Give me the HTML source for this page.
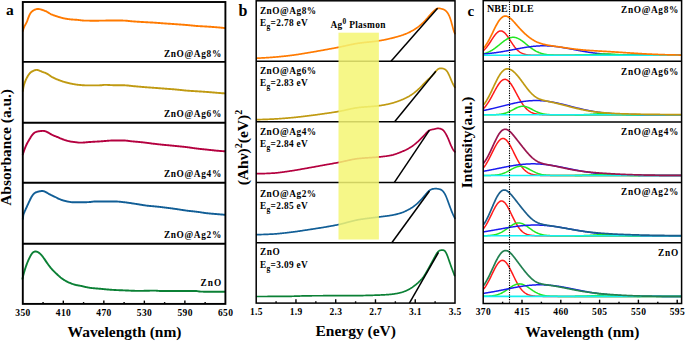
<!DOCTYPE html>
<html><head><meta charset="utf-8"><style>
html,body{margin:0;padding:0;background:#fff;width:685px;height:341px;overflow:hidden}
svg{display:block}
text{font-family:"Liberation Serif",serif;font-weight:bold;fill:#000}
</style></head><body>
<svg width="685" height="341" viewBox="0 0 685 341">
<path d="M22.8,31.10 L23.3,29.26 L23.8,27.78 L24.3,26.60 L24.8,25.63 L25.3,24.78 L25.8,23.88 L26.3,22.89 L26.8,21.81 L27.3,20.59 L27.8,19.27 L28.3,17.91 L28.8,16.59 L29.3,15.40 L29.8,14.36 L30.3,13.49 L30.8,12.76 L31.3,12.16 L31.8,11.65 L32.3,11.21 L32.8,10.84 L33.3,10.51 L33.8,10.22 L34.3,9.96 L34.8,9.73 L35.3,9.52 L35.8,9.33 L36.3,9.18 L36.8,9.06 L37.3,8.98 L37.8,8.94 L38.3,8.95 L38.8,8.99 L39.3,9.07 L39.8,9.18 L40.3,9.31 L40.8,9.45 L41.3,9.61 L41.8,9.77 L42.3,9.93 L42.8,10.10 L43.3,10.27 L43.8,10.44 L44.3,10.62 L44.8,10.81 L45.3,11.01 L45.8,11.23 L46.3,11.47 L46.8,11.72 L47.3,11.99 L47.8,12.28 L48.3,12.58 L48.8,12.89 L49.3,13.19 L49.8,13.49 L50.3,13.77 L50.8,14.04 L51.3,14.29 L51.8,14.52 L52.3,14.73 L52.8,14.94 L53.3,15.13 L53.8,15.32 L54.3,15.50 L54.8,15.68 L55.3,15.85 L55.8,16.02 L56.3,16.18 L56.8,16.34 L57.3,16.50 L57.8,16.66 L58.3,16.82 L58.8,16.97 L59.3,17.13 L59.8,17.28 L60.3,17.42 L60.8,17.57 L61.3,17.71 L61.8,17.84 L62.3,17.97 L62.8,18.09 L63.3,18.21 L63.8,18.32 L64.3,18.42 L64.8,18.52 L65.3,18.62 L65.8,18.71 L66.3,18.79 L66.8,18.88 L67.3,18.96 L67.8,19.03 L68.3,19.10 L68.8,19.17 L69.3,19.23 L69.8,19.29 L70.3,19.35 L70.8,19.40 L71.3,19.44 L71.8,19.48 L72.3,19.52 L72.8,19.56 L73.3,19.59 L73.8,19.62 L74.3,19.65 L74.8,19.68 L75.3,19.71 L75.8,19.75 L76.3,19.78 L76.8,19.82 L77.3,19.86 L77.8,19.90 L78.3,19.95 L78.8,20.01 L79.3,20.07 L79.8,20.14 L80.3,20.21 L80.8,20.28 L81.3,20.35 L81.8,20.41 L82.3,20.46 L82.8,20.51 L83.3,20.55 L83.8,20.58 L84.3,20.60 L84.8,20.61 L85.3,20.62 L85.8,20.63 L86.3,20.64 L86.8,20.64 L87.3,20.65 L87.8,20.66 L88.3,20.66 L88.8,20.67 L89.3,20.67 L89.8,20.68 L90.3,20.68 L90.8,20.68 L91.3,20.69 L91.8,20.69 L92.3,20.69 L92.8,20.69 L93.3,20.70 L93.8,20.70 L94.3,20.70 L94.8,20.70 L95.3,20.70 L95.8,20.70 L96.3,20.70 L96.8,20.69 L97.3,20.69 L97.8,20.69 L98.3,20.68 L98.8,20.68 L99.3,20.67 L99.8,20.67 L100.3,20.66 L100.8,20.65 L101.3,20.65 L101.8,20.64 L102.3,20.63 L102.8,20.62 L103.3,20.62 L103.8,20.61 L104.3,20.60 L104.8,20.59 L105.3,20.58 L105.8,20.57 L106.3,20.57 L106.8,20.56 L107.3,20.55 L107.8,20.54 L108.3,20.54 L108.8,20.53 L109.3,20.52 L109.8,20.52 L110.3,20.51 L110.8,20.51 L111.3,20.51 L111.8,20.50 L112.3,20.50 L112.8,20.50 L113.3,20.50 L113.8,20.50 L114.3,20.50 L114.8,20.50 L115.3,20.50 L115.8,20.51 L116.3,20.51 L116.8,20.51 L117.3,20.51 L117.8,20.52 L118.3,20.52 L118.8,20.53 L119.3,20.53 L119.8,20.53 L120.3,20.54 L120.8,20.55 L121.3,20.55 L121.8,20.56 L122.3,20.56 L122.8,20.57 L123.3,20.58 L123.8,20.59 L124.3,20.60 L124.8,20.62 L125.3,20.65 L125.8,20.68 L126.3,20.72 L126.8,20.77 L127.3,20.82 L127.8,20.88 L128.3,20.94 L128.8,20.99 L129.3,21.05 L129.8,21.11 L130.3,21.16 L130.8,21.21 L131.3,21.25 L131.8,21.29 L132.3,21.33 L132.8,21.37 L133.3,21.41 L133.8,21.45 L134.3,21.48 L134.8,21.52 L135.3,21.55 L135.8,21.59 L136.3,21.62 L136.8,21.65 L137.3,21.69 L137.8,21.72 L138.3,21.75 L138.8,21.78 L139.3,21.81 L139.8,21.85 L140.3,21.88 L140.8,21.91 L141.3,21.94 L141.8,21.97 L142.3,22.00 L142.8,22.03 L143.3,22.06 L143.8,22.09 L144.3,22.11 L144.8,22.14 L145.3,22.17 L145.8,22.20 L146.3,22.22 L146.8,22.25 L147.3,22.28 L147.8,22.30 L148.3,22.33 L148.8,22.35 L149.3,22.38 L149.8,22.40 L150.3,22.43 L150.8,22.46 L151.3,22.48 L151.8,22.51 L152.3,22.54 L152.8,22.57 L153.3,22.60 L153.8,22.63 L154.3,22.66 L154.8,22.69 L155.3,22.72 L155.8,22.76 L156.3,22.79 L156.8,22.83 L157.3,22.86 L157.8,22.90 L158.3,22.94 L158.8,22.98 L159.3,23.02 L159.8,23.06 L160.3,23.10 L160.8,23.14 L161.3,23.18 L161.8,23.22 L162.3,23.26 L162.8,23.29 L163.3,23.33 L163.8,23.37 L164.3,23.41 L164.8,23.45 L165.3,23.48 L165.8,23.52 L166.3,23.55 L166.8,23.59 L167.3,23.62 L167.8,23.66 L168.3,23.69 L168.8,23.72 L169.3,23.76 L169.8,23.79 L170.3,23.82 L170.8,23.85 L171.3,23.89 L171.8,23.92 L172.3,23.95 L172.8,23.98 L173.3,24.02 L173.8,24.05 L174.3,24.08 L174.8,24.12 L175.3,24.15 L175.8,24.19 L176.3,24.22 L176.8,24.26 L177.3,24.29 L177.8,24.33 L178.3,24.37 L178.8,24.40 L179.3,24.44 L179.8,24.48 L180.3,24.51 L180.8,24.55 L181.3,24.59 L181.8,24.63 L182.3,24.66 L182.8,24.70 L183.3,24.74 L183.8,24.78 L184.3,24.82 L184.8,24.86 L185.3,24.90 L185.8,24.94 L186.3,24.99 L186.8,25.03 L187.3,25.07 L187.8,25.12 L188.3,25.17 L188.8,25.21 L189.3,25.26 L189.8,25.31 L190.3,25.36 L190.8,25.41 L191.3,25.47 L191.8,25.52 L192.3,25.57 L192.8,25.62 L193.3,25.67 L193.8,25.71 L194.3,25.76 L194.8,25.81 L195.3,25.85 L195.8,25.89 L196.3,25.93 L196.8,25.97 L197.3,26.01 L197.8,26.04 L198.3,26.08 L198.8,26.11 L199.3,26.14 L199.8,26.17 L200.3,26.20 L200.8,26.22 L201.3,26.25 L201.8,26.28 L202.3,26.30 L202.8,26.33 L203.3,26.36 L203.8,26.38 L204.3,26.41 L204.8,26.44 L205.3,26.46 L205.8,26.49 L206.3,26.52 L206.8,26.55 L207.3,26.58 L207.8,26.62 L208.3,26.65 L208.8,26.68 L209.3,26.72 L209.8,26.75 L210.3,26.78 L210.8,26.82 L211.3,26.86 L211.8,26.89 L212.3,26.93 L212.8,26.97 L213.3,27.01 L213.8,27.04 L214.3,27.08 L214.8,27.12 L215.3,27.16 L215.8,27.20 L216.3,27.25 L216.8,27.29 L217.3,27.33 L217.8,27.38 L218.3,27.42 L218.8,27.47 L219.3,27.51 L219.8,27.56 L220.3,27.61 L220.8,27.66 L221.3,27.71 L221.8,27.76 L222.3,27.81 L222.8,27.87 L223.3,27.92 L223.8,27.97 L224.3,28.03 L224.8,28.09 L224.9,28.10" fill="none" stroke="#ff7a00" stroke-width="1.9" stroke-linejoin="round" stroke-linecap="round" />
<path d="M22.8,91.10 L23.3,87.90 L23.8,85.60 L24.3,83.86 L24.8,82.36 L25.3,81.05 L25.8,79.91 L26.3,78.81 L26.8,77.83 L27.3,76.93 L27.8,76.08 L28.3,75.28 L28.8,74.53 L29.3,73.84 L29.8,73.24 L30.3,72.72 L30.8,72.28 L31.3,71.91 L31.8,71.60 L32.3,71.32 L32.8,71.07 L33.3,70.84 L33.8,70.62 L34.3,70.43 L34.8,70.25 L35.3,70.10 L35.8,69.98 L36.3,69.92 L36.8,69.90 L37.3,69.95 L37.8,70.04 L38.3,70.19 L38.8,70.36 L39.3,70.56 L39.8,70.78 L40.3,71.00 L40.8,71.22 L41.3,71.43 L41.8,71.64 L42.3,71.84 L42.8,72.02 L43.3,72.20 L43.8,72.38 L44.3,72.55 L44.8,72.73 L45.3,72.92 L45.8,73.12 L46.3,73.34 L46.8,73.59 L47.3,73.86 L47.8,74.16 L48.3,74.48 L48.8,74.83 L49.3,75.18 L49.8,75.54 L50.3,75.90 L50.8,76.24 L51.3,76.57 L51.8,76.88 L52.3,77.17 L52.8,77.44 L53.3,77.70 L53.8,77.95 L54.3,78.19 L54.8,78.42 L55.3,78.64 L55.8,78.86 L56.3,79.07 L56.8,79.28 L57.3,79.48 L57.8,79.68 L58.3,79.88 L58.8,80.07 L59.3,80.25 L59.8,80.44 L60.3,80.62 L60.8,80.80 L61.3,80.98 L61.8,81.15 L62.3,81.32 L62.8,81.48 L63.3,81.65 L63.8,81.80 L64.3,81.96 L64.8,82.11 L65.3,82.25 L65.8,82.39 L66.3,82.53 L66.8,82.66 L67.3,82.79 L67.8,82.91 L68.3,83.03 L68.8,83.15 L69.3,83.26 L69.8,83.37 L70.3,83.48 L70.8,83.58 L71.3,83.68 L71.8,83.78 L72.3,83.87 L72.8,83.97 L73.3,84.06 L73.8,84.15 L74.3,84.24 L74.8,84.33 L75.3,84.41 L75.8,84.49 L76.3,84.57 L76.8,84.64 L77.3,84.70 L77.8,84.76 L78.3,84.82 L78.8,84.87 L79.3,84.92 L79.8,84.97 L80.3,85.01 L80.8,85.06 L81.3,85.10 L81.8,85.14 L82.3,85.18 L82.8,85.21 L83.3,85.25 L83.8,85.28 L84.3,85.31 L84.8,85.33 L85.3,85.35 L85.8,85.37 L86.3,85.38 L86.8,85.39 L87.3,85.39 L87.8,85.40 L88.3,85.40 L88.8,85.40 L89.3,85.40 L89.8,85.40 L90.3,85.40 L90.8,85.40 L91.3,85.39 L91.8,85.39 L92.3,85.39 L92.8,85.39 L93.3,85.39 L93.8,85.38 L94.3,85.38 L94.8,85.38 L95.3,85.37 L95.8,85.37 L96.3,85.36 L96.8,85.36 L97.3,85.35 L97.8,85.35 L98.3,85.34 L98.8,85.34 L99.3,85.33 L99.8,85.32 L100.3,85.30 L100.8,85.28 L101.3,85.24 L101.8,85.19 L102.3,85.13 L102.8,85.06 L103.3,84.99 L103.8,84.92 L104.3,84.88 L104.8,84.85 L105.3,84.84 L105.8,84.85 L106.3,84.86 L106.8,84.88 L107.3,84.91 L107.8,84.93 L108.3,84.96 L108.8,84.99 L109.3,85.02 L109.8,85.05 L110.3,85.08 L110.8,85.11 L111.3,85.13 L111.8,85.15 L112.3,85.17 L112.8,85.19 L113.3,85.20 L113.8,85.21 L114.3,85.21 L114.8,85.22 L115.3,85.22 L115.8,85.23 L116.3,85.23 L116.8,85.24 L117.3,85.24 L117.8,85.24 L118.3,85.24 L118.8,85.25 L119.3,85.25 L119.8,85.25 L120.3,85.26 L120.8,85.26 L121.3,85.26 L121.8,85.27 L122.3,85.27 L122.8,85.28 L123.3,85.28 L123.8,85.29 L124.3,85.30 L124.8,85.32 L125.3,85.34 L125.8,85.36 L126.3,85.39 L126.8,85.43 L127.3,85.47 L127.8,85.52 L128.3,85.57 L128.8,85.63 L129.3,85.69 L129.8,85.75 L130.3,85.81 L130.8,85.87 L131.3,85.92 L131.8,85.98 L132.3,86.03 L132.8,86.08 L133.3,86.13 L133.8,86.18 L134.3,86.23 L134.8,86.27 L135.3,86.32 L135.8,86.36 L136.3,86.41 L136.8,86.45 L137.3,86.50 L137.8,86.54 L138.3,86.58 L138.8,86.63 L139.3,86.67 L139.8,86.72 L140.3,86.76 L140.8,86.80 L141.3,86.84 L141.8,86.89 L142.3,86.93 L142.8,86.97 L143.3,87.01 L143.8,87.05 L144.3,87.10 L144.8,87.14 L145.3,87.18 L145.8,87.22 L146.3,87.26 L146.8,87.30 L147.3,87.34 L147.8,87.38 L148.3,87.41 L148.8,87.45 L149.3,87.49 L149.8,87.53 L150.3,87.56 L150.8,87.60 L151.3,87.63 L151.8,87.67 L152.3,87.71 L152.8,87.74 L153.3,87.78 L153.8,87.81 L154.3,87.85 L154.8,87.89 L155.3,87.92 L155.8,87.96 L156.3,88.00 L156.8,88.04 L157.3,88.07 L157.8,88.11 L158.3,88.15 L158.8,88.19 L159.3,88.22 L159.8,88.26 L160.3,88.30 L160.8,88.34 L161.3,88.38 L161.8,88.42 L162.3,88.45 L162.8,88.49 L163.3,88.53 L163.8,88.57 L164.3,88.61 L164.8,88.65 L165.3,88.68 L165.8,88.72 L166.3,88.76 L166.8,88.80 L167.3,88.83 L167.8,88.87 L168.3,88.91 L168.8,88.94 L169.3,88.98 L169.8,89.02 L170.3,89.05 L170.8,89.09 L171.3,89.13 L171.8,89.16 L172.3,89.20 L172.8,89.24 L173.3,89.28 L173.8,89.32 L174.3,89.36 L174.8,89.40 L175.3,89.44 L175.8,89.49 L176.3,89.53 L176.8,89.58 L177.3,89.63 L177.8,89.68 L178.3,89.73 L178.8,89.78 L179.3,89.84 L179.8,89.90 L180.3,89.95 L180.8,90.01 L181.3,90.06 L181.8,90.12 L182.3,90.18 L182.8,90.23 L183.3,90.29 L183.8,90.34 L184.3,90.39 L184.8,90.44 L185.3,90.49 L185.8,90.53 L186.3,90.58 L186.8,90.62 L187.3,90.66 L187.8,90.70 L188.3,90.73 L188.8,90.77 L189.3,90.81 L189.8,90.84 L190.3,90.87 L190.8,90.90 L191.3,90.94 L191.8,90.97 L192.3,91.00 L192.8,91.03 L193.3,91.06 L193.8,91.09 L194.3,91.12 L194.8,91.15 L195.3,91.19 L195.8,91.22 L196.3,91.25 L196.8,91.28 L197.3,91.31 L197.8,91.35 L198.3,91.38 L198.8,91.41 L199.3,91.44 L199.8,91.48 L200.3,91.51 L200.8,91.54 L201.3,91.57 L201.8,91.60 L202.3,91.64 L202.8,91.67 L203.3,91.70 L203.8,91.73 L204.3,91.77 L204.8,91.80 L205.3,91.84 L205.8,91.87 L206.3,91.91 L206.8,91.94 L207.3,91.98 L207.8,92.02 L208.3,92.06 L208.8,92.10 L209.3,92.14 L209.8,92.18 L210.3,92.22 L210.8,92.26 L211.3,92.31 L211.8,92.35 L212.3,92.40 L212.8,92.44 L213.3,92.49 L213.8,92.53 L214.3,92.57 L214.8,92.62 L215.3,92.66 L215.8,92.71 L216.3,92.75 L216.8,92.79 L217.3,92.83 L217.8,92.87 L218.3,92.91 L218.8,92.95 L219.3,92.99 L219.8,93.03 L220.3,93.07 L220.8,93.11 L221.3,93.14 L221.8,93.18 L222.3,93.22 L222.8,93.25 L223.3,93.29 L223.8,93.32 L224.3,93.36 L224.8,93.39 L224.9,93.40" fill="none" stroke="#c09a12" stroke-width="1.9" stroke-linejoin="round" stroke-linecap="round" />
<path d="M22.8,154.50 L23.3,152.84 L23.8,151.36 L24.3,149.97 L24.8,148.62 L25.3,147.33 L25.8,146.16 L26.3,145.03 L26.8,143.99 L27.3,143.03 L27.8,142.13 L28.3,141.27 L28.8,140.43 L29.3,139.59 L29.8,138.75 L30.3,137.90 L30.8,137.08 L31.3,136.30 L31.8,135.57 L32.3,134.90 L32.8,134.30 L33.3,133.76 L33.8,133.29 L34.3,132.89 L34.8,132.54 L35.3,132.26 L35.8,132.03 L36.3,131.85 L36.8,131.70 L37.3,131.58 L37.8,131.48 L38.3,131.39 L38.8,131.31 L39.3,131.23 L39.8,131.16 L40.3,131.09 L40.8,131.03 L41.3,130.97 L41.8,130.93 L42.3,130.89 L42.8,130.88 L43.3,130.89 L43.8,130.94 L44.3,131.01 L44.8,131.13 L45.3,131.27 L45.8,131.45 L46.3,131.64 L46.8,131.86 L47.3,132.10 L47.8,132.35 L48.3,132.63 L48.8,132.91 L49.3,133.22 L49.8,133.52 L50.3,133.83 L50.8,134.13 L51.3,134.42 L51.8,134.69 L52.3,134.94 L52.8,135.17 L53.3,135.40 L53.8,135.61 L54.3,135.81 L54.8,136.01 L55.3,136.20 L55.8,136.40 L56.3,136.59 L56.8,136.79 L57.3,137.00 L57.8,137.20 L58.3,137.42 L58.8,137.63 L59.3,137.85 L59.8,138.07 L60.3,138.30 L60.8,138.51 L61.3,138.73 L61.8,138.94 L62.3,139.14 L62.8,139.33 L63.3,139.51 L63.8,139.69 L64.3,139.87 L64.8,140.03 L65.3,140.19 L65.8,140.35 L66.3,140.50 L66.8,140.65 L67.3,140.79 L67.8,140.92 L68.3,141.05 L68.8,141.17 L69.3,141.28 L69.8,141.38 L70.3,141.47 L70.8,141.56 L71.3,141.64 L71.8,141.72 L72.3,141.79 L72.8,141.86 L73.3,141.93 L73.8,141.99 L74.3,142.06 L74.8,142.12 L75.3,142.18 L75.8,142.24 L76.3,142.31 L76.8,142.37 L77.3,142.43 L77.8,142.49 L78.3,142.55 L78.8,142.59 L79.3,142.63 L79.8,142.65 L80.3,142.67 L80.8,142.67 L81.3,142.66 L81.8,142.64 L82.3,142.61 L82.8,142.58 L83.3,142.55 L83.8,142.51 L84.3,142.47 L84.8,142.43 L85.3,142.38 L85.8,142.34 L86.3,142.29 L86.8,142.25 L87.3,142.20 L87.8,142.16 L88.3,142.11 L88.8,142.07 L89.3,142.04 L89.8,142.00 L90.3,141.96 L90.8,141.93 L91.3,141.90 L91.8,141.87 L92.3,141.84 L92.8,141.81 L93.3,141.78 L93.8,141.75 L94.3,141.72 L94.8,141.69 L95.3,141.66 L95.8,141.63 L96.3,141.60 L96.8,141.58 L97.3,141.55 L97.8,141.52 L98.3,141.49 L98.8,141.46 L99.3,141.43 L99.8,141.40 L100.3,141.37 L100.8,141.34 L101.3,141.30 L101.8,141.27 L102.3,141.23 L102.8,141.19 L103.3,141.15 L103.8,141.11 L104.3,141.07 L104.8,141.02 L105.3,140.98 L105.8,140.93 L106.3,140.89 L106.8,140.85 L107.3,140.80 L107.8,140.76 L108.3,140.72 L108.8,140.68 L109.3,140.65 L109.8,140.62 L110.3,140.59 L110.8,140.57 L111.3,140.55 L111.8,140.53 L112.3,140.52 L112.8,140.51 L113.3,140.51 L113.8,140.50 L114.3,140.50 L114.8,140.50 L115.3,140.50 L115.8,140.50 L116.3,140.50 L116.8,140.50 L117.3,140.50 L117.8,140.50 L118.3,140.50 L118.8,140.50 L119.3,140.50 L119.8,140.50 L120.3,140.50 L120.8,140.50 L121.3,140.50 L121.8,140.50 L122.3,140.50 L122.8,140.50 L123.3,140.50 L123.8,140.51 L124.3,140.51 L124.8,140.53 L125.3,140.55 L125.8,140.58 L126.3,140.63 L126.8,140.68 L127.3,140.74 L127.8,140.81 L128.3,140.88 L128.8,140.95 L129.3,141.02 L129.8,141.09 L130.3,141.15 L130.8,141.21 L131.3,141.26 L131.8,141.32 L132.3,141.37 L132.8,141.42 L133.3,141.46 L133.8,141.51 L134.3,141.56 L134.8,141.60 L135.3,141.65 L135.8,141.69 L136.3,141.74 L136.8,141.78 L137.3,141.82 L137.8,141.87 L138.3,141.91 L138.8,141.96 L139.3,142.01 L139.8,142.05 L140.3,142.10 L140.8,142.15 L141.3,142.20 L141.8,142.25 L142.3,142.30 L142.8,142.36 L143.3,142.42 L143.8,142.47 L144.3,142.53 L144.8,142.59 L145.3,142.66 L145.8,142.72 L146.3,142.78 L146.8,142.85 L147.3,142.91 L147.8,142.98 L148.3,143.04 L148.8,143.11 L149.3,143.18 L149.8,143.24 L150.3,143.31 L150.8,143.37 L151.3,143.44 L151.8,143.50 L152.3,143.57 L152.8,143.63 L153.3,143.69 L153.8,143.76 L154.3,143.81 L154.8,143.87 L155.3,143.93 L155.8,143.99 L156.3,144.04 L156.8,144.10 L157.3,144.15 L157.8,144.21 L158.3,144.26 L158.8,144.32 L159.3,144.37 L159.8,144.42 L160.3,144.47 L160.8,144.52 L161.3,144.58 L161.8,144.63 L162.3,144.68 L162.8,144.73 L163.3,144.78 L163.8,144.83 L164.3,144.88 L164.8,144.93 L165.3,144.98 L165.8,145.03 L166.3,145.08 L166.8,145.13 L167.3,145.17 L167.8,145.22 L168.3,145.27 L168.8,145.32 L169.3,145.36 L169.8,145.41 L170.3,145.46 L170.8,145.50 L171.3,145.55 L171.8,145.60 L172.3,145.64 L172.8,145.69 L173.3,145.74 L173.8,145.79 L174.3,145.83 L174.8,145.88 L175.3,145.93 L175.8,145.98 L176.3,146.03 L176.8,146.08 L177.3,146.13 L177.8,146.18 L178.3,146.23 L178.8,146.28 L179.3,146.33 L179.8,146.38 L180.3,146.43 L180.8,146.48 L181.3,146.53 L181.8,146.58 L182.3,146.63 L182.8,146.69 L183.3,146.74 L183.8,146.79 L184.3,146.85 L184.8,146.91 L185.3,146.96 L185.8,147.02 L186.3,147.08 L186.8,147.14 L187.3,147.21 L187.8,147.27 L188.3,147.34 L188.8,147.41 L189.3,147.48 L189.8,147.55 L190.3,147.63 L190.8,147.70 L191.3,147.77 L191.8,147.85 L192.3,147.93 L192.8,148.00 L193.3,148.07 L193.8,148.15 L194.3,148.22 L194.8,148.29 L195.3,148.36 L195.8,148.43 L196.3,148.49 L196.8,148.56 L197.3,148.62 L197.8,148.68 L198.3,148.74 L198.8,148.79 L199.3,148.85 L199.8,148.90 L200.3,148.96 L200.8,149.01 L201.3,149.06 L201.8,149.11 L202.3,149.16 L202.8,149.21 L203.3,149.27 L203.8,149.32 L204.3,149.37 L204.8,149.42 L205.3,149.47 L205.8,149.52 L206.3,149.57 L206.8,149.62 L207.3,149.67 L207.8,149.72 L208.3,149.78 L208.8,149.83 L209.3,149.88 L209.8,149.94 L210.3,149.99 L210.8,150.05 L211.3,150.10 L211.8,150.16 L212.3,150.21 L212.8,150.27 L213.3,150.32 L213.8,150.38 L214.3,150.43 L214.8,150.48 L215.3,150.53 L215.8,150.58 L216.3,150.63 L216.8,150.68 L217.3,150.73 L217.8,150.77 L218.3,150.81 L218.8,150.86 L219.3,150.90 L219.8,150.94 L220.3,150.98 L220.8,151.02 L221.3,151.05 L221.8,151.09 L222.3,151.13 L222.8,151.16 L223.3,151.19 L223.8,151.23 L224.3,151.26 L224.8,151.29 L224.9,151.30" fill="none" stroke="#b4003f" stroke-width="1.9" stroke-linejoin="round" stroke-linecap="round" />
<path d="M22.8,219.00 L23.3,215.06 L23.8,213.47 L24.3,212.28 L24.8,211.19 L25.3,210.08 L25.8,208.96 L26.3,207.87 L26.8,206.80 L27.3,205.72 L27.8,204.65 L28.3,203.56 L28.8,202.47 L29.3,201.38 L29.8,200.30 L30.3,199.25 L30.8,198.26 L31.3,197.33 L31.8,196.48 L32.3,195.69 L32.8,194.99 L33.3,194.37 L33.8,193.83 L34.3,193.37 L34.8,193.00 L35.3,192.69 L35.8,192.44 L36.3,192.23 L36.8,192.06 L37.3,191.90 L37.8,191.76 L38.3,191.63 L38.8,191.51 L39.3,191.40 L39.8,191.30 L40.3,191.20 L40.8,191.12 L41.3,191.06 L41.8,191.03 L42.3,191.03 L42.8,191.06 L43.3,191.14 L43.8,191.26 L44.3,191.42 L44.8,191.61 L45.3,191.83 L45.8,192.07 L46.3,192.34 L46.8,192.63 L47.3,192.93 L47.8,193.25 L48.3,193.56 L48.8,193.86 L49.3,194.15 L49.8,194.42 L50.3,194.68 L50.8,194.93 L51.3,195.16 L51.8,195.39 L52.3,195.62 L52.8,195.84 L53.3,196.07 L53.8,196.30 L54.3,196.53 L54.8,196.77 L55.3,197.02 L55.8,197.27 L56.3,197.52 L56.8,197.78 L57.3,198.04 L57.8,198.29 L58.3,198.54 L58.8,198.78 L59.3,199.01 L59.8,199.22 L60.3,199.43 L60.8,199.62 L61.3,199.81 L61.8,199.98 L62.3,200.15 L62.8,200.32 L63.3,200.47 L63.8,200.62 L64.3,200.76 L64.8,200.90 L65.3,201.03 L65.8,201.15 L66.3,201.26 L66.8,201.37 L67.3,201.47 L67.8,201.57 L68.3,201.66 L68.8,201.75 L69.3,201.84 L69.8,201.92 L70.3,202.00 L70.8,202.07 L71.3,202.13 L71.8,202.18 L72.3,202.22 L72.8,202.25 L73.3,202.27 L73.8,202.29 L74.3,202.29 L74.8,202.30 L75.3,202.30 L75.8,202.30 L76.3,202.30 L76.8,202.30 L77.3,202.30 L77.8,202.30 L78.3,202.30 L78.8,202.30 L79.3,202.30 L79.8,202.30 L80.3,202.30 L80.8,202.30 L81.3,202.29 L81.8,202.29 L82.3,202.28 L82.8,202.28 L83.3,202.27 L83.8,202.26 L84.3,202.25 L84.8,202.24 L85.3,202.23 L85.8,202.22 L86.3,202.20 L86.8,202.19 L87.3,202.17 L87.8,202.15 L88.3,202.13 L88.8,202.10 L89.3,202.07 L89.8,202.04 L90.3,202.00 L90.8,201.94 L91.3,201.87 L91.8,201.79 L92.3,201.71 L92.8,201.64 L93.3,201.58 L93.8,201.54 L94.3,201.52 L94.8,201.51 L95.3,201.50 L95.8,201.50 L96.3,201.50 L96.8,201.50 L97.3,201.50 L97.8,201.50 L98.3,201.50 L98.8,201.50 L99.3,201.50 L99.8,201.50 L100.3,201.50 L100.8,201.50 L101.3,201.50 L101.8,201.50 L102.3,201.50 L102.8,201.50 L103.3,201.50 L103.8,201.50 L104.3,201.50 L104.8,201.50 L105.3,201.50 L105.8,201.50 L106.3,201.50 L106.8,201.50 L107.3,201.50 L107.8,201.50 L108.3,201.50 L108.8,201.50 L109.3,201.50 L109.8,201.50 L110.3,201.50 L110.8,201.50 L111.3,201.50 L111.8,201.50 L112.3,201.50 L112.8,201.50 L113.3,201.50 L113.8,201.50 L114.3,201.50 L114.8,201.50 L115.3,201.51 L115.8,201.52 L116.3,201.53 L116.8,201.55 L117.3,201.57 L117.8,201.60 L118.3,201.63 L118.8,201.67 L119.3,201.71 L119.8,201.76 L120.3,201.81 L120.8,201.86 L121.3,201.92 L121.8,201.97 L122.3,202.03 L122.8,202.08 L123.3,202.14 L123.8,202.20 L124.3,202.26 L124.8,202.31 L125.3,202.37 L125.8,202.43 L126.3,202.49 L126.8,202.56 L127.3,202.62 L127.8,202.69 L128.3,202.76 L128.8,202.83 L129.3,202.90 L129.8,202.98 L130.3,203.05 L130.8,203.13 L131.3,203.21 L131.8,203.28 L132.3,203.36 L132.8,203.44 L133.3,203.52 L133.8,203.60 L134.3,203.68 L134.8,203.75 L135.3,203.83 L135.8,203.91 L136.3,203.99 L136.8,204.06 L137.3,204.14 L137.8,204.22 L138.3,204.30 L138.8,204.38 L139.3,204.47 L139.8,204.55 L140.3,204.63 L140.8,204.72 L141.3,204.80 L141.8,204.88 L142.3,204.97 L142.8,205.05 L143.3,205.13 L143.8,205.21 L144.3,205.28 L144.8,205.36 L145.3,205.43 L145.8,205.50 L146.3,205.57 L146.8,205.64 L147.3,205.70 L147.8,205.76 L148.3,205.81 L148.8,205.86 L149.3,205.91 L149.8,205.96 L150.3,206.00 L150.8,206.05 L151.3,206.09 L151.8,206.13 L152.3,206.17 L152.8,206.21 L153.3,206.25 L153.8,206.30 L154.3,206.34 L154.8,206.39 L155.3,206.43 L155.8,206.48 L156.3,206.53 L156.8,206.59 L157.3,206.64 L157.8,206.69 L158.3,206.75 L158.8,206.80 L159.3,206.86 L159.8,206.92 L160.3,206.97 L160.8,207.03 L161.3,207.09 L161.8,207.15 L162.3,207.21 L162.8,207.27 L163.3,207.33 L163.8,207.39 L164.3,207.45 L164.8,207.51 L165.3,207.58 L165.8,207.64 L166.3,207.70 L166.8,207.76 L167.3,207.83 L167.8,207.89 L168.3,207.95 L168.8,208.02 L169.3,208.08 L169.8,208.15 L170.3,208.22 L170.8,208.28 L171.3,208.35 L171.8,208.42 L172.3,208.49 L172.8,208.55 L173.3,208.62 L173.8,208.69 L174.3,208.76 L174.8,208.83 L175.3,208.90 L175.8,208.97 L176.3,209.05 L176.8,209.12 L177.3,209.19 L177.8,209.27 L178.3,209.35 L178.8,209.43 L179.3,209.50 L179.8,209.58 L180.3,209.66 L180.8,209.74 L181.3,209.82 L181.8,209.90 L182.3,209.98 L182.8,210.06 L183.3,210.14 L183.8,210.21 L184.3,210.29 L184.8,210.36 L185.3,210.43 L185.8,210.50 L186.3,210.57 L186.8,210.63 L187.3,210.70 L187.8,210.76 L188.3,210.82 L188.8,210.88 L189.3,210.93 L189.8,210.99 L190.3,211.04 L190.8,211.10 L191.3,211.15 L191.8,211.20 L192.3,211.26 L192.8,211.31 L193.3,211.37 L193.8,211.42 L194.3,211.47 L194.8,211.53 L195.3,211.59 L195.8,211.65 L196.3,211.71 L196.8,211.77 L197.3,211.83 L197.8,211.90 L198.3,211.97 L198.8,212.04 L199.3,212.11 L199.8,212.18 L200.3,212.26 L200.8,212.33 L201.3,212.41 L201.8,212.49 L202.3,212.57 L202.8,212.64 L203.3,212.72 L203.8,212.79 L204.3,212.87 L204.8,212.94 L205.3,213.01 L205.8,213.07 L206.3,213.14 L206.8,213.20 L207.3,213.26 L207.8,213.31 L208.3,213.37 L208.8,213.42 L209.3,213.47 L209.8,213.51 L210.3,213.56 L210.8,213.60 L211.3,213.65 L211.8,213.69 L212.3,213.73 L212.8,213.77 L213.3,213.81 L213.8,213.85 L214.3,213.89 L214.8,213.93 L215.3,213.97 L215.8,214.01 L216.3,214.05 L216.8,214.09 L217.3,214.13 L217.8,214.18 L218.3,214.22 L218.8,214.26 L219.3,214.31 L219.8,214.35 L220.3,214.39 L220.8,214.44 L221.3,214.48 L221.8,214.52 L222.3,214.57 L222.8,214.61 L223.3,214.66 L223.8,214.70 L224.3,214.74 L224.8,214.79 L224.9,214.80" fill="none" stroke="#115e96" stroke-width="1.9" stroke-linejoin="round" stroke-linecap="round" />
<path d="M22.5,278.80 L23.0,276.43 L23.5,274.39 L24.0,272.58 L24.5,270.91 L25.0,269.30 L25.5,267.77 L26.0,266.27 L26.5,264.86 L27.0,263.53 L27.5,262.27 L28.0,261.08 L28.5,259.96 L29.0,258.88 L29.5,257.85 L30.0,256.85 L30.5,255.90 L31.0,255.00 L31.5,254.19 L32.0,253.49 L32.5,252.90 L33.0,252.44 L33.5,252.08 L34.0,251.82 L34.5,251.65 L35.0,251.54 L35.5,251.51 L36.0,251.54 L36.5,251.63 L37.0,251.78 L37.5,251.98 L38.0,252.22 L38.5,252.51 L39.0,252.83 L39.5,253.21 L40.0,253.63 L40.5,254.10 L41.0,254.62 L41.5,255.17 L42.0,255.76 L42.5,256.38 L43.0,257.04 L43.5,257.72 L44.0,258.43 L44.5,259.16 L45.0,259.90 L45.5,260.64 L46.0,261.39 L46.5,262.12 L47.0,262.84 L47.5,263.56 L48.0,264.25 L48.5,264.94 L49.0,265.62 L49.5,266.27 L50.0,266.91 L50.5,267.54 L51.0,268.14 L51.5,268.72 L52.0,269.28 L52.5,269.83 L53.0,270.36 L53.5,270.88 L54.0,271.38 L54.5,271.88 L55.0,272.37 L55.5,272.85 L56.0,273.33 L56.5,273.80 L57.0,274.27 L57.5,274.73 L58.0,275.20 L58.5,275.65 L59.0,276.10 L59.5,276.54 L60.0,276.97 L60.5,277.39 L61.0,277.79 L61.5,278.17 L62.0,278.54 L62.5,278.90 L63.0,279.24 L63.5,279.57 L64.0,279.88 L64.5,280.19 L65.0,280.49 L65.5,280.78 L66.0,281.06 L66.5,281.33 L67.0,281.59 L67.5,281.84 L68.0,282.09 L68.5,282.32 L69.0,282.55 L69.5,282.77 L70.0,282.98 L70.5,283.19 L71.0,283.39 L71.5,283.58 L72.0,283.77 L72.5,283.96 L73.0,284.13 L73.5,284.30 L74.0,284.46 L74.5,284.61 L75.0,284.75 L75.5,284.88 L76.0,285.00 L76.5,285.11 L77.0,285.21 L77.5,285.30 L78.0,285.38 L78.5,285.47 L79.0,285.55 L79.5,285.63 L80.0,285.72 L80.5,285.81 L81.0,285.91 L81.5,286.02 L82.0,286.13 L82.5,286.24 L83.0,286.36 L83.5,286.48 L84.0,286.60 L84.5,286.72 L85.0,286.84 L85.5,286.96 L86.0,287.08 L86.5,287.19 L87.0,287.30 L87.5,287.40 L88.0,287.50 L88.5,287.59 L89.0,287.68 L89.5,287.75 L90.0,287.82 L90.5,287.89 L91.0,287.95 L91.5,288.01 L92.0,288.07 L92.5,288.12 L93.0,288.17 L93.5,288.22 L94.0,288.27 L94.5,288.32 L95.0,288.36 L95.5,288.41 L96.0,288.45 L96.5,288.49 L97.0,288.53 L97.5,288.57 L98.0,288.61 L98.5,288.66 L99.0,288.70 L99.5,288.74 L100.0,288.78 L100.5,288.82 L101.0,288.87 L101.5,288.91 L102.0,288.96 L102.5,289.00 L103.0,289.05 L103.5,289.10 L104.0,289.14 L104.5,289.19 L105.0,289.24 L105.5,289.29 L106.0,289.33 L106.5,289.38 L107.0,289.43 L107.5,289.47 L108.0,289.52 L108.5,289.56 L109.0,289.60 L109.5,289.65 L110.0,289.69 L110.5,289.73 L111.0,289.76 L111.5,289.80 L112.0,289.83 L112.5,289.86 L113.0,289.90 L113.5,289.92 L114.0,289.95 L114.5,289.98 L115.0,290.00 L115.5,290.03 L116.0,290.05 L116.5,290.08 L117.0,290.10 L117.5,290.12 L118.0,290.14 L118.5,290.16 L119.0,290.18 L119.5,290.20 L120.0,290.22 L120.5,290.24 L121.0,290.26 L121.5,290.28 L122.0,290.30 L122.5,290.32 L123.0,290.34 L123.5,290.35 L124.0,290.37 L124.5,290.39 L125.0,290.41 L125.5,290.43 L126.0,290.46 L126.5,290.48 L127.0,290.50 L127.5,290.52 L128.0,290.55 L128.5,290.57 L129.0,290.59 L129.5,290.62 L130.0,290.64 L130.5,290.66 L131.0,290.69 L131.5,290.71 L132.0,290.73 L132.5,290.75 L133.0,290.77 L133.5,290.79 L134.0,290.81 L134.5,290.82 L135.0,290.84 L135.5,290.85 L136.0,290.86 L136.5,290.87 L137.0,290.88 L137.5,290.89 L138.0,290.89 L138.5,290.89 L139.0,290.89 L139.5,290.89 L140.0,290.89 L140.5,290.89 L141.0,290.88 L141.5,290.87 L142.0,290.87 L142.5,290.86 L143.0,290.85 L143.5,290.84 L144.0,290.82 L144.5,290.81 L145.0,290.80 L145.5,290.79 L146.0,290.77 L146.5,290.76 L147.0,290.75 L147.5,290.73 L148.0,290.72 L148.5,290.71 L149.0,290.69 L149.5,290.68 L150.0,290.67 L150.5,290.66 L151.0,290.65 L151.5,290.64 L152.0,290.63 L152.5,290.62 L153.0,290.62 L153.5,290.61 L154.0,290.61 L154.5,290.62 L155.0,290.63 L155.5,290.64 L156.0,290.67 L156.5,290.70 L157.0,290.74 L157.5,290.79 L158.0,290.83 L158.5,290.87 L159.0,290.91 L159.5,290.94 L160.0,290.97 L160.5,290.98 L161.0,290.99 L161.5,291.00 L162.0,291.00 L162.5,291.00 L163.0,291.00 L163.5,291.00 L164.0,291.00 L164.5,291.00 L165.0,291.00 L165.5,291.00 L166.0,291.00 L166.5,291.00 L167.0,291.00 L167.5,291.00 L168.0,291.00 L168.5,291.00 L169.0,291.00 L169.5,291.00 L170.0,291.00 L170.5,291.00 L171.0,291.00 L171.5,291.00 L172.0,291.00 L172.5,291.00 L173.0,291.00 L173.5,291.00 L174.0,291.00 L174.5,291.00 L175.0,291.00 L175.5,291.00 L176.0,291.00 L176.5,291.00 L177.0,291.00 L177.5,291.00 L178.0,291.00 L178.5,291.00 L179.0,291.00 L179.5,291.00 L180.0,291.00 L180.5,291.00 L181.0,291.00 L181.5,291.00 L182.0,291.00 L182.5,291.00 L183.0,291.00 L183.5,291.00 L184.0,291.00 L184.5,291.00 L185.0,291.00 L185.5,291.00 L186.0,291.00 L186.5,291.00 L187.0,291.00 L187.5,291.00 L188.0,291.00 L188.5,291.00 L189.0,291.00 L189.5,291.00 L190.0,291.00 L190.5,291.00 L191.0,291.00 L191.5,291.00 L192.0,291.00 L192.5,291.00 L193.0,291.00 L193.5,291.00 L194.0,291.00 L194.5,291.00 L195.0,291.00 L195.5,291.01 L196.0,291.03 L196.5,291.06 L197.0,291.11 L197.5,291.18 L198.0,291.27 L198.5,291.37 L199.0,291.45 L199.5,291.52 L200.0,291.57 L200.5,291.61 L201.0,291.63 L201.5,291.64 L202.0,291.65 L202.5,291.66 L203.0,291.67 L203.5,291.68 L204.0,291.68 L204.5,291.69 L205.0,291.70 L205.5,291.70 L206.0,291.71 L206.5,291.72 L207.0,291.72 L207.5,291.73 L208.0,291.73 L208.5,291.74 L209.0,291.74 L209.5,291.75 L210.0,291.75 L210.5,291.75 L211.0,291.76 L211.5,291.76 L212.0,291.77 L212.5,291.77 L213.0,291.77 L213.5,291.77 L214.0,291.78 L214.5,291.78 L215.0,291.78 L215.5,291.78 L216.0,291.79 L216.5,291.79 L217.0,291.79 L217.5,291.79 L218.0,291.79 L218.5,291.79 L219.0,291.79 L219.5,291.80 L220.0,291.80 L220.5,291.80 L221.0,291.80 L221.5,291.80 L222.0,291.80 L222.5,291.80 L223.0,291.80 L223.5,291.80 L224.0,291.80 L224.5,291.80 L224.9,291.80" fill="none" stroke="#0b8035" stroke-width="1.9" stroke-linejoin="round" stroke-linecap="round" />
<g stroke="#000" stroke-width="1.9" fill="none">
<rect x="22.8" y="2.0" width="202.60" height="301.90"/>
<line x1="22.8" y1="61.9" x2="225.4" y2="61.9"/>
<line x1="22.8" y1="122.75" x2="225.4" y2="122.75"/>
<line x1="22.8" y1="182.8" x2="225.4" y2="182.8"/>
<line x1="22.8" y1="243.8" x2="225.4" y2="243.8"/>
<line x1="43.06" y1="303.9" x2="43.06" y2="302.10" stroke-width="1.4"/>
<line x1="63.32" y1="303.9" x2="63.32" y2="300.60" stroke-width="1.4"/>
<line x1="83.58" y1="303.9" x2="83.58" y2="302.10" stroke-width="1.4"/>
<line x1="103.84" y1="303.9" x2="103.84" y2="300.60" stroke-width="1.4"/>
<line x1="124.10" y1="303.9" x2="124.10" y2="302.10" stroke-width="1.4"/>
<line x1="144.36" y1="303.9" x2="144.36" y2="300.60" stroke-width="1.4"/>
<line x1="164.62" y1="303.9" x2="164.62" y2="302.10" stroke-width="1.4"/>
<line x1="184.88" y1="303.9" x2="184.88" y2="300.60" stroke-width="1.4"/>
<line x1="205.14" y1="303.9" x2="205.14" y2="302.10" stroke-width="1.4"/>
</g>
<text x="221.2" y="56.7" font-size="9.3" text-anchor="end" textLength="57.3" lengthAdjust="spacing">ZnO@Ag8%</text>
<text x="221.2" y="116.7" font-size="9.3" text-anchor="end" textLength="57.3" lengthAdjust="spacing">ZnO@Ag6%</text>
<text x="221.2" y="176.6" font-size="9.3" text-anchor="end" textLength="57.3" lengthAdjust="spacing">ZnO@Ag4%</text>
<text x="221.2" y="237.7" font-size="9.3" text-anchor="end" textLength="57.3" lengthAdjust="spacing">ZnO@Ag2%</text>
<text x="221.2" y="286.0" font-size="9.3" text-anchor="end" textLength="20.6" lengthAdjust="spacing">ZnO</text>
<text x="22.80" y="315.8" font-size="9.5" text-anchor="middle" textLength="15" lengthAdjust="spacing">350</text>
<text x="63.32" y="315.8" font-size="9.5" text-anchor="middle" textLength="15" lengthAdjust="spacing">410</text>
<text x="103.84" y="315.8" font-size="9.5" text-anchor="middle" textLength="15" lengthAdjust="spacing">470</text>
<text x="144.36" y="315.8" font-size="9.5" text-anchor="middle" textLength="15" lengthAdjust="spacing">530</text>
<text x="184.88" y="315.8" font-size="9.5" text-anchor="middle" textLength="15" lengthAdjust="spacing">590</text>
<text x="225.40" y="315.8" font-size="9.5" text-anchor="middle" textLength="15" lengthAdjust="spacing">650</text>
<text x="124.5" y="337.3" font-size="15.5" text-anchor="middle" textLength="114" lengthAdjust="spacingAndGlyphs">Wavelength (nm)</text>
<text transform="translate(11.4,147.4) rotate(-90)" font-size="15.4" text-anchor="middle">Absorbance (a.u.)</text>
<text x="6.1" y="15.3" font-size="15.5">a</text>
<path d="M256.7,58.20 L257.2,58.18 L257.7,58.16 L258.2,58.14 L258.7,58.11 L259.2,58.09 L259.7,58.07 L260.2,58.04 L260.7,58.02 L261.2,57.99 L261.7,57.97 L262.2,57.94 L262.7,57.91 L263.2,57.89 L263.7,57.86 L264.2,57.83 L264.7,57.80 L265.2,57.77 L265.7,57.74 L266.2,57.71 L266.7,57.68 L267.2,57.64 L267.7,57.61 L268.2,57.58 L268.7,57.54 L269.2,57.51 L269.7,57.48 L270.2,57.44 L270.7,57.41 L271.2,57.37 L271.7,57.33 L272.2,57.30 L272.7,57.26 L273.2,57.22 L273.7,57.18 L274.2,57.15 L274.7,57.11 L275.2,57.06 L275.7,57.02 L276.2,56.98 L276.7,56.94 L277.2,56.89 L277.7,56.85 L278.2,56.80 L278.7,56.76 L279.2,56.71 L279.7,56.66 L280.2,56.62 L280.7,56.57 L281.2,56.52 L281.7,56.47 L282.2,56.42 L282.7,56.36 L283.2,56.31 L283.7,56.26 L284.2,56.21 L284.7,56.15 L285.2,56.10 L285.7,56.04 L286.2,55.99 L286.7,55.93 L287.2,55.87 L287.7,55.82 L288.2,55.76 L288.7,55.70 L289.2,55.64 L289.7,55.58 L290.2,55.52 L290.7,55.46 L291.2,55.40 L291.7,55.33 L292.2,55.27 L292.7,55.20 L293.2,55.13 L293.7,55.07 L294.2,55.00 L294.7,54.92 L295.2,54.85 L295.7,54.78 L296.2,54.70 L296.7,54.63 L297.2,54.55 L297.7,54.47 L298.2,54.40 L298.7,54.32 L299.2,54.24 L299.7,54.16 L300.2,54.08 L300.7,54.00 L301.2,53.91 L301.7,53.83 L302.2,53.75 L302.7,53.67 L303.2,53.58 L303.7,53.50 L304.2,53.42 L304.7,53.33 L305.2,53.25 L305.7,53.17 L306.2,53.08 L306.7,53.00 L307.2,52.92 L307.7,52.83 L308.2,52.75 L308.7,52.67 L309.2,52.58 L309.7,52.50 L310.2,52.42 L310.7,52.33 L311.2,52.25 L311.7,52.16 L312.2,52.08 L312.7,51.99 L313.2,51.91 L313.7,51.82 L314.2,51.73 L314.7,51.65 L315.2,51.56 L315.7,51.47 L316.2,51.38 L316.7,51.30 L317.2,51.21 L317.7,51.12 L318.2,51.03 L318.7,50.94 L319.2,50.85 L319.7,50.76 L320.2,50.67 L320.7,50.58 L321.2,50.49 L321.7,50.40 L322.2,50.31 L322.7,50.22 L323.2,50.13 L323.7,50.04 L324.2,49.95 L324.7,49.86 L325.2,49.77 L325.7,49.68 L326.2,49.59 L326.7,49.50 L327.2,49.41 L327.7,49.32 L328.2,49.23 L328.7,49.14 L329.2,49.04 L329.7,48.95 L330.2,48.86 L330.7,48.77 L331.2,48.68 L331.7,48.59 L332.2,48.49 L332.7,48.40 L333.2,48.31 L333.7,48.21 L334.2,48.12 L334.7,48.03 L335.2,47.93 L335.7,47.84 L336.2,47.74 L336.7,47.65 L337.2,47.55 L337.7,47.45 L338.2,47.36 L338.7,47.26 L339.2,47.16 L339.7,47.06 L340.2,46.95 L340.7,46.85 L341.2,46.75 L341.7,46.64 L342.2,46.53 L342.7,46.42 L343.2,46.31 L343.7,46.20 L344.2,46.09 L344.7,45.98 L345.2,45.87 L345.7,45.76 L346.2,45.65 L346.7,45.54 L347.2,45.42 L347.7,45.31 L348.2,45.20 L348.7,45.09 L349.2,44.98 L349.7,44.87 L350.2,44.77 L350.7,44.66 L351.2,44.55 L351.7,44.45 L352.2,44.35 L352.7,44.25 L353.2,44.15 L353.7,44.05 L354.2,43.95 L354.7,43.86 L355.2,43.77 L355.7,43.68 L356.2,43.60 L356.7,43.51 L357.2,43.43 L357.7,43.35 L358.2,43.28 L358.7,43.20 L359.2,43.13 L359.7,43.07 L360.2,43.00 L360.7,42.93 L361.2,42.87 L361.7,42.81 L362.2,42.75 L362.7,42.69 L363.2,42.64 L363.7,42.58 L364.2,42.52 L364.7,42.47 L365.2,42.42 L365.7,42.37 L366.2,42.31 L366.7,42.26 L367.2,42.21 L367.7,42.16 L368.2,42.11 L368.7,42.06 L369.2,42.01 L369.7,41.96 L370.2,41.91 L370.7,41.86 L371.2,41.80 L371.7,41.75 L372.2,41.70 L372.7,41.64 L373.2,41.59 L373.7,41.53 L374.2,41.47 L374.7,41.41 L375.2,41.35 L375.7,41.28 L376.2,41.22 L376.7,41.15 L377.2,41.08 L377.7,41.01 L378.2,40.94 L378.7,40.86 L379.2,40.78 L379.7,40.70 L380.2,40.62 L380.7,40.53 L381.2,40.44 L381.7,40.35 L382.2,40.26 L382.7,40.17 L383.2,40.07 L383.7,39.97 L384.2,39.87 L384.7,39.76 L385.2,39.66 L385.7,39.55 L386.2,39.45 L386.7,39.34 L387.2,39.23 L387.7,39.12 L388.2,39.00 L388.7,38.89 L389.2,38.78 L389.7,38.66 L390.2,38.54 L390.7,38.43 L391.2,38.31 L391.7,38.19 L392.2,38.07 L392.7,37.94 L393.2,37.82 L393.7,37.69 L394.2,37.56 L394.7,37.43 L395.2,37.30 L395.7,37.17 L396.2,37.03 L396.7,36.89 L397.2,36.75 L397.7,36.61 L398.2,36.46 L398.7,36.31 L399.2,36.16 L399.7,36.00 L400.2,35.85 L400.7,35.69 L401.2,35.52 L401.7,35.36 L402.2,35.19 L402.7,35.01 L403.2,34.84 L403.7,34.65 L404.2,34.47 L404.7,34.28 L405.2,34.09 L405.7,33.89 L406.2,33.68 L406.7,33.48 L407.2,33.26 L407.7,33.05 L408.2,32.82 L408.7,32.60 L409.2,32.36 L409.7,32.12 L410.2,31.88 L410.7,31.62 L411.2,31.36 L411.7,31.09 L412.2,30.81 L412.7,30.53 L413.2,30.23 L413.7,29.92 L414.2,29.61 L414.7,29.29 L415.2,28.96 L415.7,28.62 L416.2,28.28 L416.7,27.93 L417.2,27.57 L417.7,27.20 L418.2,26.83 L418.7,26.44 L419.2,26.05 L419.7,25.64 L420.2,25.23 L420.7,24.80 L421.2,24.37 L421.7,23.93 L422.2,23.47 L422.7,23.01 L423.2,22.54 L423.7,22.06 L424.2,21.56 L424.7,21.05 L425.2,20.53 L425.7,19.99 L426.2,19.43 L426.7,18.86 L427.2,18.27 L427.7,17.68 L428.2,17.08 L428.7,16.49 L429.2,15.90 L429.7,15.32 L430.2,14.76 L430.7,14.20 L431.2,13.65 L431.7,13.12 L432.2,12.59 L432.7,12.08 L433.2,11.59 L433.7,11.11 L434.2,10.65 L434.7,10.20 L435.2,9.79 L435.7,9.40 L436.2,9.06 L436.7,8.78 L437.2,8.57 L437.7,8.43 L438.2,8.37 L438.7,8.35 L439.2,8.38 L439.7,8.44 L440.2,8.52 L440.7,8.61 L441.2,8.71 L441.7,8.83 L442.2,8.97 L442.7,9.13 L443.2,9.31 L443.7,9.51 L444.2,9.76 L444.7,10.04 L445.2,10.38 L445.7,10.78 L446.2,11.24 L446.7,11.78 L447.2,12.39 L447.7,13.08 L448.2,13.86 L448.7,14.76 L449.2,15.79 L449.7,16.98 L450.2,18.35 L450.7,19.90 L451.2,21.61 L451.7,23.42 L452.2,25.28 L452.7,27.14 L453.2,28.95 L453.7,30.63 L454.2,32.04 L454.7,33.20 L454.9,33.60" fill="none" stroke="#ff7a00" stroke-width="1.7" stroke-linejoin="round" stroke-linecap="round" />
<path d="M256.7,119.60 L257.2,119.59 L257.7,119.58 L258.2,119.57 L258.7,119.56 L259.2,119.55 L259.7,119.54 L260.2,119.53 L260.7,119.52 L261.2,119.50 L261.7,119.49 L262.2,119.48 L262.7,119.46 L263.2,119.45 L263.7,119.43 L264.2,119.41 L264.7,119.40 L265.2,119.38 L265.7,119.36 L266.2,119.34 L266.7,119.33 L267.2,119.31 L267.7,119.29 L268.2,119.27 L268.7,119.25 L269.2,119.23 L269.7,119.21 L270.2,119.19 L270.7,119.16 L271.2,119.14 L271.7,119.12 L272.2,119.10 L272.7,119.08 L273.2,119.05 L273.7,119.03 L274.2,119.00 L274.7,118.97 L275.2,118.95 L275.7,118.92 L276.2,118.89 L276.7,118.86 L277.2,118.83 L277.7,118.80 L278.2,118.76 L278.7,118.73 L279.2,118.70 L279.7,118.66 L280.2,118.63 L280.7,118.59 L281.2,118.55 L281.7,118.52 L282.2,118.48 L282.7,118.44 L283.2,118.40 L283.7,118.36 L284.2,118.32 L284.7,118.28 L285.2,118.24 L285.7,118.20 L286.2,118.16 L286.7,118.12 L287.2,118.07 L287.7,118.03 L288.2,117.99 L288.7,117.95 L289.2,117.90 L289.7,117.86 L290.2,117.82 L290.7,117.77 L291.2,117.73 L291.7,117.68 L292.2,117.64 L292.7,117.59 L293.2,117.54 L293.7,117.49 L294.2,117.44 L294.7,117.39 L295.2,117.34 L295.7,117.29 L296.2,117.24 L296.7,117.18 L297.2,117.13 L297.7,117.07 L298.2,117.02 L298.7,116.96 L299.2,116.91 L299.7,116.85 L300.2,116.79 L300.7,116.74 L301.2,116.68 L301.7,116.62 L302.2,116.56 L302.7,116.50 L303.2,116.44 L303.7,116.38 L304.2,116.32 L304.7,116.26 L305.2,116.20 L305.7,116.14 L306.2,116.08 L306.7,116.02 L307.2,115.96 L307.7,115.90 L308.2,115.84 L308.7,115.77 L309.2,115.71 L309.7,115.65 L310.2,115.59 L310.7,115.52 L311.2,115.46 L311.7,115.39 L312.2,115.33 L312.7,115.26 L313.2,115.20 L313.7,115.13 L314.2,115.07 L314.7,115.00 L315.2,114.93 L315.7,114.86 L316.2,114.79 L316.7,114.73 L317.2,114.66 L317.7,114.59 L318.2,114.52 L318.7,114.45 L319.2,114.38 L319.7,114.31 L320.2,114.24 L320.7,114.16 L321.2,114.09 L321.7,114.02 L322.2,113.95 L322.7,113.88 L323.2,113.81 L323.7,113.73 L324.2,113.66 L324.7,113.59 L325.2,113.52 L325.7,113.44 L326.2,113.37 L326.7,113.30 L327.2,113.23 L327.7,113.16 L328.2,113.08 L328.7,113.01 L329.2,112.94 L329.7,112.86 L330.2,112.79 L330.7,112.72 L331.2,112.65 L331.7,112.57 L332.2,112.50 L332.7,112.42 L333.2,112.35 L333.7,112.27 L334.2,112.19 L334.7,112.12 L335.2,112.04 L335.7,111.96 L336.2,111.88 L336.7,111.80 L337.2,111.71 L337.7,111.63 L338.2,111.55 L338.7,111.46 L339.2,111.37 L339.7,111.28 L340.2,111.18 L340.7,111.09 L341.2,110.99 L341.7,110.88 L342.2,110.78 L342.7,110.67 L343.2,110.57 L343.7,110.46 L344.2,110.35 L344.7,110.24 L345.2,110.12 L345.7,110.01 L346.2,109.90 L346.7,109.78 L347.2,109.67 L347.7,109.56 L348.2,109.44 L348.7,109.33 L349.2,109.22 L349.7,109.11 L350.2,109.00 L350.7,108.89 L351.2,108.79 L351.7,108.68 L352.2,108.58 L352.7,108.48 L353.2,108.38 L353.7,108.29 L354.2,108.20 L354.7,108.11 L355.2,108.02 L355.7,107.94 L356.2,107.86 L356.7,107.79 L357.2,107.72 L357.7,107.65 L358.2,107.58 L358.7,107.52 L359.2,107.47 L359.7,107.41 L360.2,107.36 L360.7,107.31 L361.2,107.26 L361.7,107.21 L362.2,107.17 L362.7,107.12 L363.2,107.08 L363.7,107.04 L364.2,107.00 L364.7,106.96 L365.2,106.92 L365.7,106.89 L366.2,106.85 L366.7,106.81 L367.2,106.78 L367.7,106.74 L368.2,106.70 L368.7,106.67 L369.2,106.63 L369.7,106.60 L370.2,106.56 L370.7,106.52 L371.2,106.49 L371.7,106.45 L372.2,106.41 L372.7,106.37 L373.2,106.33 L373.7,106.29 L374.2,106.24 L374.7,106.20 L375.2,106.15 L375.7,106.10 L376.2,106.05 L376.7,106.00 L377.2,105.95 L377.7,105.89 L378.2,105.83 L378.7,105.77 L379.2,105.70 L379.7,105.64 L380.2,105.57 L380.7,105.49 L381.2,105.42 L381.7,105.34 L382.2,105.26 L382.7,105.18 L383.2,105.09 L383.7,105.00 L384.2,104.91 L384.7,104.82 L385.2,104.72 L385.7,104.62 L386.2,104.52 L386.7,104.42 L387.2,104.32 L387.7,104.21 L388.2,104.10 L388.7,103.99 L389.2,103.87 L389.7,103.76 L390.2,103.64 L390.7,103.52 L391.2,103.39 L391.7,103.26 L392.2,103.12 L392.7,102.99 L393.2,102.84 L393.7,102.69 L394.2,102.54 L394.7,102.38 L395.2,102.22 L395.7,102.06 L396.2,101.89 L396.7,101.72 L397.2,101.54 L397.7,101.36 L398.2,101.18 L398.7,101.00 L399.2,100.81 L399.7,100.62 L400.2,100.43 L400.7,100.23 L401.2,100.03 L401.7,99.83 L402.2,99.62 L402.7,99.41 L403.2,99.20 L403.7,98.98 L404.2,98.75 L404.7,98.52 L405.2,98.28 L405.7,98.04 L406.2,97.80 L406.7,97.54 L407.2,97.28 L407.7,97.02 L408.2,96.75 L408.7,96.47 L409.2,96.19 L409.7,95.89 L410.2,95.59 L410.7,95.28 L411.2,94.96 L411.7,94.63 L412.2,94.29 L412.7,93.93 L413.2,93.56 L413.7,93.19 L414.2,92.80 L414.7,92.41 L415.2,92.01 L415.7,91.60 L416.2,91.18 L416.7,90.75 L417.2,90.32 L417.7,89.88 L418.2,89.43 L418.7,88.97 L419.2,88.49 L419.7,88.01 L420.2,87.51 L420.7,87.01 L421.2,86.50 L421.7,85.99 L422.2,85.47 L422.7,84.96 L423.2,84.44 L423.7,83.93 L424.2,83.42 L424.7,82.92 L425.2,82.42 L425.7,81.92 L426.2,81.43 L426.7,80.94 L427.2,80.45 L427.7,79.96 L428.2,79.47 L428.7,78.98 L429.2,78.49 L429.7,77.99 L430.2,77.50 L430.7,77.01 L431.2,76.51 L431.7,76.02 L432.2,75.52 L432.7,75.01 L433.2,74.49 L433.7,73.95 L434.2,73.39 L434.7,72.79 L435.2,72.16 L435.7,71.52 L436.2,70.90 L436.7,70.31 L437.2,69.79 L437.7,69.36 L438.2,69.01 L438.7,68.75 L439.2,68.56 L439.7,68.43 L440.2,68.35 L440.7,68.32 L441.2,68.32 L441.7,68.36 L442.2,68.43 L442.7,68.52 L443.2,68.64 L443.7,68.79 L444.2,68.97 L444.7,69.21 L445.2,69.50 L445.7,69.87 L446.2,70.33 L446.7,70.90 L447.2,71.57 L447.7,72.35 L448.2,73.25 L448.7,74.26 L449.2,75.35 L449.7,76.51 L450.2,77.70 L450.7,78.90 L451.2,80.09 L451.7,81.26 L452.2,82.39 L452.7,83.49 L453.2,84.50 L453.7,85.40 L454.2,86.23 L454.7,87.00 L454.9,87.30" fill="none" stroke="#c09a12" stroke-width="1.7" stroke-linejoin="round" stroke-linecap="round" />
<path d="M256.7,173.70 L257.2,173.70 L257.7,173.70 L258.2,173.69 L258.7,173.69 L259.2,173.68 L259.7,173.67 L260.2,173.66 L260.7,173.65 L261.2,173.64 L261.7,173.63 L262.2,173.62 L262.7,173.60 L263.2,173.59 L263.7,173.57 L264.2,173.55 L264.7,173.54 L265.2,173.52 L265.7,173.50 L266.2,173.48 L266.7,173.46 L267.2,173.44 L267.7,173.41 L268.2,173.39 L268.7,173.37 L269.2,173.35 L269.7,173.32 L270.2,173.30 L270.7,173.27 L271.2,173.25 L271.7,173.22 L272.2,173.20 L272.7,173.17 L273.2,173.14 L273.7,173.10 L274.2,173.07 L274.7,173.03 L275.2,172.99 L275.7,172.94 L276.2,172.90 L276.7,172.85 L277.2,172.80 L277.7,172.74 L278.2,172.69 L278.7,172.63 L279.2,172.57 L279.7,172.51 L280.2,172.45 L280.7,172.38 L281.2,172.32 L281.7,172.25 L282.2,172.18 L282.7,172.11 L283.2,172.04 L283.7,171.97 L284.2,171.90 L284.7,171.83 L285.2,171.76 L285.7,171.69 L286.2,171.61 L286.7,171.54 L287.2,171.47 L287.7,171.39 L288.2,171.32 L288.7,171.25 L289.2,171.17 L289.7,171.10 L290.2,171.03 L290.7,170.96 L291.2,170.88 L291.7,170.81 L292.2,170.73 L292.7,170.66 L293.2,170.58 L293.7,170.50 L294.2,170.42 L294.7,170.34 L295.2,170.26 L295.7,170.17 L296.2,170.09 L296.7,170.00 L297.2,169.92 L297.7,169.83 L298.2,169.75 L298.7,169.66 L299.2,169.57 L299.7,169.48 L300.2,169.39 L300.7,169.30 L301.2,169.21 L301.7,169.12 L302.2,169.03 L302.7,168.94 L303.2,168.85 L303.7,168.76 L304.2,168.67 L304.7,168.58 L305.2,168.49 L305.7,168.40 L306.2,168.31 L306.7,168.22 L307.2,168.13 L307.7,168.04 L308.2,167.95 L308.7,167.86 L309.2,167.78 L309.7,167.69 L310.2,167.60 L310.7,167.51 L311.2,167.42 L311.7,167.33 L312.2,167.24 L312.7,167.15 L313.2,167.06 L313.7,166.97 L314.2,166.88 L314.7,166.79 L315.2,166.70 L315.7,166.60 L316.2,166.51 L316.7,166.42 L317.2,166.33 L317.7,166.24 L318.2,166.15 L318.7,166.06 L319.2,165.96 L319.7,165.87 L320.2,165.78 L320.7,165.69 L321.2,165.60 L321.7,165.51 L322.2,165.42 L322.7,165.32 L323.2,165.23 L323.7,165.14 L324.2,165.05 L324.7,164.96 L325.2,164.87 L325.7,164.78 L326.2,164.69 L326.7,164.60 L327.2,164.51 L327.7,164.42 L328.2,164.33 L328.7,164.25 L329.2,164.16 L329.7,164.07 L330.2,163.98 L330.7,163.89 L331.2,163.81 L331.7,163.72 L332.2,163.63 L332.7,163.54 L333.2,163.46 L333.7,163.37 L334.2,163.28 L334.7,163.19 L335.2,163.10 L335.7,163.01 L336.2,162.92 L336.7,162.83 L337.2,162.74 L337.7,162.65 L338.2,162.55 L338.7,162.46 L339.2,162.36 L339.7,162.26 L340.2,162.16 L340.7,162.06 L341.2,161.95 L341.7,161.85 L342.2,161.74 L342.7,161.63 L343.2,161.52 L343.7,161.40 L344.2,161.29 L344.7,161.18 L345.2,161.06 L345.7,160.95 L346.2,160.84 L346.7,160.72 L347.2,160.61 L347.7,160.49 L348.2,160.38 L348.7,160.27 L349.2,160.16 L349.7,160.05 L350.2,159.94 L350.7,159.84 L351.2,159.73 L351.7,159.63 L352.2,159.53 L352.7,159.44 L353.2,159.34 L353.7,159.25 L354.2,159.16 L354.7,159.08 L355.2,159.00 L355.7,158.92 L356.2,158.84 L356.7,158.77 L357.2,158.71 L357.7,158.65 L358.2,158.59 L358.7,158.53 L359.2,158.48 L359.7,158.43 L360.2,158.38 L360.7,158.33 L361.2,158.28 L361.7,158.24 L362.2,158.20 L362.7,158.16 L363.2,158.12 L363.7,158.08 L364.2,158.04 L364.7,158.00 L365.2,157.97 L365.7,157.93 L366.2,157.90 L366.7,157.87 L367.2,157.83 L367.7,157.80 L368.2,157.77 L368.7,157.73 L369.2,157.70 L369.7,157.67 L370.2,157.64 L370.7,157.61 L371.2,157.57 L371.7,157.54 L372.2,157.51 L372.7,157.47 L373.2,157.44 L373.7,157.40 L374.2,157.36 L374.7,157.33 L375.2,157.29 L375.7,157.25 L376.2,157.20 L376.7,157.16 L377.2,157.12 L377.7,157.07 L378.2,157.03 L378.7,156.98 L379.2,156.93 L379.7,156.88 L380.2,156.83 L380.7,156.78 L381.2,156.73 L381.7,156.68 L382.2,156.62 L382.7,156.57 L383.2,156.52 L383.7,156.46 L384.2,156.40 L384.7,156.34 L385.2,156.28 L385.7,156.22 L386.2,156.15 L386.7,156.08 L387.2,156.01 L387.7,155.94 L388.2,155.86 L388.7,155.78 L389.2,155.70 L389.7,155.61 L390.2,155.52 L390.7,155.42 L391.2,155.32 L391.7,155.20 L392.2,155.08 L392.7,154.95 L393.2,154.82 L393.7,154.67 L394.2,154.52 L394.7,154.36 L395.2,154.20 L395.7,154.03 L396.2,153.86 L396.7,153.68 L397.2,153.49 L397.7,153.31 L398.2,153.12 L398.7,152.92 L399.2,152.73 L399.7,152.53 L400.2,152.34 L400.7,152.14 L401.2,151.93 L401.7,151.73 L402.2,151.52 L402.7,151.31 L403.2,151.10 L403.7,150.88 L404.2,150.65 L404.7,150.42 L405.2,150.18 L405.7,149.94 L406.2,149.70 L406.7,149.44 L407.2,149.18 L407.7,148.92 L408.2,148.65 L408.7,148.37 L409.2,148.09 L409.7,147.79 L410.2,147.49 L410.7,147.18 L411.2,146.86 L411.7,146.53 L412.2,146.19 L412.7,145.83 L413.2,145.46 L413.7,145.09 L414.2,144.70 L414.7,144.31 L415.2,143.91 L415.7,143.50 L416.2,143.08 L416.7,142.65 L417.2,142.22 L417.7,141.78 L418.2,141.33 L418.7,140.87 L419.2,140.39 L419.7,139.91 L420.2,139.41 L420.7,138.91 L421.2,138.40 L421.7,137.89 L422.2,137.37 L422.7,136.85 L423.2,136.33 L423.7,135.82 L424.2,135.29 L424.7,134.77 L425.2,134.23 L425.7,133.69 L426.2,133.14 L426.7,132.60 L427.2,132.07 L427.7,131.58 L428.2,131.15 L428.7,130.77 L429.2,130.45 L429.7,130.20 L430.2,130.00 L430.7,129.85 L431.2,129.72 L431.7,129.62 L432.2,129.52 L432.7,129.43 L433.2,129.33 L433.7,129.22 L434.2,129.10 L434.7,128.98 L435.2,128.85 L435.7,128.72 L436.2,128.60 L436.7,128.51 L437.2,128.44 L437.7,128.41 L438.2,128.40 L438.7,128.43 L439.2,128.49 L439.7,128.57 L440.2,128.67 L440.7,128.81 L441.2,128.97 L441.7,129.18 L442.2,129.46 L442.7,129.81 L443.2,130.25 L443.7,130.78 L444.2,131.40 L444.7,132.10 L445.2,132.86 L445.7,133.68 L446.2,134.56 L446.7,135.50 L447.2,136.50 L447.7,137.57 L448.2,138.71 L448.7,139.90 L449.2,141.13 L449.7,142.39 L450.2,143.63 L450.7,144.83 L451.2,145.96 L451.7,147.00 L452.2,147.97 L452.7,148.87 L453.2,149.68 L453.7,150.42 L454.2,151.09 L454.7,151.68 L454.9,151.90" fill="none" stroke="#b4003f" stroke-width="1.7" stroke-linejoin="round" stroke-linecap="round" />
<path d="M256.7,234.60 L257.2,234.60 L257.7,234.59 L258.2,234.59 L258.7,234.58 L259.2,234.58 L259.7,234.57 L260.2,234.56 L260.7,234.55 L261.2,234.54 L261.7,234.52 L262.2,234.51 L262.7,234.50 L263.2,234.48 L263.7,234.46 L264.2,234.45 L264.7,234.43 L265.2,234.41 L265.7,234.39 L266.2,234.37 L266.7,234.35 L267.2,234.33 L267.7,234.31 L268.2,234.29 L268.7,234.26 L269.2,234.24 L269.7,234.22 L270.2,234.19 L270.7,234.17 L271.2,234.15 L271.7,234.12 L272.2,234.10 L272.7,234.07 L273.2,234.04 L273.7,234.01 L274.2,233.98 L274.7,233.95 L275.2,233.91 L275.7,233.87 L276.2,233.84 L276.7,233.80 L277.2,233.75 L277.7,233.71 L278.2,233.66 L278.7,233.62 L279.2,233.57 L279.7,233.52 L280.2,233.47 L280.7,233.42 L281.2,233.37 L281.7,233.31 L282.2,233.26 L282.7,233.20 L283.2,233.15 L283.7,233.09 L284.2,233.03 L284.7,232.97 L285.2,232.92 L285.7,232.86 L286.2,232.80 L286.7,232.74 L287.2,232.68 L287.7,232.62 L288.2,232.56 L288.7,232.50 L289.2,232.44 L289.7,232.38 L290.2,232.32 L290.7,232.26 L291.2,232.20 L291.7,232.14 L292.2,232.08 L292.7,232.01 L293.2,231.95 L293.7,231.89 L294.2,231.82 L294.7,231.75 L295.2,231.68 L295.7,231.61 L296.2,231.54 L296.7,231.47 L297.2,231.40 L297.7,231.33 L298.2,231.26 L298.7,231.19 L299.2,231.11 L299.7,231.04 L300.2,230.96 L300.7,230.89 L301.2,230.81 L301.7,230.74 L302.2,230.66 L302.7,230.59 L303.2,230.51 L303.7,230.43 L304.2,230.36 L304.7,230.28 L305.2,230.20 L305.7,230.13 L306.2,230.05 L306.7,229.97 L307.2,229.90 L307.7,229.82 L308.2,229.75 L308.7,229.67 L309.2,229.59 L309.7,229.52 L310.2,229.44 L310.7,229.37 L311.2,229.29 L311.7,229.21 L312.2,229.14 L312.7,229.06 L313.2,228.98 L313.7,228.91 L314.2,228.83 L314.7,228.75 L315.2,228.67 L315.7,228.60 L316.2,228.52 L316.7,228.44 L317.2,228.36 L317.7,228.28 L318.2,228.20 L318.7,228.12 L319.2,228.04 L319.7,227.96 L320.2,227.88 L320.7,227.80 L321.2,227.72 L321.7,227.64 L322.2,227.56 L322.7,227.47 L323.2,227.39 L323.7,227.31 L324.2,227.22 L324.7,227.14 L325.2,227.06 L325.7,226.97 L326.2,226.88 L326.7,226.80 L327.2,226.71 L327.7,226.63 L328.2,226.54 L328.7,226.45 L329.2,226.36 L329.7,226.28 L330.2,226.19 L330.7,226.10 L331.2,226.01 L331.7,225.92 L332.2,225.83 L332.7,225.73 L333.2,225.64 L333.7,225.55 L334.2,225.45 L334.7,225.36 L335.2,225.26 L335.7,225.16 L336.2,225.07 L336.7,224.97 L337.2,224.86 L337.7,224.76 L338.2,224.66 L338.7,224.55 L339.2,224.44 L339.7,224.33 L340.2,224.22 L340.7,224.10 L341.2,223.98 L341.7,223.86 L342.2,223.73 L342.7,223.60 L343.2,223.48 L343.7,223.35 L344.2,223.21 L344.7,223.08 L345.2,222.95 L345.7,222.81 L346.2,222.68 L346.7,222.54 L347.2,222.40 L347.7,222.27 L348.2,222.13 L348.7,222.00 L349.2,221.86 L349.7,221.73 L350.2,221.59 L350.7,221.46 L351.2,221.33 L351.7,221.20 L352.2,221.08 L352.7,220.95 L353.2,220.83 L353.7,220.71 L354.2,220.59 L354.7,220.48 L355.2,220.37 L355.7,220.26 L356.2,220.16 L356.7,220.05 L357.2,219.96 L357.7,219.86 L358.2,219.77 L358.7,219.68 L359.2,219.60 L359.7,219.52 L360.2,219.43 L360.7,219.35 L361.2,219.27 L361.7,219.20 L362.2,219.12 L362.7,219.05 L363.2,218.97 L363.7,218.90 L364.2,218.83 L364.7,218.76 L365.2,218.69 L365.7,218.62 L366.2,218.55 L366.7,218.49 L367.2,218.42 L367.7,218.36 L368.2,218.29 L368.7,218.23 L369.2,218.16 L369.7,218.10 L370.2,218.04 L370.7,217.98 L371.2,217.91 L371.7,217.85 L372.2,217.79 L372.7,217.73 L373.2,217.67 L373.7,217.60 L374.2,217.54 L374.7,217.48 L375.2,217.42 L375.7,217.36 L376.2,217.29 L376.7,217.23 L377.2,217.17 L377.7,217.10 L378.2,217.04 L378.7,216.98 L379.2,216.91 L379.7,216.85 L380.2,216.79 L380.7,216.73 L381.2,216.67 L381.7,216.62 L382.2,216.56 L382.7,216.50 L383.2,216.44 L383.7,216.39 L384.2,216.33 L384.7,216.27 L385.2,216.21 L385.7,216.15 L386.2,216.09 L386.7,216.03 L387.2,215.96 L387.7,215.90 L388.2,215.83 L388.7,215.76 L389.2,215.68 L389.7,215.60 L390.2,215.52 L390.7,215.44 L391.2,215.35 L391.7,215.27 L392.2,215.17 L392.7,215.08 L393.2,214.98 L393.7,214.88 L394.2,214.77 L394.7,214.66 L395.2,214.55 L395.7,214.44 L396.2,214.32 L396.7,214.19 L397.2,214.07 L397.7,213.94 L398.2,213.80 L398.7,213.67 L399.2,213.52 L399.7,213.38 L400.2,213.23 L400.7,213.07 L401.2,212.91 L401.7,212.74 L402.2,212.57 L402.7,212.39 L403.2,212.19 L403.7,211.99 L404.2,211.78 L404.7,211.56 L405.2,211.34 L405.7,211.10 L406.2,210.86 L406.7,210.61 L407.2,210.36 L407.7,210.09 L408.2,209.83 L408.7,209.55 L409.2,209.27 L409.7,208.99 L410.2,208.69 L410.7,208.39 L411.2,208.08 L411.7,207.76 L412.2,207.43 L412.7,207.08 L413.2,206.73 L413.7,206.36 L414.2,205.98 L414.7,205.59 L415.2,205.20 L415.7,204.79 L416.2,204.38 L416.7,203.95 L417.2,203.52 L417.7,203.07 L418.2,202.61 L418.7,202.14 L419.2,201.65 L419.7,201.15 L420.2,200.63 L420.7,200.11 L421.2,199.57 L421.7,199.03 L422.2,198.48 L422.7,197.92 L423.2,197.34 L423.7,196.76 L424.2,196.17 L424.7,195.57 L425.2,194.97 L425.7,194.37 L426.2,193.79 L426.7,193.22 L427.2,192.67 L427.7,192.15 L428.2,191.64 L428.7,191.16 L429.2,190.71 L429.7,190.31 L430.2,189.95 L430.7,189.65 L431.2,189.41 L431.7,189.22 L432.2,189.07 L432.7,188.95 L433.2,188.86 L433.7,188.79 L434.2,188.73 L434.7,188.69 L435.2,188.66 L435.7,188.65 L436.2,188.66 L436.7,188.69 L437.2,188.74 L437.7,188.80 L438.2,188.88 L438.7,188.98 L439.2,189.10 L439.7,189.24 L440.2,189.40 L440.7,189.60 L441.2,189.84 L441.7,190.15 L442.2,190.52 L442.7,190.98 L443.2,191.52 L443.7,192.15 L444.2,192.87 L444.7,193.68 L445.2,194.60 L445.7,195.63 L446.2,196.76 L446.7,197.98 L447.2,199.27 L447.7,200.61 L448.2,201.97 L448.7,203.35 L449.2,204.73 L449.7,206.10 L450.2,207.47 L450.7,208.82 L451.2,210.13 L451.7,211.39 L452.2,212.62 L452.7,213.78 L453.2,214.88 L453.7,215.91 L454.2,216.90 L454.7,217.89 L454.9,218.30" fill="none" stroke="#115e96" stroke-width="1.7" stroke-linejoin="round" stroke-linecap="round" />
<path d="M256.7,296.50 L257.2,296.50 L257.7,296.50 L258.2,296.50 L258.7,296.50 L259.2,296.50 L259.7,296.50 L260.2,296.50 L260.7,296.50 L261.2,296.50 L261.7,296.49 L262.2,296.49 L262.7,296.49 L263.2,296.49 L263.7,296.49 L264.2,296.49 L264.7,296.49 L265.2,296.48 L265.7,296.48 L266.2,296.48 L266.7,296.48 L267.2,296.48 L267.7,296.47 L268.2,296.47 L268.7,296.47 L269.2,296.47 L269.7,296.47 L270.2,296.46 L270.7,296.46 L271.2,296.46 L271.7,296.45 L272.2,296.45 L272.7,296.45 L273.2,296.45 L273.7,296.44 L274.2,296.44 L274.7,296.44 L275.2,296.43 L275.7,296.43 L276.2,296.43 L276.7,296.42 L277.2,296.42 L277.7,296.42 L278.2,296.41 L278.7,296.41 L279.2,296.40 L279.7,296.40 L280.2,296.40 L280.7,296.39 L281.2,296.39 L281.7,296.38 L282.2,296.38 L282.7,296.37 L283.2,296.37 L283.7,296.37 L284.2,296.36 L284.7,296.36 L285.2,296.35 L285.7,296.35 L286.2,296.34 L286.7,296.34 L287.2,296.33 L287.7,296.33 L288.2,296.32 L288.7,296.32 L289.2,296.31 L289.7,296.31 L290.2,296.30 L290.7,296.29 L291.2,296.29 L291.7,296.28 L292.2,296.27 L292.7,296.26 L293.2,296.25 L293.7,296.23 L294.2,296.22 L294.7,296.21 L295.2,296.19 L295.7,296.18 L296.2,296.16 L296.7,296.14 L297.2,296.13 L297.7,296.11 L298.2,296.09 L298.7,296.07 L299.2,296.05 L299.7,296.04 L300.2,296.02 L300.7,296.00 L301.2,295.98 L301.7,295.96 L302.2,295.95 L302.7,295.93 L303.2,295.92 L303.7,295.90 L304.2,295.89 L304.7,295.87 L305.2,295.86 L305.7,295.85 L306.2,295.84 L306.7,295.83 L307.2,295.82 L307.7,295.81 L308.2,295.81 L308.7,295.80 L309.2,295.80 L309.7,295.79 L310.2,295.79 L310.7,295.78 L311.2,295.78 L311.7,295.78 L312.2,295.77 L312.7,295.77 L313.2,295.77 L313.7,295.76 L314.2,295.76 L314.7,295.76 L315.2,295.76 L315.7,295.75 L316.2,295.75 L316.7,295.75 L317.2,295.75 L317.7,295.74 L318.2,295.74 L318.7,295.74 L319.2,295.74 L319.7,295.74 L320.2,295.73 L320.7,295.73 L321.2,295.73 L321.7,295.73 L322.2,295.73 L322.7,295.73 L323.2,295.72 L323.7,295.72 L324.2,295.72 L324.7,295.72 L325.2,295.72 L325.7,295.72 L326.2,295.71 L326.7,295.71 L327.2,295.71 L327.7,295.71 L328.2,295.71 L328.7,295.71 L329.2,295.71 L329.7,295.71 L330.2,295.71 L330.7,295.70 L331.2,295.70 L331.7,295.70 L332.2,295.70 L332.7,295.70 L333.2,295.70 L333.7,295.70 L334.2,295.70 L334.7,295.70 L335.2,295.69 L335.7,295.69 L336.2,295.69 L336.7,295.69 L337.2,295.69 L337.7,295.69 L338.2,295.69 L338.7,295.69 L339.2,295.69 L339.7,295.68 L340.2,295.68 L340.7,295.68 L341.2,295.68 L341.7,295.68 L342.2,295.68 L342.7,295.68 L343.2,295.67 L343.7,295.67 L344.2,295.67 L344.7,295.67 L345.2,295.67 L345.7,295.67 L346.2,295.66 L346.7,295.66 L347.2,295.66 L347.7,295.66 L348.2,295.66 L348.7,295.65 L349.2,295.65 L349.7,295.65 L350.2,295.65 L350.7,295.65 L351.2,295.64 L351.7,295.64 L352.2,295.64 L352.7,295.63 L353.2,295.63 L353.7,295.63 L354.2,295.63 L354.7,295.62 L355.2,295.62 L355.7,295.62 L356.2,295.61 L356.7,295.61 L357.2,295.61 L357.7,295.60 L358.2,295.60 L358.7,295.59 L359.2,295.59 L359.7,295.58 L360.2,295.58 L360.7,295.57 L361.2,295.56 L361.7,295.55 L362.2,295.54 L362.7,295.54 L363.2,295.53 L363.7,295.52 L364.2,295.51 L364.7,295.50 L365.2,295.48 L365.7,295.47 L366.2,295.46 L366.7,295.45 L367.2,295.44 L367.7,295.42 L368.2,295.41 L368.7,295.40 L369.2,295.38 L369.7,295.37 L370.2,295.36 L370.7,295.34 L371.2,295.33 L371.7,295.31 L372.2,295.30 L372.7,295.28 L373.2,295.27 L373.7,295.25 L374.2,295.24 L374.7,295.22 L375.2,295.21 L375.7,295.19 L376.2,295.17 L376.7,295.15 L377.2,295.14 L377.7,295.12 L378.2,295.10 L378.7,295.08 L379.2,295.06 L379.7,295.04 L380.2,295.02 L380.7,294.99 L381.2,294.97 L381.7,294.95 L382.2,294.92 L382.7,294.90 L383.2,294.87 L383.7,294.84 L384.2,294.82 L384.7,294.79 L385.2,294.76 L385.7,294.73 L386.2,294.70 L386.7,294.67 L387.2,294.63 L387.7,294.60 L388.2,294.56 L388.7,294.53 L389.2,294.49 L389.7,294.45 L390.2,294.41 L390.7,294.36 L391.2,294.32 L391.7,294.26 L392.2,294.21 L392.7,294.15 L393.2,294.08 L393.7,294.01 L394.2,293.94 L394.7,293.86 L395.2,293.78 L395.7,293.70 L396.2,293.61 L396.7,293.51 L397.2,293.42 L397.7,293.31 L398.2,293.21 L398.7,293.10 L399.2,292.99 L399.7,292.88 L400.2,292.76 L400.7,292.63 L401.2,292.50 L401.7,292.37 L402.2,292.22 L402.7,292.06 L403.2,291.90 L403.7,291.72 L404.2,291.53 L404.7,291.33 L405.2,291.13 L405.7,290.91 L406.2,290.69 L406.7,290.46 L407.2,290.22 L407.7,289.98 L408.2,289.73 L408.7,289.47 L409.2,289.20 L409.7,288.92 L410.2,288.63 L410.7,288.33 L411.2,288.02 L411.7,287.69 L412.2,287.36 L412.7,287.01 L413.2,286.66 L413.7,286.29 L414.2,285.92 L414.7,285.54 L415.2,285.15 L415.7,284.76 L416.2,284.35 L416.7,283.94 L417.2,283.52 L417.7,283.09 L418.2,282.64 L418.7,282.19 L419.2,281.72 L419.7,281.23 L420.2,280.73 L420.7,280.21 L421.2,279.67 L421.7,279.11 L422.2,278.52 L422.7,277.90 L423.2,277.25 L423.7,276.55 L424.2,275.82 L424.7,275.04 L425.2,274.23 L425.7,273.39 L426.2,272.52 L426.7,271.63 L427.2,270.74 L427.7,269.84 L428.2,268.94 L428.7,268.05 L429.2,267.15 L429.7,266.25 L430.2,265.34 L430.7,264.43 L431.2,263.52 L431.7,262.60 L432.2,261.68 L432.7,260.76 L433.2,259.84 L433.7,258.91 L434.2,257.98 L434.7,257.04 L435.2,256.11 L435.7,255.20 L436.2,254.33 L436.7,253.53 L437.2,252.80 L437.7,252.16 L438.2,251.62 L438.7,251.18 L439.2,250.82 L439.7,250.56 L440.2,250.36 L440.7,250.23 L441.2,250.15 L441.7,250.10 L442.2,250.09 L442.7,250.11 L443.2,250.18 L443.7,250.32 L444.2,250.55 L444.7,250.91 L445.2,251.44 L445.7,252.15 L446.2,253.05 L446.7,254.11 L447.2,255.32 L447.7,256.63 L448.2,258.02 L448.7,259.45 L449.2,260.90 L449.7,262.35 L450.2,263.78 L450.7,265.19 L451.2,266.59 L451.7,267.96 L452.2,269.32 L452.7,270.66 L453.2,271.98 L453.7,273.31 L454.2,274.70 L454.5,275.60" fill="none" stroke="#0b8035" stroke-width="1.7" stroke-linejoin="round" stroke-linecap="round" />
<line x1="391.0" y1="61.2" x2="437.6" y2="8.2" stroke="#000" stroke-width="1.5"/>
<line x1="394.6" y1="121.7" x2="435.8" y2="71.3" stroke="#000" stroke-width="1.5"/>
<line x1="394.4" y1="182.4" x2="429.5" y2="130.1" stroke="#000" stroke-width="1.5"/>
<line x1="391.8" y1="242.8" x2="429.5" y2="191" stroke="#000" stroke-width="1.5"/>
<line x1="409.4" y1="303.1" x2="438.5" y2="252.4" stroke="#000" stroke-width="1.5"/>
<g stroke="#000" stroke-width="1.5" fill="none">
<rect x="256.2" y="0.8" width="198.80" height="302.30"/>
<line x1="256.2" y1="61.2" x2="455.0" y2="61.2"/>
<line x1="256.2" y1="121.7" x2="455.0" y2="121.7"/>
<line x1="256.2" y1="182.4" x2="455.0" y2="182.4"/>
<line x1="256.2" y1="242.8" x2="455.0" y2="242.8"/>
<line x1="276.08" y1="303.1" x2="276.08" y2="301.30" stroke-width="1.4"/>
<line x1="295.96" y1="303.1" x2="295.96" y2="299.30" stroke-width="1.4"/>
<line x1="315.84" y1="303.1" x2="315.84" y2="301.30" stroke-width="1.4"/>
<line x1="335.72" y1="303.1" x2="335.72" y2="299.30" stroke-width="1.4"/>
<line x1="355.60" y1="303.1" x2="355.60" y2="301.30" stroke-width="1.4"/>
<line x1="375.48" y1="303.1" x2="375.48" y2="299.30" stroke-width="1.4"/>
<line x1="395.36" y1="303.1" x2="395.36" y2="301.30" stroke-width="1.4"/>
<line x1="415.24" y1="303.1" x2="415.24" y2="299.30" stroke-width="1.4"/>
<line x1="435.12" y1="303.1" x2="435.12" y2="301.30" stroke-width="1.4"/>
</g>
<rect x="338.5" y="32.7" width="40.4" height="206.8" fill="#f4f673" fill-opacity="0.85"/>
<text x="259.9" y="13.6" font-size="9.3" textLength="56.2" lengthAdjust="spacing">ZnO@Ag8%</text>
<text x="259.9" y="26.4" font-size="9.3" letter-spacing="0.35">E<tspan font-size="7.6" dy="3">g</tspan><tspan dy="-3">=</tspan>2.78 eV</text>
<text x="259.9" y="73.6" font-size="9.3" textLength="56.2" lengthAdjust="spacing">ZnO@Ag6%</text>
<text x="259.9" y="86.4" font-size="9.3" letter-spacing="0.35">E<tspan font-size="7.6" dy="3">g</tspan><tspan dy="-3">=</tspan>2.83 eV</text>
<text x="259.9" y="134.6" font-size="9.3" textLength="56.2" lengthAdjust="spacing">ZnO@Ag4%</text>
<text x="259.9" y="146.8" font-size="9.3" letter-spacing="0.35">E<tspan font-size="7.6" dy="3">g</tspan><tspan dy="-3">=</tspan>2.84 eV</text>
<text x="259.9" y="196.5" font-size="9.3" textLength="56.2" lengthAdjust="spacing">ZnO@Ag2%</text>
<text x="259.9" y="209.2" font-size="9.3" letter-spacing="0.35">E<tspan font-size="7.6" dy="3">g</tspan><tspan dy="-3">=</tspan>2.85 eV</text>
<text x="259.9" y="255.1" font-size="9.3" textLength="19.8" lengthAdjust="spacing">ZnO</text>
<text x="259.9" y="267.5" font-size="9.3" letter-spacing="0.35">E<tspan font-size="7.6" dy="3">g</tspan><tspan dy="-3">=</tspan>3.09 eV</text>
<text x="330.4" y="27.9" font-size="9.4" textLength="55" lengthAdjust="spacing">Ag<tspan font-size="7.4" dy="-4.3">0</tspan><tspan dy="4.3"> Plasmon</tspan></text>
<text x="256.20" y="315.3" font-size="9.5" text-anchor="middle" textLength="12.5" lengthAdjust="spacing">1.5</text>
<text x="295.96" y="315.3" font-size="9.5" text-anchor="middle" textLength="12.5" lengthAdjust="spacing">1.9</text>
<text x="335.72" y="315.3" font-size="9.5" text-anchor="middle" textLength="12.5" lengthAdjust="spacing">2.3</text>
<text x="375.48" y="315.3" font-size="9.5" text-anchor="middle" textLength="12.5" lengthAdjust="spacing">2.7</text>
<text x="415.24" y="315.3" font-size="9.5" text-anchor="middle" textLength="12.5" lengthAdjust="spacing">3.1</text>
<text x="455.00" y="315.3" font-size="9.5" text-anchor="middle" textLength="12.5" lengthAdjust="spacing">3.5</text>
<text x="355.7" y="336.4" font-size="15.5" text-anchor="middle">Energy (eV)</text>
<text transform="translate(247.6,147.6) rotate(-90)" font-size="15.5" text-anchor="middle">(Ahν)<tspan font-size="10" dy="-6">2</tspan><tspan dy="6">(eV)</tspan><tspan font-size="10" dy="-6">2</tspan></text>
<text x="238.5" y="15.9" font-size="16">b</text>
<path d="M483.80,50.33 L484.30,49.85 L484.80,49.34 L485.30,48.80 L485.80,48.23 L486.30,47.63 L486.80,47.01 L487.30,46.35 L487.80,45.67 L488.30,44.97 L488.80,44.25 L489.30,43.51 L489.80,42.76 L490.30,41.99 L490.80,41.22 L491.30,40.44 L491.80,39.67 L492.30,38.89 L492.80,38.13 L493.30,37.38 L493.80,36.66 L494.30,35.95 L494.80,35.27 L495.30,34.63 L495.80,34.03 L496.30,33.47 L496.80,32.95 L497.30,32.49 L497.80,32.08 L498.30,31.73 L498.80,31.44 L499.30,31.21 L499.80,31.05 L500.30,30.95 L500.80,30.92 L501.30,30.96 L501.80,31.07 L502.30,31.24 L502.80,31.48 L503.30,31.78 L503.80,32.14 L504.30,32.55 L504.80,33.02 L505.30,33.55 L505.80,34.11 L506.30,34.73 L506.80,35.37 L507.30,36.05 L507.80,36.76 L508.30,37.49 L508.80,38.25 L509.30,39.01 L509.80,39.78 L510.30,40.56 L510.80,41.34 L511.30,42.11 L511.80,42.87 L512.30,43.62 L512.80,44.36 L513.30,45.08 L513.80,45.78 L514.30,46.45 L514.80,47.10 L515.30,47.72 L515.80,48.32 L516.30,48.88 L516.80,49.42 L517.30,49.93 L517.80,50.40 L518.30,50.85 L518.80,51.27 L519.30,51.65 L519.80,52.01 L520.30,52.35 L520.80,52.65 L521.30,52.93 L521.80,53.19 L522.30,53.42 L522.80,53.64 L523.30,53.83 L523.80,54.00 L524.30,54.16 L524.80,54.30 L525.30,54.43 L525.80,54.54 L526.30,54.64 L526.80,54.73 L527.30,54.80 L527.80,54.87 L528.30,54.93 L528.80,54.98 L529.30,55.03 L529.80,55.07 L530.30,55.10 L530.80,55.13 L531.30,55.16 L531.80,55.18 L532.30,55.20 L532.80,55.22 L533.30,55.23 L533.80,55.24 L534.30,55.25 L534.80,55.26 L535.30,55.27 L535.80,55.27 L536.30,55.28 L536.80,55.28 L537.30,55.28 L537.80,55.29 L538.30,55.29 L538.80,55.29 L539.30,55.29 L539.80,55.29 L540.30,55.30 L540.80,55.30 L541.30,55.30 L541.80,55.30 L542.30,55.30 L542.80,55.30 L543.30,55.30 L543.80,55.30 L544.30,55.30 L544.80,55.30 L545.30,55.30 L545.80,55.30 L546.30,55.30 L546.80,55.30 L547.30,55.30 L547.80,55.30 L548.30,55.30 L548.80,55.30 L549.30,55.30 L549.80,55.30 L550.30,55.30 L550.80,55.30 L551.30,55.30 L551.80,55.30 L552.30,55.30 L552.80,55.30 L553.30,55.30 L553.80,55.30 L554.30,55.30 L554.80,55.30 L555.30,55.30 L555.80,55.30 L556.30,55.30 L556.80,55.30 L557.30,55.30 L557.80,55.30 L558.30,55.30 L558.80,55.30 L559.30,55.30 L559.80,55.30 L560.30,55.30 L560.80,55.30 L561.30,55.30 L561.80,55.30 L562.30,55.30 L562.80,55.30 L563.30,55.30 L563.80,55.30 L564.30,55.30 L564.80,55.30 L565.30,55.30 L565.80,55.30 L566.30,55.30 L566.80,55.30 L567.30,55.30 L567.80,55.30 L568.30,55.30 L568.80,55.30 L569.30,55.30 L569.80,55.30 L570.30,55.30 L570.80,55.30 L571.30,55.30 L571.80,55.30 L572.30,55.30 L572.80,55.30 L573.30,55.30 L573.80,55.30 L574.30,55.30 L574.80,55.30 L575.30,55.30 L575.80,55.30 L576.30,55.30 L576.80,55.30 L577.30,55.30 L577.80,55.30 L578.30,55.30 L578.80,55.30 L579.30,55.30 L579.80,55.30 L580.30,55.30 L580.80,55.30 L581.30,55.30 L581.80,55.30 L582.30,55.30 L582.80,55.30 L583.30,55.30 L583.80,55.30 L584.30,55.30 L584.80,55.30 L585.30,55.30 L585.80,55.30 L586.30,55.30 L586.80,55.30 L587.30,55.30 L587.80,55.30 L588.30,55.30 L588.80,55.30 L589.30,55.30 L589.80,55.30 L590.30,55.30 L590.80,55.30 L591.30,55.30 L591.80,55.30 L592.30,55.30 L592.80,55.30 L593.30,55.30 L593.80,55.30 L594.30,55.30 L594.80,55.30 L595.30,55.30 L595.80,55.30 L596.30,55.30 L596.80,55.30 L597.30,55.30 L597.80,55.30 L598.30,55.30 L598.80,55.30 L599.30,55.30 L599.80,55.30 L600.30,55.30 L600.80,55.30 L601.30,55.30 L601.80,55.30 L602.30,55.30 L602.80,55.30 L603.30,55.30 L603.80,55.30 L604.30,55.30 L604.80,55.30 L605.30,55.30 L605.80,55.30 L606.30,55.30 L606.80,55.30 L607.30,55.30 L607.80,55.30 L608.30,55.30 L608.80,55.30 L609.30,55.30 L609.80,55.30 L610.30,55.30 L610.80,55.30 L611.30,55.30 L611.80,55.30 L612.30,55.30 L612.80,55.30 L613.30,55.30 L613.80,55.30 L614.30,55.30 L614.80,55.30 L615.30,55.30 L615.80,55.30 L616.30,55.30 L616.80,55.30 L617.30,55.30 L617.80,55.30 L618.30,55.30 L618.80,55.30 L619.30,55.30 L619.80,55.30 L620.30,55.30 L620.80,55.30 L621.30,55.30 L621.80,55.30 L622.30,55.30 L622.80,55.30 L623.30,55.30 L623.80,55.30 L624.30,55.30 L624.80,55.30 L625.30,55.30 L625.80,55.30 L626.30,55.30 L626.80,55.30 L627.30,55.30 L627.80,55.30 L628.30,55.30 L628.80,55.30 L629.30,55.30 L629.80,55.30 L630.30,55.30 L630.80,55.30 L631.30,55.30 L631.80,55.30 L632.30,55.30 L632.80,55.30 L633.30,55.30 L633.80,55.30 L634.30,55.30 L634.80,55.30 L635.30,55.30 L635.80,55.30 L636.30,55.30 L636.80,55.30 L637.30,55.30 L637.80,55.30 L638.30,55.30 L638.80,55.30 L639.30,55.30 L639.80,55.30 L640.30,55.30 L640.80,55.30 L641.30,55.30 L641.80,55.30 L642.30,55.30 L642.80,55.30 L643.30,55.30 L643.80,55.30 L644.30,55.30 L644.80,55.30 L645.30,55.30 L645.80,55.30 L646.30,55.30 L646.80,55.30 L647.30,55.30 L647.80,55.30 L648.30,55.30 L648.80,55.30 L649.30,55.30 L649.80,55.30 L650.30,55.30 L650.80,55.30 L651.30,55.30 L651.80,55.30 L652.30,55.30 L652.80,55.30 L653.30,55.30 L653.80,55.30 L654.30,55.30 L654.80,55.30 L655.30,55.30 L655.80,55.30 L656.30,55.30 L656.80,55.30 L657.30,55.30 L657.80,55.30 L658.30,55.30 L658.80,55.30 L659.30,55.30 L659.80,55.30 L660.30,55.30 L660.80,55.30 L661.30,55.30 L661.80,55.30 L662.30,55.30 L662.80,55.30 L663.30,55.30 L663.80,55.30 L664.30,55.30 L664.80,55.30 L665.30,55.30 L665.80,55.30 L666.30,55.30 L666.80,55.30 L667.30,55.30 L667.80,55.30 L668.30,55.30 L668.80,55.30 L669.30,55.30 L669.80,55.30 L670.30,55.30 L670.80,55.30 L671.30,55.30 L671.80,55.30 L672.30,55.30 L672.80,55.30 L673.30,55.30 L673.80,55.30 L674.30,55.30 L674.80,55.30 L675.30,55.30 L675.80,55.30 L676.30,55.30 L676.80,55.30 L677.30,55.30 L677.80,55.30 L678.30,55.30 L678.80,55.30 L679.30,55.30 L679.80,55.30 L680.30,55.30 L680.80,55.30" fill="none" stroke="#ff1a1a" stroke-width="1.5" stroke-linejoin="round" stroke-linecap="round"/>
<path d="M483.80,53.71 L484.30,53.57 L484.80,53.43 L485.30,53.28 L485.80,53.11 L486.30,52.94 L486.80,52.76 L487.30,52.56 L487.80,52.36 L488.30,52.14 L488.80,51.91 L489.30,51.68 L489.80,51.43 L490.30,51.17 L490.80,50.89 L491.30,50.61 L491.80,50.32 L492.30,50.01 L492.80,49.69 L493.30,49.37 L493.80,49.03 L494.30,48.68 L494.80,48.33 L495.30,47.96 L495.80,47.59 L496.30,47.21 L496.80,46.82 L497.30,46.43 L497.80,46.03 L498.30,45.63 L498.80,45.22 L499.30,44.81 L499.80,44.40 L500.30,43.99 L500.80,43.58 L501.30,43.18 L501.80,42.77 L502.30,42.38 L502.80,41.98 L503.30,41.60 L503.80,41.22 L504.30,40.86 L504.80,40.50 L505.30,40.16 L505.80,39.84 L506.30,39.52 L506.80,39.23 L507.30,38.95 L507.80,38.69 L508.30,38.45 L508.80,38.23 L509.30,38.03 L509.80,37.85 L510.30,37.70 L510.80,37.57 L511.30,37.46 L511.80,37.38 L512.30,37.33 L512.80,37.30 L513.30,37.29 L513.80,37.31 L514.30,37.36 L514.80,37.43 L515.30,37.52 L515.80,37.64 L516.30,37.79 L516.80,37.95 L517.30,38.14 L517.80,38.35 L518.30,38.59 L518.80,38.84 L519.30,39.11 L519.80,39.40 L520.30,39.70 L520.80,40.03 L521.30,40.36 L521.80,40.71 L522.30,41.07 L522.80,41.44 L523.30,41.83 L523.80,42.21 L524.30,42.61 L524.80,43.01 L525.30,43.42 L525.80,43.82 L526.30,44.23 L526.80,44.64 L527.30,45.05 L527.80,45.46 L528.30,45.86 L528.80,46.26 L529.30,46.66 L529.80,47.05 L530.30,47.43 L530.80,47.81 L531.30,48.18 L531.80,48.54 L532.30,48.89 L532.80,49.23 L533.30,49.56 L533.80,49.88 L534.30,50.19 L534.80,50.49 L535.30,50.78 L535.80,51.05 L536.30,51.32 L536.80,51.57 L537.30,51.82 L537.80,52.05 L538.30,52.27 L538.80,52.48 L539.30,52.68 L539.80,52.86 L540.30,53.04 L540.80,53.21 L541.30,53.37 L541.80,53.52 L542.30,53.66 L542.80,53.79 L543.30,53.91 L543.80,54.02 L544.30,54.13 L544.80,54.23 L545.30,54.32 L545.80,54.41 L546.30,54.49 L546.80,54.56 L547.30,54.63 L547.80,54.69 L548.30,54.75 L548.80,54.80 L549.30,54.85 L549.80,54.89 L550.30,54.93 L550.80,54.97 L551.30,55.00 L551.80,55.03 L552.30,55.06 L552.80,55.09 L553.30,55.11 L553.80,55.13 L554.30,55.15 L554.80,55.16 L555.30,55.18 L555.80,55.19 L556.30,55.21 L556.80,55.22 L557.30,55.23 L557.80,55.23 L558.30,55.24 L558.80,55.25 L559.30,55.26 L559.80,55.26 L560.30,55.27 L560.80,55.27 L561.30,55.27 L561.80,55.28 L562.30,55.28 L562.80,55.28 L563.30,55.28 L563.80,55.29 L564.30,55.29 L564.80,55.29 L565.30,55.29 L565.80,55.29 L566.30,55.29 L566.80,55.29 L567.30,55.30 L567.80,55.30 L568.30,55.30 L568.80,55.30 L569.30,55.30 L569.80,55.30 L570.30,55.30 L570.80,55.30 L571.30,55.30 L571.80,55.30 L572.30,55.30 L572.80,55.30 L573.30,55.30 L573.80,55.30 L574.30,55.30 L574.80,55.30 L575.30,55.30 L575.80,55.30 L576.30,55.30 L576.80,55.30 L577.30,55.30 L577.80,55.30 L578.30,55.30 L578.80,55.30 L579.30,55.30 L579.80,55.30 L580.30,55.30 L580.80,55.30 L581.30,55.30 L581.80,55.30 L582.30,55.30 L582.80,55.30 L583.30,55.30 L583.80,55.30 L584.30,55.30 L584.80,55.30 L585.30,55.30 L585.80,55.30 L586.30,55.30 L586.80,55.30 L587.30,55.30 L587.80,55.30 L588.30,55.30 L588.80,55.30 L589.30,55.30 L589.80,55.30 L590.30,55.30 L590.80,55.30 L591.30,55.30 L591.80,55.30 L592.30,55.30 L592.80,55.30 L593.30,55.30 L593.80,55.30 L594.30,55.30 L594.80,55.30 L595.30,55.30 L595.80,55.30 L596.30,55.30 L596.80,55.30 L597.30,55.30 L597.80,55.30 L598.30,55.30 L598.80,55.30 L599.30,55.30 L599.80,55.30 L600.30,55.30 L600.80,55.30 L601.30,55.30 L601.80,55.30 L602.30,55.30 L602.80,55.30 L603.30,55.30 L603.80,55.30 L604.30,55.30 L604.80,55.30 L605.30,55.30 L605.80,55.30 L606.30,55.30 L606.80,55.30 L607.30,55.30 L607.80,55.30 L608.30,55.30 L608.80,55.30 L609.30,55.30 L609.80,55.30 L610.30,55.30 L610.80,55.30 L611.30,55.30 L611.80,55.30 L612.30,55.30 L612.80,55.30 L613.30,55.30 L613.80,55.30 L614.30,55.30 L614.80,55.30 L615.30,55.30 L615.80,55.30 L616.30,55.30 L616.80,55.30 L617.30,55.30 L617.80,55.30 L618.30,55.30 L618.80,55.30 L619.30,55.30 L619.80,55.30 L620.30,55.30 L620.80,55.30 L621.30,55.30 L621.80,55.30 L622.30,55.30 L622.80,55.30 L623.30,55.30 L623.80,55.30 L624.30,55.30 L624.80,55.30 L625.30,55.30 L625.80,55.30 L626.30,55.30 L626.80,55.30 L627.30,55.30 L627.80,55.30 L628.30,55.30 L628.80,55.30 L629.30,55.30 L629.80,55.30 L630.30,55.30 L630.80,55.30 L631.30,55.30 L631.80,55.30 L632.30,55.30 L632.80,55.30 L633.30,55.30 L633.80,55.30 L634.30,55.30 L634.80,55.30 L635.30,55.30 L635.80,55.30 L636.30,55.30 L636.80,55.30 L637.30,55.30 L637.80,55.30 L638.30,55.30 L638.80,55.30 L639.30,55.30 L639.80,55.30 L640.30,55.30 L640.80,55.30 L641.30,55.30 L641.80,55.30 L642.30,55.30 L642.80,55.30 L643.30,55.30 L643.80,55.30 L644.30,55.30 L644.80,55.30 L645.30,55.30 L645.80,55.30 L646.30,55.30 L646.80,55.30 L647.30,55.30 L647.80,55.30 L648.30,55.30 L648.80,55.30 L649.30,55.30 L649.80,55.30 L650.30,55.30 L650.80,55.30 L651.30,55.30 L651.80,55.30 L652.30,55.30 L652.80,55.30 L653.30,55.30 L653.80,55.30 L654.30,55.30 L654.80,55.30 L655.30,55.30 L655.80,55.30 L656.30,55.30 L656.80,55.30 L657.30,55.30 L657.80,55.30 L658.30,55.30 L658.80,55.30 L659.30,55.30 L659.80,55.30 L660.30,55.30 L660.80,55.30 L661.30,55.30 L661.80,55.30 L662.30,55.30 L662.80,55.30 L663.30,55.30 L663.80,55.30 L664.30,55.30 L664.80,55.30 L665.30,55.30 L665.80,55.30 L666.30,55.30 L666.80,55.30 L667.30,55.30 L667.80,55.30 L668.30,55.30 L668.80,55.30 L669.30,55.30 L669.80,55.30 L670.30,55.30 L670.80,55.30 L671.30,55.30 L671.80,55.30 L672.30,55.30 L672.80,55.30 L673.30,55.30 L673.80,55.30 L674.30,55.30 L674.80,55.30 L675.30,55.30 L675.80,55.30 L676.30,55.30 L676.80,55.30 L677.30,55.30 L677.80,55.30 L678.30,55.30 L678.80,55.30 L679.30,55.30 L679.80,55.30 L680.30,55.30 L680.80,55.30" fill="none" stroke="#22e622" stroke-width="1.5" stroke-linejoin="round" stroke-linecap="round"/>
<path d="M483.80,54.01 L484.30,53.96 L484.80,53.92 L485.30,53.87 L485.80,53.83 L486.30,53.78 L486.80,53.73 L487.30,53.68 L487.80,53.63 L488.30,53.58 L488.80,53.52 L489.30,53.47 L489.80,53.41 L490.30,53.35 L490.80,53.30 L491.30,53.24 L491.80,53.18 L492.30,53.11 L492.80,53.05 L493.30,52.99 L493.80,52.92 L494.30,52.85 L494.80,52.79 L495.30,52.72 L495.80,52.65 L496.30,52.58 L496.80,52.50 L497.30,52.43 L497.80,52.36 L498.30,52.28 L498.80,52.20 L499.30,52.13 L499.80,52.05 L500.30,51.97 L500.80,51.89 L501.30,51.81 L501.80,51.72 L502.30,51.64 L502.80,51.55 L503.30,51.47 L503.80,51.38 L504.30,51.29 L504.80,51.21 L505.30,51.12 L505.80,51.03 L506.30,50.94 L506.80,50.85 L507.30,50.76 L507.80,50.66 L508.30,50.57 L508.80,50.48 L509.30,50.38 L509.80,50.29 L510.30,50.19 L510.80,50.10 L511.30,50.00 L511.80,49.91 L512.30,49.81 L512.80,49.72 L513.30,49.62 L513.80,49.53 L514.30,49.43 L514.80,49.33 L515.30,49.24 L515.80,49.14 L516.30,49.05 L516.80,48.95 L517.30,48.86 L517.80,48.76 L518.30,48.67 L518.80,48.58 L519.30,48.48 L519.80,48.39 L520.30,48.30 L520.80,48.21 L521.30,48.12 L521.80,48.03 L522.30,47.94 L522.80,47.86 L523.30,47.77 L523.80,47.69 L524.30,47.60 L524.80,47.52 L525.30,47.44 L525.80,47.36 L526.30,47.28 L526.80,47.20 L527.30,47.13 L527.80,47.06 L528.30,46.98 L528.80,46.91 L529.30,46.84 L529.80,46.78 L530.30,46.71 L530.80,46.65 L531.30,46.59 L531.80,46.53 L532.30,46.47 L532.80,46.42 L533.30,46.37 L533.80,46.32 L534.30,46.27 L534.80,46.22 L535.30,46.18 L535.80,46.14 L536.30,46.10 L536.80,46.06 L537.30,46.03 L537.80,46.00 L538.30,45.97 L538.80,45.94 L539.30,45.92 L539.80,45.89 L540.30,45.87 L540.80,45.86 L541.30,45.84 L541.80,45.83 L542.30,45.82 L542.80,45.82 L543.30,45.82 L543.80,45.81 L544.30,45.82 L544.80,45.82 L545.30,45.83 L545.80,45.84 L546.30,45.85 L546.80,45.87 L547.30,45.88 L547.80,45.90 L548.30,45.93 L548.80,45.95 L549.30,45.98 L549.80,46.01 L550.30,46.04 L550.80,46.08 L551.30,46.12 L551.80,46.16 L552.30,46.20 L552.80,46.24 L553.30,46.29 L553.80,46.34 L554.30,46.39 L554.80,46.44 L555.30,46.50 L555.80,46.56 L556.30,46.62 L556.80,46.68 L557.30,46.74 L557.80,46.81 L558.30,46.88 L558.80,46.95 L559.30,47.02 L559.80,47.09 L560.30,47.16 L560.80,47.24 L561.30,47.32 L561.80,47.40 L562.30,47.48 L562.80,47.56 L563.30,47.64 L563.80,47.73 L564.30,47.81 L564.80,47.90 L565.30,47.98 L565.80,48.07 L566.30,48.16 L566.80,48.25 L567.30,48.34 L567.80,48.44 L568.30,48.53 L568.80,48.62 L569.30,48.71 L569.80,48.81 L570.30,48.90 L570.80,49.00 L571.30,49.09 L571.80,49.19 L572.30,49.28 L572.80,49.38 L573.30,49.48 L573.80,49.57 L574.30,49.67 L574.80,49.76 L575.30,49.86 L575.80,49.95 L576.30,50.05 L576.80,50.14 L577.30,50.24 L577.80,50.33 L578.30,50.43 L578.80,50.52 L579.30,50.61 L579.80,50.71 L580.30,50.80 L580.80,50.89 L581.30,50.98 L581.80,51.07 L582.30,51.16 L582.80,51.25 L583.30,51.34 L583.80,51.42 L584.30,51.51 L584.80,51.59 L585.30,51.68 L585.80,51.76 L586.30,51.84 L586.80,51.93 L587.30,52.01 L587.80,52.09 L588.30,52.16 L588.80,52.24 L589.30,52.32 L589.80,52.39 L590.30,52.47 L590.80,52.54 L591.30,52.61 L591.80,52.68 L592.30,52.75 L592.80,52.82 L593.30,52.89 L593.80,52.95 L594.30,53.02 L594.80,53.08 L595.30,53.14 L595.80,53.20 L596.30,53.26 L596.80,53.32 L597.30,53.38 L597.80,53.44 L598.30,53.49 L598.80,53.55 L599.30,53.60 L599.80,53.65 L600.30,53.70 L600.80,53.75 L601.30,53.80 L601.80,53.85 L602.30,53.90 L602.80,53.94 L603.30,53.98 L603.80,54.03 L604.30,54.07 L604.80,54.11 L605.30,54.15 L605.80,54.19 L606.30,54.23 L606.80,54.26 L607.30,54.30 L607.80,54.34 L608.30,54.37 L608.80,54.40 L609.30,54.43 L609.80,54.47 L610.30,54.50 L610.80,54.52 L611.30,54.55 L611.80,54.58 L612.30,54.61 L612.80,54.63 L613.30,54.66 L613.80,54.68 L614.30,54.71 L614.80,54.73 L615.30,54.75 L615.80,54.77 L616.30,54.79 L616.80,54.81 L617.30,54.83 L617.80,54.85 L618.30,54.87 L618.80,54.89 L619.30,54.91 L619.80,54.92 L620.30,54.94 L620.80,54.95 L621.30,54.97 L621.80,54.98 L622.30,54.99 L622.80,55.01 L623.30,55.02 L623.80,55.03 L624.30,55.04 L624.80,55.06 L625.30,55.07 L625.80,55.08 L626.30,55.09 L626.80,55.10 L627.30,55.11 L627.80,55.11 L628.30,55.12 L628.80,55.13 L629.30,55.14 L629.80,55.15 L630.30,55.15 L630.80,55.16 L631.30,55.17 L631.80,55.17 L632.30,55.18 L632.80,55.19 L633.30,55.19 L633.80,55.20 L634.30,55.20 L634.80,55.21 L635.30,55.21 L635.80,55.22 L636.30,55.22 L636.80,55.22 L637.30,55.23 L637.80,55.23 L638.30,55.23 L638.80,55.24 L639.30,55.24 L639.80,55.24 L640.30,55.25 L640.80,55.25 L641.30,55.25 L641.80,55.26 L642.30,55.26 L642.80,55.26 L643.30,55.26 L643.80,55.26 L644.30,55.27 L644.80,55.27 L645.30,55.27 L645.80,55.27 L646.30,55.27 L646.80,55.27 L647.30,55.28 L647.80,55.28 L648.30,55.28 L648.80,55.28 L649.30,55.28 L649.80,55.28 L650.30,55.28 L650.80,55.28 L651.30,55.28 L651.80,55.29 L652.30,55.29 L652.80,55.29 L653.30,55.29 L653.80,55.29 L654.30,55.29 L654.80,55.29 L655.30,55.29 L655.80,55.29 L656.30,55.29 L656.80,55.29 L657.30,55.29 L657.80,55.29 L658.30,55.29 L658.80,55.29 L659.30,55.29 L659.80,55.29 L660.30,55.30 L660.80,55.30 L661.30,55.30 L661.80,55.30 L662.30,55.30 L662.80,55.30 L663.30,55.30 L663.80,55.30 L664.30,55.30 L664.80,55.30 L665.30,55.30 L665.80,55.30 L666.30,55.30 L666.80,55.30 L667.30,55.30 L667.80,55.30 L668.30,55.30 L668.80,55.30 L669.30,55.30 L669.80,55.30 L670.30,55.30 L670.80,55.30 L671.30,55.30 L671.80,55.30 L672.30,55.30 L672.80,55.30 L673.30,55.30 L673.80,55.30 L674.30,55.30 L674.80,55.30 L675.30,55.30 L675.80,55.30 L676.30,55.30 L676.80,55.30 L677.30,55.30 L677.80,55.30 L678.30,55.30 L678.80,55.30 L679.30,55.30 L679.80,55.30 L680.30,55.30 L680.80,55.30" fill="none" stroke="#1a1aee" stroke-width="1.5" stroke-linejoin="round" stroke-linecap="round"/>
<path d="M575.00,55.28 L575.50,55.27 L576.00,55.27 L576.50,55.26 L577.00,55.26 L577.50,55.25 L578.00,55.25 L578.50,55.24 L579.00,55.24 L579.50,55.23 L580.00,55.22 L580.50,55.21 L581.00,55.20 L581.50,55.19 L582.00,55.18 L582.50,55.17 L583.00,55.15 L583.50,55.14 L584.00,55.12 L584.50,55.11 L585.00,55.09 L585.50,55.07 L586.00,55.05 L586.50,55.03 L587.00,55.01 L587.50,54.98 L588.00,54.96 L588.50,54.93 L589.00,54.91 L589.50,54.88 L590.00,54.85 L590.50,54.82 L591.00,54.79 L591.50,54.75 L592.00,54.72 L592.50,54.69 L593.00,54.65 L593.50,54.62 L594.00,54.58 L594.50,54.55 L595.00,54.51 L595.50,54.48 L596.00,54.44 L596.50,54.40 L597.00,54.37 L597.50,54.34 L598.00,54.30 L598.50,54.27 L599.00,54.24 L599.50,54.21 L600.00,54.18 L600.50,54.15 L601.00,54.13 L601.50,54.10 L602.00,54.08 L602.50,54.06 L603.00,54.05 L603.50,54.03 L604.00,54.02 L604.50,54.01 L605.00,54.01 L605.50,54.00 L606.00,54.00 L606.50,54.00 L607.00,54.01 L607.50,54.01 L608.00,54.02 L608.50,54.03 L609.00,54.05 L609.50,54.06 L610.00,54.08 L610.50,54.10 L611.00,54.13 L611.50,54.15 L612.00,54.18 L612.50,54.21 L613.00,54.24 L613.50,54.27 L614.00,54.30 L614.50,54.34 L615.00,54.37 L615.50,54.40 L616.00,54.44 L616.50,54.48 L617.00,54.51 L617.50,54.55 L618.00,54.58 L618.50,54.62 L619.00,54.65 L619.50,54.69 L620.00,54.72 L620.50,54.75 L621.00,54.79 L621.50,54.82 L622.00,54.85 L622.50,54.88 L623.00,54.91 L623.50,54.93 L624.00,54.96 L624.50,54.98 L625.00,55.01 L625.50,55.03 L626.00,55.05 L626.50,55.07 L627.00,55.09 L627.50,55.11 L628.00,55.12 L628.50,55.14 L629.00,55.15 L629.50,55.17 L630.00,55.18 L630.50,55.19 L631.00,55.20 L631.50,55.21 L632.00,55.22 L632.50,55.23 L633.00,55.24 L633.50,55.24 L634.00,55.25 L634.50,55.25 L635.00,55.26 L635.50,55.26 L636.00,55.27 L636.50,55.27 L637.00,55.28 L637.50,55.28 L638.00,55.28 L638.50,55.28 L639.00,55.29 L639.50,55.29 L640.00,55.29" fill="none" stroke="#22e622" stroke-width="1.5" stroke-linejoin="round" stroke-linecap="round"/>
<line x1="483.2" y1="55.3" x2="681.6" y2="55.3" stroke="#14f0f0" stroke-width="1.6"/>
<path d="M483.80,47.99 L484.30,47.37 L484.80,46.71 L485.30,46.02 L485.80,45.29 L486.30,44.53 L486.80,43.74 L487.30,42.91 L487.80,42.06 L488.30,41.17 L488.80,40.26 L489.30,39.32 L489.80,38.36 L490.30,37.37 L490.80,36.37 L491.30,35.36 L491.80,34.33 L492.30,33.30 L492.80,32.27 L493.30,31.23 L493.80,30.20 L494.30,29.18 L494.80,28.17 L495.30,27.18 L495.80,26.21 L496.30,25.26 L496.80,24.35 L497.30,23.46 L497.80,22.62 L498.30,21.82 L498.80,21.05 L499.30,20.34 L499.80,19.68 L500.30,19.07 L500.80,18.51 L501.30,18.01 L501.80,17.56 L502.30,17.17 L502.80,16.85 L503.30,16.58 L503.80,16.37 L504.30,16.21 L504.80,16.12 L505.30,16.08 L505.80,16.09 L506.30,16.16 L506.80,16.28 L507.30,16.45 L507.80,16.66 L508.30,16.91 L508.80,17.21 L509.30,17.54 L509.80,17.91 L510.30,18.31 L510.80,18.74 L511.30,19.19 L511.80,19.67 L512.30,20.17 L512.80,20.68 L513.30,21.21 L513.80,21.75 L514.30,22.30 L514.80,22.86 L515.30,23.43 L515.80,24.00 L516.30,24.57 L516.80,25.14 L517.30,25.71 L517.80,26.27 L518.30,26.84 L518.80,27.40 L519.30,27.95 L519.80,28.50 L520.30,29.04 L520.80,29.58 L521.30,30.11 L521.80,30.63 L522.30,31.14 L522.80,31.64 L523.30,32.14 L523.80,32.63 L524.30,33.10 L524.80,33.57 L525.30,34.03 L525.80,34.48 L526.30,34.92 L526.80,35.35 L527.30,35.78 L527.80,36.19 L528.30,36.59 L528.80,36.99 L529.30,37.37 L529.80,37.75 L530.30,38.11 L530.80,38.46 L531.30,38.81 L531.80,39.14 L532.30,39.47 L532.80,39.78 L533.30,40.09 L533.80,40.38 L534.30,40.66 L534.80,40.94 L535.30,41.20 L535.80,41.46 L536.30,41.70 L536.80,41.94 L537.30,42.16 L537.80,42.38 L538.30,42.58 L538.80,42.78 L539.30,42.97 L539.80,43.15 L540.30,43.32 L540.80,43.49 L541.30,43.64 L541.80,43.79 L542.30,43.94 L542.80,44.07 L543.30,44.20 L543.80,44.33 L544.30,44.45 L544.80,44.56 L545.30,44.67 L545.80,44.78 L546.30,44.88 L546.80,44.97 L547.30,45.07 L547.80,45.16 L548.30,45.25 L548.80,45.33 L549.30,45.42 L549.80,45.50 L550.30,45.58 L550.80,45.65 L551.30,45.73 L551.80,45.81 L552.30,45.88 L552.80,45.96 L553.30,46.03 L553.80,46.10 L554.30,46.18 L554.80,46.25 L555.30,46.32 L555.80,46.39 L556.30,46.47 L556.80,46.54 L557.30,46.61 L557.80,46.68 L558.30,46.76 L558.80,46.83 L559.30,46.90 L559.80,46.98 L560.30,47.05 L560.80,47.13 L561.30,47.20 L561.80,47.27 L562.30,47.35 L562.80,47.42 L563.30,47.50 L563.80,47.57 L564.30,47.65 L564.80,47.72 L565.30,47.80 L565.80,47.87 L566.30,47.94 L566.80,48.02 L567.30,48.09 L567.80,48.16 L568.30,48.23 L568.80,48.30 L569.30,48.37 L569.80,48.44 L570.30,48.51 L570.80,48.58 L571.30,48.65 L571.80,48.72 L572.30,48.78 L572.80,48.85 L573.30,48.91 L573.80,48.97 L574.30,49.04 L574.80,49.10 L575.30,49.16 L575.80,49.22 L576.30,49.28 L576.80,49.33 L577.30,49.39 L577.80,49.45 L578.30,49.50 L578.80,49.55 L579.30,49.60 L579.80,49.66 L580.30,49.71 L580.80,49.75 L581.30,49.80 L581.80,49.85 L582.30,49.90 L582.80,49.94 L583.30,49.98 L583.80,50.03 L584.30,50.07 L584.80,50.11 L585.30,50.15 L585.80,50.19 L586.30,50.23 L586.80,50.27 L587.30,50.31 L587.80,50.34 L588.30,50.38 L588.80,50.41 L589.30,50.45 L589.80,50.48 L590.30,50.52 L590.80,50.55 L591.30,50.58 L591.80,50.62 L592.30,50.65 L592.80,50.68 L593.30,50.71 L593.80,50.74 L594.30,50.77 L594.80,50.80 L595.30,50.83 L595.80,50.86 L596.30,50.89 L596.80,50.92 L597.30,50.95 L597.80,50.98 L598.30,51.00 L598.80,51.03 L599.30,51.06 L599.80,51.09 L600.30,51.12 L600.80,51.15 L601.30,51.18 L601.80,51.20 L602.30,51.23 L602.80,51.26 L603.30,51.29 L603.80,51.32 L604.30,51.35 L604.80,51.38 L605.30,51.40 L605.80,51.43 L606.30,51.46 L606.80,51.49 L607.30,51.52 L607.80,51.55 L608.30,51.58 L608.80,51.61 L609.30,51.64 L609.80,51.67 L610.30,51.70 L610.80,51.73 L611.30,51.76 L611.80,51.79 L612.30,51.82 L612.80,51.85 L613.30,51.89 L613.80,51.92 L614.30,51.95 L614.80,51.98 L615.30,52.01 L615.80,52.04 L616.30,52.08 L616.80,52.11 L617.30,52.14 L617.80,52.17 L618.30,52.20 L618.80,52.24 L619.30,52.27 L619.80,52.30 L620.30,52.34 L620.80,52.37 L621.30,52.40 L621.80,52.43 L622.30,52.47 L622.80,52.50 L623.30,52.53 L623.80,52.57 L624.30,52.60 L624.80,52.63 L625.30,52.67 L625.80,52.70 L626.30,52.73 L626.80,52.77 L627.30,52.80 L627.80,52.83 L628.30,52.87 L628.80,52.90 L629.30,52.93 L629.80,52.96 L630.30,53.00 L630.80,53.03 L631.30,53.06 L631.80,53.09 L632.30,53.13 L632.80,53.16 L633.30,53.19 L633.80,53.22 L634.30,53.25 L634.80,53.29 L635.30,53.32 L635.80,53.35 L636.30,53.38 L636.80,53.41 L637.30,53.44 L637.80,53.47 L638.30,53.50 L638.80,53.53 L639.30,53.56 L639.80,53.59 L640.30,53.62 L640.80,53.65 L641.30,53.68 L641.80,53.71 L642.30,53.74 L642.80,53.76 L643.30,53.79 L643.80,53.82 L644.30,53.85 L644.80,53.87 L645.30,53.90 L645.80,53.93 L646.30,53.95 L646.80,53.98 L647.30,54.00 L647.80,54.03 L648.30,54.05 L648.80,54.08 L649.30,54.10 L649.80,54.13 L650.30,54.15 L650.80,54.18 L651.30,54.20 L651.80,54.22 L652.30,54.24 L652.80,54.27 L653.30,54.29 L653.80,54.31 L654.30,54.33 L654.80,54.35 L655.30,54.37 L655.80,54.39 L656.30,54.41 L656.80,54.43 L657.30,54.45 L657.80,54.47 L658.30,54.49 L658.80,54.51 L659.30,54.53 L659.80,54.55 L660.30,54.56 L660.80,54.58 L661.30,54.60 L661.80,54.62 L662.30,54.63 L662.80,54.65 L663.30,54.66 L663.80,54.68 L664.30,54.70 L664.80,54.71 L665.30,54.73 L665.80,54.74 L666.30,54.75 L666.80,54.77 L667.30,54.78 L667.80,54.80 L668.30,54.81 L668.80,54.82 L669.30,54.83 L669.80,54.85 L670.30,54.86 L670.80,54.87 L671.30,54.88 L671.80,54.89 L672.30,54.90 L672.80,54.92 L673.30,54.93 L673.80,54.94 L674.30,54.95 L674.80,54.96 L675.30,54.97 L675.80,54.98 L676.30,54.99 L676.80,54.99 L677.30,55.00 L677.80,55.01 L678.30,55.02 L678.80,55.03 L679.30,55.04 L679.80,55.04 L680.30,55.05 L680.80,55.06" fill="none" stroke="#ff7a00" stroke-width="1.7" stroke-linejoin="round" stroke-linecap="round"/>
<path d="M483.80,108.31 L484.30,107.77 L484.80,107.20 L485.30,106.60 L485.80,105.97 L486.30,105.32 L486.80,104.63 L487.30,103.91 L487.80,103.17 L488.30,102.39 L488.80,101.59 L489.30,100.77 L489.80,99.93 L490.30,99.06 L490.80,98.17 L491.30,97.27 L491.80,96.36 L492.30,95.43 L492.80,94.50 L493.30,93.56 L493.80,92.62 L494.30,91.68 L494.80,90.75 L495.30,89.83 L495.80,88.92 L496.30,88.04 L496.80,87.17 L497.30,86.33 L497.80,85.52 L498.30,84.75 L498.80,84.01 L499.30,83.32 L499.80,82.67 L500.30,82.07 L500.80,81.53 L501.30,81.04 L501.80,80.61 L502.30,80.23 L502.80,79.92 L503.30,79.68 L503.80,79.50 L504.30,79.39 L504.80,79.34 L505.30,79.36 L505.80,79.45 L506.30,79.61 L506.80,79.83 L507.30,80.12 L507.80,80.47 L508.30,80.89 L508.80,81.36 L509.30,81.89 L509.80,82.47 L510.30,83.10 L510.80,83.78 L511.30,84.50 L511.80,85.26 L512.30,86.06 L512.80,86.89 L513.30,87.74 L513.80,88.63 L514.30,89.53 L514.80,90.44 L515.30,91.37 L515.80,92.30 L516.30,93.24 L516.80,94.18 L517.30,95.12 L517.80,96.05 L518.30,96.97 L518.80,97.87 L519.30,98.77 L519.80,99.64 L520.30,100.49 L520.80,101.32 L521.30,102.13 L521.80,102.91 L522.30,103.67 L522.80,104.39 L523.30,105.09 L523.80,105.76 L524.30,106.40 L524.80,107.00 L525.30,107.58 L525.80,108.13 L526.30,108.65 L526.80,109.14 L527.30,109.60 L527.80,110.03 L528.30,110.43 L528.80,110.81 L529.30,111.16 L529.80,111.49 L530.30,111.79 L530.80,112.07 L531.30,112.33 L531.80,112.57 L532.30,112.79 L532.80,112.99 L533.30,113.18 L533.80,113.34 L534.30,113.50 L534.80,113.64 L535.30,113.76 L535.80,113.88 L536.30,113.98 L536.80,114.07 L537.30,114.16 L537.80,114.23 L538.30,114.30 L538.80,114.36 L539.30,114.42 L539.80,114.46 L540.30,114.51 L540.80,114.54 L541.30,114.58 L541.80,114.61 L542.30,114.63 L542.80,114.65 L543.30,114.67 L543.80,114.69 L544.30,114.71 L544.80,114.72 L545.30,114.73 L545.80,114.74 L546.30,114.75 L546.80,114.76 L547.30,114.76 L547.80,114.77 L548.30,114.77 L548.80,114.78 L549.30,114.78 L549.80,114.78 L550.30,114.79 L550.80,114.79 L551.30,114.79 L551.80,114.79 L552.30,114.79 L552.80,114.79 L553.30,114.80 L553.80,114.80 L554.30,114.80 L554.80,114.80 L555.30,114.80 L555.80,114.80 L556.30,114.80 L556.80,114.80 L557.30,114.80 L557.80,114.80 L558.30,114.80 L558.80,114.80 L559.30,114.80 L559.80,114.80 L560.30,114.80 L560.80,114.80 L561.30,114.80 L561.80,114.80 L562.30,114.80 L562.80,114.80 L563.30,114.80 L563.80,114.80 L564.30,114.80 L564.80,114.80 L565.30,114.80 L565.80,114.80 L566.30,114.80 L566.80,114.80 L567.30,114.80 L567.80,114.80 L568.30,114.80 L568.80,114.80 L569.30,114.80 L569.80,114.80 L570.30,114.80 L570.80,114.80 L571.30,114.80 L571.80,114.80 L572.30,114.80 L572.80,114.80 L573.30,114.80 L573.80,114.80 L574.30,114.80 L574.80,114.80 L575.30,114.80 L575.80,114.80 L576.30,114.80 L576.80,114.80 L577.30,114.80 L577.80,114.80 L578.30,114.80 L578.80,114.80 L579.30,114.80 L579.80,114.80 L580.30,114.80 L580.80,114.80 L581.30,114.80 L581.80,114.80 L582.30,114.80 L582.80,114.80 L583.30,114.80 L583.80,114.80 L584.30,114.80 L584.80,114.80 L585.30,114.80 L585.80,114.80 L586.30,114.80 L586.80,114.80 L587.30,114.80 L587.80,114.80 L588.30,114.80 L588.80,114.80 L589.30,114.80 L589.80,114.80 L590.30,114.80 L590.80,114.80 L591.30,114.80 L591.80,114.80 L592.30,114.80 L592.80,114.80 L593.30,114.80 L593.80,114.80 L594.30,114.80 L594.80,114.80 L595.30,114.80 L595.80,114.80 L596.30,114.80 L596.80,114.80 L597.30,114.80 L597.80,114.80 L598.30,114.80 L598.80,114.80 L599.30,114.80 L599.80,114.80 L600.30,114.80 L600.80,114.80 L601.30,114.80 L601.80,114.80 L602.30,114.80 L602.80,114.80 L603.30,114.80 L603.80,114.80 L604.30,114.80 L604.80,114.80 L605.30,114.80 L605.80,114.80 L606.30,114.80 L606.80,114.80 L607.30,114.80 L607.80,114.80 L608.30,114.80 L608.80,114.80 L609.30,114.80 L609.80,114.80 L610.30,114.80 L610.80,114.80 L611.30,114.80 L611.80,114.80 L612.30,114.80 L612.80,114.80 L613.30,114.80 L613.80,114.80 L614.30,114.80 L614.80,114.80 L615.30,114.80 L615.80,114.80 L616.30,114.80 L616.80,114.80 L617.30,114.80 L617.80,114.80 L618.30,114.80 L618.80,114.80 L619.30,114.80 L619.80,114.80 L620.30,114.80 L620.80,114.80 L621.30,114.80 L621.80,114.80 L622.30,114.80 L622.80,114.80 L623.30,114.80 L623.80,114.80 L624.30,114.80 L624.80,114.80 L625.30,114.80 L625.80,114.80 L626.30,114.80 L626.80,114.80 L627.30,114.80 L627.80,114.80 L628.30,114.80 L628.80,114.80 L629.30,114.80 L629.80,114.80 L630.30,114.80 L630.80,114.80 L631.30,114.80 L631.80,114.80 L632.30,114.80 L632.80,114.80 L633.30,114.80 L633.80,114.80 L634.30,114.80 L634.80,114.80 L635.30,114.80 L635.80,114.80 L636.30,114.80 L636.80,114.80 L637.30,114.80 L637.80,114.80 L638.30,114.80 L638.80,114.80 L639.30,114.80 L639.80,114.80 L640.30,114.80 L640.80,114.80 L641.30,114.80 L641.80,114.80 L642.30,114.80 L642.80,114.80 L643.30,114.80 L643.80,114.80 L644.30,114.80 L644.80,114.80 L645.30,114.80 L645.80,114.80 L646.30,114.80 L646.80,114.80 L647.30,114.80 L647.80,114.80 L648.30,114.80 L648.80,114.80 L649.30,114.80 L649.80,114.80 L650.30,114.80 L650.80,114.80 L651.30,114.80 L651.80,114.80 L652.30,114.80 L652.80,114.80 L653.30,114.80 L653.80,114.80 L654.30,114.80 L654.80,114.80 L655.30,114.80 L655.80,114.80 L656.30,114.80 L656.80,114.80 L657.30,114.80 L657.80,114.80 L658.30,114.80 L658.80,114.80 L659.30,114.80 L659.80,114.80 L660.30,114.80 L660.80,114.80 L661.30,114.80 L661.80,114.80 L662.30,114.80 L662.80,114.80 L663.30,114.80 L663.80,114.80 L664.30,114.80 L664.80,114.80 L665.30,114.80 L665.80,114.80 L666.30,114.80 L666.80,114.80 L667.30,114.80 L667.80,114.80 L668.30,114.80 L668.80,114.80 L669.30,114.80 L669.80,114.80 L670.30,114.80 L670.80,114.80 L671.30,114.80 L671.80,114.80 L672.30,114.80 L672.80,114.80 L673.30,114.80 L673.80,114.80 L674.30,114.80 L674.80,114.80 L675.30,114.80 L675.80,114.80 L676.30,114.80 L676.80,114.80 L677.30,114.80 L677.80,114.80 L678.30,114.80 L678.80,114.80 L679.30,114.80 L679.80,114.80 L680.30,114.80 L680.80,114.80" fill="none" stroke="#ff1a1a" stroke-width="1.5" stroke-linejoin="round" stroke-linecap="round"/>
<path d="M483.80,114.80 L484.30,114.80 L484.80,114.80 L485.30,114.80 L485.80,114.79 L486.30,114.79 L486.80,114.79 L487.30,114.79 L487.80,114.79 L488.30,114.79 L488.80,114.78 L489.30,114.78 L489.80,114.78 L490.30,114.77 L490.80,114.77 L491.30,114.76 L491.80,114.75 L492.30,114.74 L492.80,114.73 L493.30,114.72 L493.80,114.71 L494.30,114.69 L494.80,114.67 L495.30,114.65 L495.80,114.63 L496.30,114.61 L496.80,114.58 L497.30,114.54 L497.80,114.51 L498.30,114.46 L498.80,114.42 L499.30,114.36 L499.80,114.31 L500.30,114.24 L500.80,114.17 L501.30,114.09 L501.80,114.01 L502.30,113.91 L502.80,113.81 L503.30,113.70 L503.80,113.58 L504.30,113.45 L504.80,113.31 L505.30,113.16 L505.80,113.00 L506.30,112.84 L506.80,112.66 L507.30,112.47 L507.80,112.27 L508.30,112.06 L508.80,111.84 L509.30,111.61 L509.80,111.37 L510.30,111.13 L510.80,110.88 L511.30,110.62 L511.80,110.36 L512.30,110.10 L512.80,109.83 L513.30,109.56 L513.80,109.30 L514.30,109.03 L514.80,108.77 L515.30,108.51 L515.80,108.26 L516.30,108.02 L516.80,107.78 L517.30,107.56 L517.80,107.35 L518.30,107.16 L518.80,106.98 L519.30,106.82 L519.80,106.68 L520.30,106.56 L520.80,106.45 L521.30,106.37 L521.80,106.31 L522.30,106.28 L522.80,106.27 L523.30,106.28 L523.80,106.31 L524.30,106.36 L524.80,106.44 L525.30,106.54 L525.80,106.66 L526.30,106.80 L526.80,106.96 L527.30,107.13 L527.80,107.33 L528.30,107.53 L528.80,107.75 L529.30,107.98 L529.80,108.22 L530.30,108.47 L530.80,108.73 L531.30,108.99 L531.80,109.26 L532.30,109.53 L532.80,109.80 L533.30,110.06 L533.80,110.33 L534.30,110.59 L534.80,110.85 L535.30,111.10 L535.80,111.34 L536.30,111.58 L536.80,111.81 L537.30,112.03 L537.80,112.24 L538.30,112.44 L538.80,112.63 L539.30,112.81 L539.80,112.98 L540.30,113.14 L540.80,113.29 L541.30,113.43 L541.80,113.56 L542.30,113.69 L542.80,113.80 L543.30,113.90 L543.80,114.00 L544.30,114.08 L544.80,114.16 L545.30,114.23 L545.80,114.30 L546.30,114.36 L546.80,114.41 L547.30,114.46 L547.80,114.50 L548.30,114.54 L548.80,114.57 L549.30,114.60 L549.80,114.63 L550.30,114.65 L550.80,114.67 L551.30,114.69 L551.80,114.71 L552.30,114.72 L552.80,114.73 L553.30,114.74 L553.80,114.75 L554.30,114.76 L554.80,114.76 L555.30,114.77 L555.80,114.78 L556.30,114.78 L556.80,114.78 L557.30,114.79 L557.80,114.79 L558.30,114.79 L558.80,114.79 L559.30,114.79 L559.80,114.79 L560.30,114.80 L560.80,114.80 L561.30,114.80 L561.80,114.80 L562.30,114.80 L562.80,114.80 L563.30,114.80 L563.80,114.80 L564.30,114.80 L564.80,114.80 L565.30,114.80 L565.80,114.80 L566.30,114.80 L566.80,114.80 L567.30,114.80 L567.80,114.80 L568.30,114.80 L568.80,114.80 L569.30,114.80 L569.80,114.80 L570.30,114.80 L570.80,114.80 L571.30,114.80 L571.80,114.80 L572.30,114.80 L572.80,114.80 L573.30,114.80 L573.80,114.80 L574.30,114.80 L574.80,114.80 L575.30,114.80 L575.80,114.80 L576.30,114.80 L576.80,114.80 L577.30,114.80 L577.80,114.80 L578.30,114.80 L578.80,114.80 L579.30,114.80 L579.80,114.80 L580.30,114.80 L580.80,114.80 L581.30,114.80 L581.80,114.80 L582.30,114.80 L582.80,114.80 L583.30,114.80 L583.80,114.80 L584.30,114.80 L584.80,114.80 L585.30,114.80 L585.80,114.80 L586.30,114.80 L586.80,114.80 L587.30,114.80 L587.80,114.80 L588.30,114.80 L588.80,114.80 L589.30,114.80 L589.80,114.80 L590.30,114.80 L590.80,114.80 L591.30,114.80 L591.80,114.80 L592.30,114.80 L592.80,114.80 L593.30,114.80 L593.80,114.80 L594.30,114.80 L594.80,114.80 L595.30,114.80 L595.80,114.80 L596.30,114.80 L596.80,114.80 L597.30,114.80 L597.80,114.80 L598.30,114.80 L598.80,114.80 L599.30,114.80 L599.80,114.80 L600.30,114.80 L600.80,114.80 L601.30,114.80 L601.80,114.80 L602.30,114.80 L602.80,114.80 L603.30,114.80 L603.80,114.80 L604.30,114.80 L604.80,114.80 L605.30,114.80 L605.80,114.80 L606.30,114.80 L606.80,114.80 L607.30,114.80 L607.80,114.80 L608.30,114.80 L608.80,114.80 L609.30,114.80 L609.80,114.80 L610.30,114.80 L610.80,114.80 L611.30,114.80 L611.80,114.80 L612.30,114.80 L612.80,114.80 L613.30,114.80 L613.80,114.80 L614.30,114.80 L614.80,114.80 L615.30,114.80 L615.80,114.80 L616.30,114.80 L616.80,114.80 L617.30,114.80 L617.80,114.80 L618.30,114.80 L618.80,114.80 L619.30,114.80 L619.80,114.80 L620.30,114.80 L620.80,114.80 L621.30,114.80 L621.80,114.80 L622.30,114.80 L622.80,114.80 L623.30,114.80 L623.80,114.80 L624.30,114.80 L624.80,114.80 L625.30,114.80 L625.80,114.80 L626.30,114.80 L626.80,114.80 L627.30,114.80 L627.80,114.80 L628.30,114.80 L628.80,114.80 L629.30,114.80 L629.80,114.80 L630.30,114.80 L630.80,114.80 L631.30,114.80 L631.80,114.80 L632.30,114.80 L632.80,114.80 L633.30,114.80 L633.80,114.80 L634.30,114.80 L634.80,114.80 L635.30,114.80 L635.80,114.80 L636.30,114.80 L636.80,114.80 L637.30,114.80 L637.80,114.80 L638.30,114.80 L638.80,114.80 L639.30,114.80 L639.80,114.80 L640.30,114.80 L640.80,114.80 L641.30,114.80 L641.80,114.80 L642.30,114.80 L642.80,114.80 L643.30,114.80 L643.80,114.80 L644.30,114.80 L644.80,114.80 L645.30,114.80 L645.80,114.80 L646.30,114.80 L646.80,114.80 L647.30,114.80 L647.80,114.80 L648.30,114.80 L648.80,114.80 L649.30,114.80 L649.80,114.80 L650.30,114.80 L650.80,114.80 L651.30,114.80 L651.80,114.80 L652.30,114.80 L652.80,114.80 L653.30,114.80 L653.80,114.80 L654.30,114.80 L654.80,114.80 L655.30,114.80 L655.80,114.80 L656.30,114.80 L656.80,114.80 L657.30,114.80 L657.80,114.80 L658.30,114.80 L658.80,114.80 L659.30,114.80 L659.80,114.80 L660.30,114.80 L660.80,114.80 L661.30,114.80 L661.80,114.80 L662.30,114.80 L662.80,114.80 L663.30,114.80 L663.80,114.80 L664.30,114.80 L664.80,114.80 L665.30,114.80 L665.80,114.80 L666.30,114.80 L666.80,114.80 L667.30,114.80 L667.80,114.80 L668.30,114.80 L668.80,114.80 L669.30,114.80 L669.80,114.80 L670.30,114.80 L670.80,114.80 L671.30,114.80 L671.80,114.80 L672.30,114.80 L672.80,114.80 L673.30,114.80 L673.80,114.80 L674.30,114.80 L674.80,114.80 L675.30,114.80 L675.80,114.80 L676.30,114.80 L676.80,114.80 L677.30,114.80 L677.80,114.80 L678.30,114.80 L678.80,114.80 L679.30,114.80 L679.80,114.80 L680.30,114.80 L680.80,114.80" fill="none" stroke="#22e622" stroke-width="1.5" stroke-linejoin="round" stroke-linecap="round"/>
<path d="M483.80,110.46 L484.30,110.36 L484.80,110.26 L485.30,110.16 L485.80,110.06 L486.30,109.95 L486.80,109.85 L487.30,109.74 L487.80,109.63 L488.30,109.52 L488.80,109.41 L489.30,109.30 L489.80,109.19 L490.30,109.08 L490.80,108.96 L491.30,108.85 L491.80,108.73 L492.30,108.61 L492.80,108.49 L493.30,108.37 L493.80,108.25 L494.30,108.13 L494.80,108.01 L495.30,107.89 L495.80,107.76 L496.30,107.64 L496.80,107.52 L497.30,107.39 L497.80,107.27 L498.30,107.14 L498.80,107.01 L499.30,106.89 L499.80,106.76 L500.30,106.63 L500.80,106.51 L501.30,106.38 L501.80,106.25 L502.30,106.12 L502.80,106.00 L503.30,105.87 L503.80,105.74 L504.30,105.61 L504.80,105.49 L505.30,105.36 L505.80,105.23 L506.30,105.11 L506.80,104.98 L507.30,104.86 L507.80,104.73 L508.30,104.61 L508.80,104.49 L509.30,104.36 L509.80,104.24 L510.30,104.12 L510.80,104.00 L511.30,103.89 L511.80,103.77 L512.30,103.65 L512.80,103.54 L513.30,103.42 L513.80,103.31 L514.30,103.20 L514.80,103.09 L515.30,102.98 L515.80,102.88 L516.30,102.77 L516.80,102.67 L517.30,102.57 L517.80,102.47 L518.30,102.37 L518.80,102.28 L519.30,102.18 L519.80,102.09 L520.30,102.00 L520.80,101.92 L521.30,101.83 L521.80,101.75 L522.30,101.67 L522.80,101.59 L523.30,101.52 L523.80,101.44 L524.30,101.37 L524.80,101.31 L525.30,101.24 L525.80,101.18 L526.30,101.12 L526.80,101.06 L527.30,101.01 L527.80,100.96 L528.30,100.91 L528.80,100.86 L529.30,100.82 L529.80,100.78 L530.30,100.74 L530.80,100.71 L531.30,100.68 L531.80,100.65 L532.30,100.63 L532.80,100.60 L533.30,100.58 L533.80,100.57 L534.30,100.56 L534.80,100.55 L535.30,100.54 L535.80,100.54 L536.30,100.54 L536.80,100.54 L537.30,100.55 L537.80,100.55 L538.30,100.57 L538.80,100.58 L539.30,100.60 L539.80,100.62 L540.30,100.65 L540.80,100.67 L541.30,100.70 L541.80,100.74 L542.30,100.77 L542.80,100.81 L543.30,100.86 L543.80,100.90 L544.30,100.95 L544.80,101.00 L545.30,101.05 L545.80,101.11 L546.30,101.17 L546.80,101.23 L547.30,101.30 L547.80,101.36 L548.30,101.43 L548.80,101.51 L549.30,101.58 L549.80,101.66 L550.30,101.74 L550.80,101.82 L551.30,101.90 L551.80,101.99 L552.30,102.08 L552.80,102.17 L553.30,102.26 L553.80,102.36 L554.30,102.45 L554.80,102.55 L555.30,102.65 L555.80,102.76 L556.30,102.86 L556.80,102.97 L557.30,103.07 L557.80,103.18 L558.30,103.29 L558.80,103.41 L559.30,103.52 L559.80,103.63 L560.30,103.75 L560.80,103.87 L561.30,103.98 L561.80,104.10 L562.30,104.22 L562.80,104.35 L563.30,104.47 L563.80,104.59 L564.30,104.71 L564.80,104.84 L565.30,104.96 L565.80,105.09 L566.30,105.21 L566.80,105.34 L567.30,105.47 L567.80,105.59 L568.30,105.72 L568.80,105.85 L569.30,105.98 L569.80,106.10 L570.30,106.23 L570.80,106.36 L571.30,106.49 L571.80,106.61 L572.30,106.74 L572.80,106.87 L573.30,106.99 L573.80,107.12 L574.30,107.25 L574.80,107.37 L575.30,107.50 L575.80,107.62 L576.30,107.75 L576.80,107.87 L577.30,107.99 L577.80,108.11 L578.30,108.23 L578.80,108.35 L579.30,108.47 L579.80,108.59 L580.30,108.71 L580.80,108.83 L581.30,108.94 L581.80,109.06 L582.30,109.17 L582.80,109.28 L583.30,109.40 L583.80,109.51 L584.30,109.62 L584.80,109.72 L585.30,109.83 L585.80,109.94 L586.30,110.04 L586.80,110.14 L587.30,110.25 L587.80,110.35 L588.30,110.45 L588.80,110.55 L589.30,110.64 L589.80,110.74 L590.30,110.83 L590.80,110.93 L591.30,111.02 L591.80,111.11 L592.30,111.20 L592.80,111.28 L593.30,111.37 L593.80,111.45 L594.30,111.54 L594.80,111.62 L595.30,111.70 L595.80,111.78 L596.30,111.86 L596.80,111.93 L597.30,112.01 L597.80,112.08 L598.30,112.16 L598.80,112.23 L599.30,112.30 L599.80,112.36 L600.30,112.43 L600.80,112.50 L601.30,112.56 L601.80,112.62 L602.30,112.69 L602.80,112.75 L603.30,112.80 L603.80,112.86 L604.30,112.92 L604.80,112.97 L605.30,113.03 L605.80,113.08 L606.30,113.13 L606.80,113.18 L607.30,113.23 L607.80,113.28 L608.30,113.33 L608.80,113.37 L609.30,113.42 L609.80,113.46 L610.30,113.50 L610.80,113.54 L611.30,113.58 L611.80,113.62 L612.30,113.66 L612.80,113.70 L613.30,113.74 L613.80,113.77 L614.30,113.81 L614.80,113.84 L615.30,113.87 L615.80,113.90 L616.30,113.93 L616.80,113.96 L617.30,113.99 L617.80,114.02 L618.30,114.05 L618.80,114.07 L619.30,114.10 L619.80,114.13 L620.30,114.15 L620.80,114.17 L621.30,114.20 L621.80,114.22 L622.30,114.24 L622.80,114.26 L623.30,114.28 L623.80,114.30 L624.30,114.32 L624.80,114.34 L625.30,114.35 L625.80,114.37 L626.30,114.39 L626.80,114.40 L627.30,114.42 L627.80,114.43 L628.30,114.45 L628.80,114.46 L629.30,114.48 L629.80,114.49 L630.30,114.50 L630.80,114.51 L631.30,114.52 L631.80,114.54 L632.30,114.55 L632.80,114.56 L633.30,114.57 L633.80,114.58 L634.30,114.59 L634.80,114.60 L635.30,114.60 L635.80,114.61 L636.30,114.62 L636.80,114.63 L637.30,114.64 L637.80,114.64 L638.30,114.65 L638.80,114.66 L639.30,114.66 L639.80,114.67 L640.30,114.67 L640.80,114.68 L641.30,114.68 L641.80,114.69 L642.30,114.70 L642.80,114.70 L643.30,114.70 L643.80,114.71 L644.30,114.71 L644.80,114.72 L645.30,114.72 L645.80,114.72 L646.30,114.73 L646.80,114.73 L647.30,114.73 L647.80,114.74 L648.30,114.74 L648.80,114.74 L649.30,114.75 L649.80,114.75 L650.30,114.75 L650.80,114.75 L651.30,114.76 L651.80,114.76 L652.30,114.76 L652.80,114.76 L653.30,114.76 L653.80,114.77 L654.30,114.77 L654.80,114.77 L655.30,114.77 L655.80,114.77 L656.30,114.77 L656.80,114.77 L657.30,114.78 L657.80,114.78 L658.30,114.78 L658.80,114.78 L659.30,114.78 L659.80,114.78 L660.30,114.78 L660.80,114.78 L661.30,114.78 L661.80,114.79 L662.30,114.79 L662.80,114.79 L663.30,114.79 L663.80,114.79 L664.30,114.79 L664.80,114.79 L665.30,114.79 L665.80,114.79 L666.30,114.79 L666.80,114.79 L667.30,114.79 L667.80,114.79 L668.30,114.79 L668.80,114.79 L669.30,114.79 L669.80,114.79 L670.30,114.79 L670.80,114.79 L671.30,114.80 L671.80,114.80 L672.30,114.80 L672.80,114.80 L673.30,114.80 L673.80,114.80 L674.30,114.80 L674.80,114.80 L675.30,114.80 L675.80,114.80 L676.30,114.80 L676.80,114.80 L677.30,114.80 L677.80,114.80 L678.30,114.80 L678.80,114.80 L679.30,114.80 L679.80,114.80 L680.30,114.80 L680.80,114.80" fill="none" stroke="#1a1aee" stroke-width="1.5" stroke-linejoin="round" stroke-linecap="round"/>
<path d="M575.00,114.78 L575.50,114.77 L576.00,114.77 L576.50,114.76 L577.00,114.76 L577.50,114.75 L578.00,114.75 L578.50,114.74 L579.00,114.74 L579.50,114.73 L580.00,114.72 L580.50,114.71 L581.00,114.70 L581.50,114.69 L582.00,114.68 L582.50,114.67 L583.00,114.65 L583.50,114.64 L584.00,114.62 L584.50,114.61 L585.00,114.59 L585.50,114.57 L586.00,114.55 L586.50,114.53 L587.00,114.51 L587.50,114.48 L588.00,114.46 L588.50,114.43 L589.00,114.41 L589.50,114.38 L590.00,114.35 L590.50,114.32 L591.00,114.29 L591.50,114.25 L592.00,114.22 L592.50,114.19 L593.00,114.15 L593.50,114.12 L594.00,114.08 L594.50,114.05 L595.00,114.01 L595.50,113.98 L596.00,113.94 L596.50,113.90 L597.00,113.87 L597.50,113.84 L598.00,113.80 L598.50,113.77 L599.00,113.74 L599.50,113.71 L600.00,113.68 L600.50,113.65 L601.00,113.63 L601.50,113.60 L602.00,113.58 L602.50,113.56 L603.00,113.55 L603.50,113.53 L604.00,113.52 L604.50,113.51 L605.00,113.51 L605.50,113.50 L606.00,113.50 L606.50,113.50 L607.00,113.51 L607.50,113.51 L608.00,113.52 L608.50,113.53 L609.00,113.55 L609.50,113.56 L610.00,113.58 L610.50,113.60 L611.00,113.63 L611.50,113.65 L612.00,113.68 L612.50,113.71 L613.00,113.74 L613.50,113.77 L614.00,113.80 L614.50,113.84 L615.00,113.87 L615.50,113.90 L616.00,113.94 L616.50,113.98 L617.00,114.01 L617.50,114.05 L618.00,114.08 L618.50,114.12 L619.00,114.15 L619.50,114.19 L620.00,114.22 L620.50,114.25 L621.00,114.29 L621.50,114.32 L622.00,114.35 L622.50,114.38 L623.00,114.41 L623.50,114.43 L624.00,114.46 L624.50,114.48 L625.00,114.51 L625.50,114.53 L626.00,114.55 L626.50,114.57 L627.00,114.59 L627.50,114.61 L628.00,114.62 L628.50,114.64 L629.00,114.65 L629.50,114.67 L630.00,114.68 L630.50,114.69 L631.00,114.70 L631.50,114.71 L632.00,114.72 L632.50,114.73 L633.00,114.74 L633.50,114.74 L634.00,114.75 L634.50,114.75 L635.00,114.76 L635.50,114.76 L636.00,114.77 L636.50,114.77 L637.00,114.78 L637.50,114.78 L638.00,114.78 L638.50,114.78 L639.00,114.79 L639.50,114.79 L640.00,114.79" fill="none" stroke="#22e622" stroke-width="1.5" stroke-linejoin="round" stroke-linecap="round"/>
<line x1="483.2" y1="114.8" x2="681.6" y2="114.8" stroke="#14f0f0" stroke-width="1.6"/>
<path d="M483.80,104.57 L484.30,103.91 L484.80,103.21 L485.30,102.49 L485.80,101.73 L486.30,100.95 L486.80,100.13 L487.30,99.28 L487.80,98.40 L488.30,97.49 L488.80,96.56 L489.30,95.60 L489.80,94.62 L490.30,93.62 L490.80,92.60 L491.30,91.56 L491.80,90.52 L492.30,89.46 L492.80,88.40 L493.30,87.33 L493.80,86.26 L494.30,85.20 L494.80,84.15 L495.30,83.10 L495.80,82.07 L496.30,81.06 L496.80,80.07 L497.30,79.11 L497.80,78.18 L498.30,77.27 L498.80,76.40 L499.30,75.57 L499.80,74.78 L500.30,74.04 L500.80,73.34 L501.30,72.68 L501.80,72.08 L502.30,71.52 L502.80,71.01 L503.30,70.56 L503.80,70.16 L504.30,69.81 L504.80,69.51 L505.30,69.26 L505.80,69.07 L506.30,68.92 L506.80,68.83 L507.30,68.78 L507.80,68.78 L508.30,68.82 L508.80,68.91 L509.30,69.04 L509.80,69.21 L510.30,69.42 L510.80,69.67 L511.30,69.95 L511.80,70.26 L512.30,70.60 L512.80,70.98 L513.30,71.38 L513.80,71.81 L514.30,72.27 L514.80,72.74 L515.30,73.24 L515.80,73.77 L516.30,74.31 L516.80,74.87 L517.30,75.44 L517.80,76.04 L518.30,76.65 L518.80,77.27 L519.30,77.90 L519.80,78.55 L520.30,79.20 L520.80,79.87 L521.30,80.54 L521.80,81.22 L522.30,81.90 L522.80,82.59 L523.30,83.27 L523.80,83.96 L524.30,84.65 L524.80,85.33 L525.30,86.01 L525.80,86.68 L526.30,87.35 L526.80,88.00 L527.30,88.65 L527.80,89.28 L528.30,89.90 L528.80,90.51 L529.30,91.10 L529.80,91.67 L530.30,92.23 L530.80,92.76 L531.30,93.28 L531.80,93.78 L532.30,94.26 L532.80,94.72 L533.30,95.16 L533.80,95.57 L534.30,95.97 L534.80,96.35 L535.30,96.70 L535.80,97.04 L536.30,97.36 L536.80,97.66 L537.30,97.94 L537.80,98.21 L538.30,98.46 L538.80,98.70 L539.30,98.92 L539.80,99.13 L540.30,99.32 L540.80,99.50 L541.30,99.68 L541.80,99.84 L542.30,100.00 L542.80,100.14 L543.30,100.28 L543.80,100.42 L544.30,100.55 L544.80,100.67 L545.30,100.79 L545.80,100.91 L546.30,101.02 L546.80,101.13 L547.30,101.24 L547.80,101.35 L548.30,101.45 L548.80,101.56 L549.30,101.67 L549.80,101.77 L550.30,101.88 L550.80,101.98 L551.30,102.09 L551.80,102.20 L552.30,102.31 L552.80,102.42 L553.30,102.53 L553.80,102.64 L554.30,102.75 L554.80,102.87 L555.30,102.98 L555.80,103.10 L556.30,103.22 L556.80,103.34 L557.30,103.46 L557.80,103.58 L558.30,103.70 L558.80,103.83 L559.30,103.95 L559.80,104.08 L560.30,104.21 L560.80,104.33 L561.30,104.46 L561.80,104.59 L562.30,104.72 L562.80,104.85 L563.30,104.98 L563.80,105.11 L564.30,105.24 L564.80,105.38 L565.30,105.51 L565.80,105.64 L566.30,105.77 L566.80,105.90 L567.30,106.04 L567.80,106.17 L568.30,106.30 L568.80,106.43 L569.30,106.56 L569.80,106.69 L570.30,106.82 L570.80,106.95 L571.30,107.08 L571.80,107.21 L572.30,107.34 L572.80,107.46 L573.30,107.59 L573.80,107.71 L574.30,107.84 L574.80,107.96 L575.30,108.08 L575.80,108.20 L576.30,108.32 L576.80,108.44 L577.30,108.56 L577.80,108.68 L578.30,108.79 L578.80,108.91 L579.30,109.02 L579.80,109.13 L580.30,109.24 L580.80,109.35 L581.30,109.46 L581.80,109.56 L582.30,109.67 L582.80,109.77 L583.30,109.87 L583.80,109.97 L584.30,110.07 L584.80,110.17 L585.30,110.26 L585.80,110.36 L586.30,110.45 L586.80,110.54 L587.30,110.63 L587.80,110.72 L588.30,110.80 L588.80,110.89 L589.30,110.97 L589.80,111.05 L590.30,111.13 L590.80,111.21 L591.30,111.29 L591.80,111.36 L592.30,111.44 L592.80,111.51 L593.30,111.58 L593.80,111.65 L594.30,111.72 L594.80,111.79 L595.30,111.85 L595.80,111.92 L596.30,111.98 L596.80,112.04 L597.30,112.10 L597.80,112.16 L598.30,112.22 L598.80,112.27 L599.30,112.33 L599.80,112.38 L600.30,112.43 L600.80,112.48 L601.30,112.53 L601.80,112.58 L602.30,112.63 L602.80,112.67 L603.30,112.72 L603.80,112.76 L604.30,112.81 L604.80,112.85 L605.30,112.89 L605.80,112.93 L606.30,112.97 L606.80,113.00 L607.30,113.04 L607.80,113.08 L608.30,113.11 L608.80,113.15 L609.30,113.18 L609.80,113.21 L610.30,113.24 L610.80,113.27 L611.30,113.30 L611.80,113.33 L612.30,113.36 L612.80,113.39 L613.30,113.42 L613.80,113.44 L614.30,113.47 L614.80,113.49 L615.30,113.52 L615.80,113.54 L616.30,113.56 L616.80,113.58 L617.30,113.61 L617.80,113.63 L618.30,113.65 L618.80,113.67 L619.30,113.69 L619.80,113.71 L620.30,113.73 L620.80,113.74 L621.30,113.76 L621.80,113.78 L622.30,113.80 L622.80,113.81 L623.30,113.83 L623.80,113.85 L624.30,113.86 L624.80,113.88 L625.30,113.89 L625.80,113.90 L626.30,113.92 L626.80,113.93 L627.30,113.95 L627.80,113.96 L628.30,113.97 L628.80,113.98 L629.30,114.00 L629.80,114.01 L630.30,114.02 L630.80,114.03 L631.30,114.04 L631.80,114.06 L632.30,114.07 L632.80,114.08 L633.30,114.09 L633.80,114.10 L634.30,114.11 L634.80,114.12 L635.30,114.13 L635.80,114.14 L636.30,114.15 L636.80,114.16 L637.30,114.17 L637.80,114.18 L638.30,114.18 L638.80,114.19 L639.30,114.20 L639.80,114.21 L640.30,114.22 L640.80,114.23 L641.30,114.23 L641.80,114.24 L642.30,114.25 L642.80,114.26 L643.30,114.27 L643.80,114.27 L644.30,114.28 L644.80,114.29 L645.30,114.30 L645.80,114.30 L646.30,114.31 L646.80,114.32 L647.30,114.32 L647.80,114.33 L648.30,114.34 L648.80,114.34 L649.30,114.35 L649.80,114.36 L650.30,114.36 L650.80,114.37 L651.30,114.38 L651.80,114.38 L652.30,114.39 L652.80,114.40 L653.30,114.40 L653.80,114.41 L654.30,114.41 L654.80,114.42 L655.30,114.43 L655.80,114.43 L656.30,114.44 L656.80,114.44 L657.30,114.45 L657.80,114.45 L658.30,114.46 L658.80,114.46 L659.30,114.47 L659.80,114.47 L660.30,114.48 L660.80,114.48 L661.30,114.49 L661.80,114.49 L662.30,114.50 L662.80,114.50 L663.30,114.51 L663.80,114.51 L664.30,114.52 L664.80,114.52 L665.30,114.53 L665.80,114.53 L666.30,114.54 L666.80,114.54 L667.30,114.55 L667.80,114.55 L668.30,114.55 L668.80,114.56 L669.30,114.56 L669.80,114.57 L670.30,114.57 L670.80,114.57 L671.30,114.58 L671.80,114.58 L672.30,114.59 L672.80,114.59 L673.30,114.59 L673.80,114.60 L674.30,114.60 L674.80,114.60 L675.30,114.61 L675.80,114.61 L676.30,114.62 L676.80,114.62 L677.30,114.62 L677.80,114.63 L678.30,114.63 L678.80,114.63 L679.30,114.63 L679.80,114.64 L680.30,114.64 L680.80,114.64" fill="none" stroke="#c09a12" stroke-width="1.7" stroke-linejoin="round" stroke-linecap="round"/>
<path d="M483.80,167.39 L484.30,166.73 L484.80,166.04 L485.30,165.31 L485.80,164.56 L486.30,163.77 L486.80,162.94 L487.30,162.09 L487.80,161.21 L488.30,160.30 L488.80,159.37 L489.30,158.42 L489.80,157.45 L490.30,156.46 L490.80,155.46 L491.30,154.45 L491.80,153.43 L492.30,152.42 L492.80,151.40 L493.30,150.39 L493.80,149.40 L494.30,148.42 L494.80,147.46 L495.30,146.52 L495.80,145.62 L496.30,144.75 L496.80,143.92 L497.30,143.14 L497.80,142.40 L498.30,141.72 L498.80,141.10 L499.30,140.53 L499.80,140.03 L500.30,139.59 L500.80,139.23 L501.30,138.93 L501.80,138.71 L502.30,138.56 L502.80,138.49 L503.30,138.50 L503.80,138.58 L504.30,138.74 L504.80,138.97 L505.30,139.27 L505.80,139.65 L506.30,140.09 L506.80,140.60 L507.30,141.18 L507.80,141.81 L508.30,142.50 L508.80,143.24 L509.30,144.03 L509.80,144.86 L510.30,145.74 L510.80,146.65 L511.30,147.58 L511.80,148.54 L512.30,149.53 L512.80,150.53 L513.30,151.53 L513.80,152.55 L514.30,153.57 L514.80,154.58 L515.30,155.59 L515.80,156.59 L516.30,157.58 L516.80,158.55 L517.30,159.50 L517.80,160.43 L518.30,161.33 L518.80,162.21 L519.30,163.05 L519.80,163.87 L520.30,164.66 L520.80,165.41 L521.30,166.13 L521.80,166.82 L522.30,167.47 L522.80,168.09 L523.30,168.68 L523.80,169.23 L524.30,169.75 L524.80,170.24 L525.30,170.69 L525.80,171.12 L526.30,171.51 L526.80,171.88 L527.30,172.22 L527.80,172.54 L528.30,172.83 L528.80,173.09 L529.30,173.34 L529.80,173.56 L530.30,173.76 L530.80,173.95 L531.30,174.12 L531.80,174.27 L532.30,174.41 L532.80,174.53 L533.30,174.65 L533.80,174.75 L534.30,174.84 L534.80,174.92 L535.30,174.99 L535.80,175.05 L536.30,175.11 L536.80,175.16 L537.30,175.20 L537.80,175.24 L538.30,175.28 L538.80,175.31 L539.30,175.33 L539.80,175.36 L540.30,175.38 L540.80,175.40 L541.30,175.41 L541.80,175.42 L542.30,175.43 L542.80,175.44 L543.30,175.45 L543.80,175.46 L544.30,175.47 L544.80,175.47 L545.30,175.48 L545.80,175.48 L546.30,175.48 L546.80,175.49 L547.30,175.49 L547.80,175.49 L548.30,175.49 L548.80,175.49 L549.30,175.49 L549.80,175.50 L550.30,175.50 L550.80,175.50 L551.30,175.50 L551.80,175.50 L552.30,175.50 L552.80,175.50 L553.30,175.50 L553.80,175.50 L554.30,175.50 L554.80,175.50 L555.30,175.50 L555.80,175.50 L556.30,175.50 L556.80,175.50 L557.30,175.50 L557.80,175.50 L558.30,175.50 L558.80,175.50 L559.30,175.50 L559.80,175.50 L560.30,175.50 L560.80,175.50 L561.30,175.50 L561.80,175.50 L562.30,175.50 L562.80,175.50 L563.30,175.50 L563.80,175.50 L564.30,175.50 L564.80,175.50 L565.30,175.50 L565.80,175.50 L566.30,175.50 L566.80,175.50 L567.30,175.50 L567.80,175.50 L568.30,175.50 L568.80,175.50 L569.30,175.50 L569.80,175.50 L570.30,175.50 L570.80,175.50 L571.30,175.50 L571.80,175.50 L572.30,175.50 L572.80,175.50 L573.30,175.50 L573.80,175.50 L574.30,175.50 L574.80,175.50 L575.30,175.50 L575.80,175.50 L576.30,175.50 L576.80,175.50 L577.30,175.50 L577.80,175.50 L578.30,175.50 L578.80,175.50 L579.30,175.50 L579.80,175.50 L580.30,175.50 L580.80,175.50 L581.30,175.50 L581.80,175.50 L582.30,175.50 L582.80,175.50 L583.30,175.50 L583.80,175.50 L584.30,175.50 L584.80,175.50 L585.30,175.50 L585.80,175.50 L586.30,175.50 L586.80,175.50 L587.30,175.50 L587.80,175.50 L588.30,175.50 L588.80,175.50 L589.30,175.50 L589.80,175.50 L590.30,175.50 L590.80,175.50 L591.30,175.50 L591.80,175.50 L592.30,175.50 L592.80,175.50 L593.30,175.50 L593.80,175.50 L594.30,175.50 L594.80,175.50 L595.30,175.50 L595.80,175.50 L596.30,175.50 L596.80,175.50 L597.30,175.50 L597.80,175.50 L598.30,175.50 L598.80,175.50 L599.30,175.50 L599.80,175.50 L600.30,175.50 L600.80,175.50 L601.30,175.50 L601.80,175.50 L602.30,175.50 L602.80,175.50 L603.30,175.50 L603.80,175.50 L604.30,175.50 L604.80,175.50 L605.30,175.50 L605.80,175.50 L606.30,175.50 L606.80,175.50 L607.30,175.50 L607.80,175.50 L608.30,175.50 L608.80,175.50 L609.30,175.50 L609.80,175.50 L610.30,175.50 L610.80,175.50 L611.30,175.50 L611.80,175.50 L612.30,175.50 L612.80,175.50 L613.30,175.50 L613.80,175.50 L614.30,175.50 L614.80,175.50 L615.30,175.50 L615.80,175.50 L616.30,175.50 L616.80,175.50 L617.30,175.50 L617.80,175.50 L618.30,175.50 L618.80,175.50 L619.30,175.50 L619.80,175.50 L620.30,175.50 L620.80,175.50 L621.30,175.50 L621.80,175.50 L622.30,175.50 L622.80,175.50 L623.30,175.50 L623.80,175.50 L624.30,175.50 L624.80,175.50 L625.30,175.50 L625.80,175.50 L626.30,175.50 L626.80,175.50 L627.30,175.50 L627.80,175.50 L628.30,175.50 L628.80,175.50 L629.30,175.50 L629.80,175.50 L630.30,175.50 L630.80,175.50 L631.30,175.50 L631.80,175.50 L632.30,175.50 L632.80,175.50 L633.30,175.50 L633.80,175.50 L634.30,175.50 L634.80,175.50 L635.30,175.50 L635.80,175.50 L636.30,175.50 L636.80,175.50 L637.30,175.50 L637.80,175.50 L638.30,175.50 L638.80,175.50 L639.30,175.50 L639.80,175.50 L640.30,175.50 L640.80,175.50 L641.30,175.50 L641.80,175.50 L642.30,175.50 L642.80,175.50 L643.30,175.50 L643.80,175.50 L644.30,175.50 L644.80,175.50 L645.30,175.50 L645.80,175.50 L646.30,175.50 L646.80,175.50 L647.30,175.50 L647.80,175.50 L648.30,175.50 L648.80,175.50 L649.30,175.50 L649.80,175.50 L650.30,175.50 L650.80,175.50 L651.30,175.50 L651.80,175.50 L652.30,175.50 L652.80,175.50 L653.30,175.50 L653.80,175.50 L654.30,175.50 L654.80,175.50 L655.30,175.50 L655.80,175.50 L656.30,175.50 L656.80,175.50 L657.30,175.50 L657.80,175.50 L658.30,175.50 L658.80,175.50 L659.30,175.50 L659.80,175.50 L660.30,175.50 L660.80,175.50 L661.30,175.50 L661.80,175.50 L662.30,175.50 L662.80,175.50 L663.30,175.50 L663.80,175.50 L664.30,175.50 L664.80,175.50 L665.30,175.50 L665.80,175.50 L666.30,175.50 L666.80,175.50 L667.30,175.50 L667.80,175.50 L668.30,175.50 L668.80,175.50 L669.30,175.50 L669.80,175.50 L670.30,175.50 L670.80,175.50 L671.30,175.50 L671.80,175.50 L672.30,175.50 L672.80,175.50 L673.30,175.50 L673.80,175.50 L674.30,175.50 L674.80,175.50 L675.30,175.50 L675.80,175.50 L676.30,175.50 L676.80,175.50 L677.30,175.50 L677.80,175.50 L678.30,175.50 L678.80,175.50 L679.30,175.50 L679.80,175.50 L680.30,175.50 L680.80,175.50" fill="none" stroke="#ff1a1a" stroke-width="1.5" stroke-linejoin="round" stroke-linecap="round"/>
<path d="M483.80,175.49 L484.30,175.49 L484.80,175.48 L485.30,175.48 L485.80,175.48 L486.30,175.47 L486.80,175.47 L487.30,175.46 L487.80,175.46 L488.30,175.45 L488.80,175.44 L489.30,175.43 L489.80,175.42 L490.30,175.40 L490.80,175.39 L491.30,175.37 L491.80,175.35 L492.30,175.32 L492.80,175.30 L493.30,175.27 L493.80,175.24 L494.30,175.20 L494.80,175.16 L495.30,175.11 L495.80,175.06 L496.30,175.00 L496.80,174.94 L497.30,174.87 L497.80,174.79 L498.30,174.71 L498.80,174.62 L499.30,174.52 L499.80,174.41 L500.30,174.29 L500.80,174.16 L501.30,174.03 L501.80,173.88 L502.30,173.73 L502.80,173.56 L503.30,173.39 L503.80,173.20 L504.30,173.00 L504.80,172.80 L505.30,172.58 L505.80,172.36 L506.30,172.12 L506.80,171.88 L507.30,171.63 L507.80,171.37 L508.30,171.11 L508.80,170.84 L509.30,170.57 L509.80,170.29 L510.30,170.01 L510.80,169.73 L511.30,169.46 L511.80,169.18 L512.30,168.91 L512.80,168.64 L513.30,168.39 L513.80,168.14 L514.30,167.90 L514.80,167.67 L515.30,167.45 L515.80,167.25 L516.30,167.07 L516.80,166.90 L517.30,166.75 L517.80,166.63 L518.30,166.52 L518.80,166.43 L519.30,166.37 L519.80,166.32 L520.30,166.30 L520.80,166.31 L521.30,166.33 L521.80,166.38 L522.30,166.45 L522.80,166.55 L523.30,166.66 L523.80,166.80 L524.30,166.95 L524.80,167.12 L525.30,167.31 L525.80,167.51 L526.30,167.73 L526.80,167.96 L527.30,168.21 L527.80,168.46 L528.30,168.72 L528.80,168.99 L529.30,169.26 L529.80,169.54 L530.30,169.81 L530.80,170.09 L531.30,170.37 L531.80,170.65 L532.30,170.92 L532.80,171.18 L533.30,171.45 L533.80,171.70 L534.30,171.95 L534.80,172.19 L535.30,172.42 L535.80,172.65 L536.30,172.86 L536.80,173.06 L537.30,173.26 L537.80,173.44 L538.30,173.61 L538.80,173.77 L539.30,173.93 L539.80,174.07 L540.30,174.20 L540.80,174.33 L541.30,174.44 L541.80,174.55 L542.30,174.64 L542.80,174.73 L543.30,174.81 L543.80,174.89 L544.30,174.96 L544.80,175.02 L545.30,175.07 L545.80,175.12 L546.30,175.17 L546.80,175.21 L547.30,175.25 L547.80,175.28 L548.30,175.31 L548.80,175.33 L549.30,175.35 L549.80,175.37 L550.30,175.39 L550.80,175.41 L551.30,175.42 L551.80,175.43 L552.30,175.44 L552.80,175.45 L553.30,175.46 L553.80,175.46 L554.30,175.47 L554.80,175.47 L555.30,175.48 L555.80,175.48 L556.30,175.48 L556.80,175.49 L557.30,175.49 L557.80,175.49 L558.30,175.49 L558.80,175.49 L559.30,175.49 L559.80,175.50 L560.30,175.50 L560.80,175.50 L561.30,175.50 L561.80,175.50 L562.30,175.50 L562.80,175.50 L563.30,175.50 L563.80,175.50 L564.30,175.50 L564.80,175.50 L565.30,175.50 L565.80,175.50 L566.30,175.50 L566.80,175.50 L567.30,175.50 L567.80,175.50 L568.30,175.50 L568.80,175.50 L569.30,175.50 L569.80,175.50 L570.30,175.50 L570.80,175.50 L571.30,175.50 L571.80,175.50 L572.30,175.50 L572.80,175.50 L573.30,175.50 L573.80,175.50 L574.30,175.50 L574.80,175.50 L575.30,175.50 L575.80,175.50 L576.30,175.50 L576.80,175.50 L577.30,175.50 L577.80,175.50 L578.30,175.50 L578.80,175.50 L579.30,175.50 L579.80,175.50 L580.30,175.50 L580.80,175.50 L581.30,175.50 L581.80,175.50 L582.30,175.50 L582.80,175.50 L583.30,175.50 L583.80,175.50 L584.30,175.50 L584.80,175.50 L585.30,175.50 L585.80,175.50 L586.30,175.50 L586.80,175.50 L587.30,175.50 L587.80,175.50 L588.30,175.50 L588.80,175.50 L589.30,175.50 L589.80,175.50 L590.30,175.50 L590.80,175.50 L591.30,175.50 L591.80,175.50 L592.30,175.50 L592.80,175.50 L593.30,175.50 L593.80,175.50 L594.30,175.50 L594.80,175.50 L595.30,175.50 L595.80,175.50 L596.30,175.50 L596.80,175.50 L597.30,175.50 L597.80,175.50 L598.30,175.50 L598.80,175.50 L599.30,175.50 L599.80,175.50 L600.30,175.50 L600.80,175.50 L601.30,175.50 L601.80,175.50 L602.30,175.50 L602.80,175.50 L603.30,175.50 L603.80,175.50 L604.30,175.50 L604.80,175.50 L605.30,175.50 L605.80,175.50 L606.30,175.50 L606.80,175.50 L607.30,175.50 L607.80,175.50 L608.30,175.50 L608.80,175.50 L609.30,175.50 L609.80,175.50 L610.30,175.50 L610.80,175.50 L611.30,175.50 L611.80,175.50 L612.30,175.50 L612.80,175.50 L613.30,175.50 L613.80,175.50 L614.30,175.50 L614.80,175.50 L615.30,175.50 L615.80,175.50 L616.30,175.50 L616.80,175.50 L617.30,175.50 L617.80,175.50 L618.30,175.50 L618.80,175.50 L619.30,175.50 L619.80,175.50 L620.30,175.50 L620.80,175.50 L621.30,175.50 L621.80,175.50 L622.30,175.50 L622.80,175.50 L623.30,175.50 L623.80,175.50 L624.30,175.50 L624.80,175.50 L625.30,175.50 L625.80,175.50 L626.30,175.50 L626.80,175.50 L627.30,175.50 L627.80,175.50 L628.30,175.50 L628.80,175.50 L629.30,175.50 L629.80,175.50 L630.30,175.50 L630.80,175.50 L631.30,175.50 L631.80,175.50 L632.30,175.50 L632.80,175.50 L633.30,175.50 L633.80,175.50 L634.30,175.50 L634.80,175.50 L635.30,175.50 L635.80,175.50 L636.30,175.50 L636.80,175.50 L637.30,175.50 L637.80,175.50 L638.30,175.50 L638.80,175.50 L639.30,175.50 L639.80,175.50 L640.30,175.50 L640.80,175.50 L641.30,175.50 L641.80,175.50 L642.30,175.50 L642.80,175.50 L643.30,175.50 L643.80,175.50 L644.30,175.50 L644.80,175.50 L645.30,175.50 L645.80,175.50 L646.30,175.50 L646.80,175.50 L647.30,175.50 L647.80,175.50 L648.30,175.50 L648.80,175.50 L649.30,175.50 L649.80,175.50 L650.30,175.50 L650.80,175.50 L651.30,175.50 L651.80,175.50 L652.30,175.50 L652.80,175.50 L653.30,175.50 L653.80,175.50 L654.30,175.50 L654.80,175.50 L655.30,175.50 L655.80,175.50 L656.30,175.50 L656.80,175.50 L657.30,175.50 L657.80,175.50 L658.30,175.50 L658.80,175.50 L659.30,175.50 L659.80,175.50 L660.30,175.50 L660.80,175.50 L661.30,175.50 L661.80,175.50 L662.30,175.50 L662.80,175.50 L663.30,175.50 L663.80,175.50 L664.30,175.50 L664.80,175.50 L665.30,175.50 L665.80,175.50 L666.30,175.50 L666.80,175.50 L667.30,175.50 L667.80,175.50 L668.30,175.50 L668.80,175.50 L669.30,175.50 L669.80,175.50 L670.30,175.50 L670.80,175.50 L671.30,175.50 L671.80,175.50 L672.30,175.50 L672.80,175.50 L673.30,175.50 L673.80,175.50 L674.30,175.50 L674.80,175.50 L675.30,175.50 L675.80,175.50 L676.30,175.50 L676.80,175.50 L677.30,175.50 L677.80,175.50 L678.30,175.50 L678.80,175.50 L679.30,175.50 L679.80,175.50 L680.30,175.50 L680.80,175.50" fill="none" stroke="#22e622" stroke-width="1.5" stroke-linejoin="round" stroke-linecap="round"/>
<path d="M483.80,171.21 L484.30,171.12 L484.80,171.03 L485.30,170.94 L485.80,170.85 L486.30,170.76 L486.80,170.67 L487.30,170.58 L487.80,170.48 L488.30,170.39 L488.80,170.29 L489.30,170.20 L489.80,170.10 L490.30,170.01 L490.80,169.91 L491.30,169.81 L491.80,169.71 L492.30,169.62 L492.80,169.52 L493.30,169.42 L493.80,169.32 L494.30,169.22 L494.80,169.12 L495.30,169.02 L495.80,168.91 L496.30,168.81 L496.80,168.71 L497.30,168.61 L497.80,168.51 L498.30,168.41 L498.80,168.31 L499.30,168.21 L499.80,168.10 L500.30,168.00 L500.80,167.90 L501.30,167.80 L501.80,167.70 L502.30,167.60 L502.80,167.50 L503.30,167.40 L503.80,167.30 L504.30,167.20 L504.80,167.11 L505.30,167.01 L505.80,166.91 L506.30,166.82 L506.80,166.72 L507.30,166.63 L507.80,166.53 L508.30,166.44 L508.80,166.35 L509.30,166.26 L509.80,166.17 L510.30,166.08 L510.80,165.99 L511.30,165.90 L511.80,165.82 L512.30,165.73 L512.80,165.65 L513.30,165.57 L513.80,165.49 L514.30,165.41 L514.80,165.33 L515.30,165.26 L515.80,165.19 L516.30,165.11 L516.80,165.04 L517.30,164.97 L517.80,164.91 L518.30,164.84 L518.80,164.78 L519.30,164.71 L519.80,164.65 L520.30,164.60 L520.80,164.54 L521.30,164.49 L521.80,164.43 L522.30,164.38 L522.80,164.34 L523.30,164.29 L523.80,164.25 L524.30,164.21 L524.80,164.17 L525.30,164.13 L525.80,164.09 L526.30,164.06 L526.80,164.03 L527.30,164.00 L527.80,163.98 L528.30,163.95 L528.80,163.93 L529.30,163.91 L529.80,163.90 L530.30,163.88 L530.80,163.87 L531.30,163.86 L531.80,163.85 L532.30,163.85 L532.80,163.85 L533.30,163.85 L533.80,163.85 L534.30,163.86 L534.80,163.86 L535.30,163.87 L535.80,163.89 L536.30,163.90 L536.80,163.92 L537.30,163.94 L537.80,163.96 L538.30,163.98 L538.80,164.01 L539.30,164.04 L539.80,164.07 L540.30,164.10 L540.80,164.14 L541.30,164.18 L541.80,164.22 L542.30,164.26 L542.80,164.30 L543.30,164.35 L543.80,164.40 L544.30,164.45 L544.80,164.50 L545.30,164.55 L545.80,164.61 L546.30,164.67 L546.80,164.73 L547.30,164.79 L547.80,164.86 L548.30,164.92 L548.80,164.99 L549.30,165.06 L549.80,165.13 L550.30,165.20 L550.80,165.28 L551.30,165.35 L551.80,165.43 L552.30,165.51 L552.80,165.59 L553.30,165.67 L553.80,165.76 L554.30,165.84 L554.80,165.93 L555.30,166.01 L555.80,166.10 L556.30,166.19 L556.80,166.28 L557.30,166.37 L557.80,166.46 L558.30,166.56 L558.80,166.65 L559.30,166.74 L559.80,166.84 L560.30,166.94 L560.80,167.03 L561.30,167.13 L561.80,167.23 L562.30,167.33 L562.80,167.43 L563.30,167.53 L563.80,167.63 L564.30,167.73 L564.80,167.83 L565.30,167.93 L565.80,168.03 L566.30,168.13 L566.80,168.23 L567.30,168.33 L567.80,168.43 L568.30,168.54 L568.80,168.64 L569.30,168.74 L569.80,168.84 L570.30,168.94 L570.80,169.04 L571.30,169.14 L571.80,169.24 L572.30,169.34 L572.80,169.44 L573.30,169.54 L573.80,169.64 L574.30,169.74 L574.80,169.84 L575.30,169.93 L575.80,170.03 L576.30,170.13 L576.80,170.22 L577.30,170.32 L577.80,170.41 L578.30,170.51 L578.80,170.60 L579.30,170.69 L579.80,170.78 L580.30,170.87 L580.80,170.96 L581.30,171.05 L581.80,171.14 L582.30,171.23 L582.80,171.32 L583.30,171.40 L583.80,171.49 L584.30,171.57 L584.80,171.65 L585.30,171.73 L585.80,171.81 L586.30,171.89 L586.80,171.97 L587.30,172.05 L587.80,172.13 L588.30,172.20 L588.80,172.28 L589.30,172.35 L589.80,172.43 L590.30,172.50 L590.80,172.57 L591.30,172.64 L591.80,172.70 L592.30,172.77 L592.80,172.84 L593.30,172.90 L593.80,172.97 L594.30,173.03 L594.80,173.09 L595.30,173.15 L595.80,173.21 L596.30,173.27 L596.80,173.33 L597.30,173.39 L597.80,173.44 L598.30,173.50 L598.80,173.55 L599.30,173.60 L599.80,173.65 L600.30,173.70 L600.80,173.75 L601.30,173.80 L601.80,173.85 L602.30,173.90 L602.80,173.94 L603.30,173.99 L603.80,174.03 L604.30,174.07 L604.80,174.11 L605.30,174.15 L605.80,174.19 L606.30,174.23 L606.80,174.27 L607.30,174.31 L607.80,174.34 L608.30,174.38 L608.80,174.41 L609.30,174.45 L609.80,174.48 L610.30,174.51 L610.80,174.54 L611.30,174.57 L611.80,174.60 L612.30,174.63 L612.80,174.66 L613.30,174.69 L613.80,174.71 L614.30,174.74 L614.80,174.76 L615.30,174.79 L615.80,174.81 L616.30,174.84 L616.80,174.86 L617.30,174.88 L617.80,174.90 L618.30,174.92 L618.80,174.94 L619.30,174.96 L619.80,174.98 L620.30,175.00 L620.80,175.02 L621.30,175.03 L621.80,175.05 L622.30,175.07 L622.80,175.08 L623.30,175.10 L623.80,175.11 L624.30,175.13 L624.80,175.14 L625.30,175.15 L625.80,175.17 L626.30,175.18 L626.80,175.19 L627.30,175.20 L627.80,175.21 L628.30,175.23 L628.80,175.24 L629.30,175.25 L629.80,175.26 L630.30,175.27 L630.80,175.28 L631.30,175.28 L631.80,175.29 L632.30,175.30 L632.80,175.31 L633.30,175.32 L633.80,175.32 L634.30,175.33 L634.80,175.34 L635.30,175.35 L635.80,175.35 L636.30,175.36 L636.80,175.36 L637.30,175.37 L637.80,175.37 L638.30,175.38 L638.80,175.39 L639.30,175.39 L639.80,175.39 L640.30,175.40 L640.80,175.40 L641.30,175.41 L641.80,175.41 L642.30,175.42 L642.80,175.42 L643.30,175.42 L643.80,175.43 L644.30,175.43 L644.80,175.43 L645.30,175.44 L645.80,175.44 L646.30,175.44 L646.80,175.44 L647.30,175.45 L647.80,175.45 L648.30,175.45 L648.80,175.45 L649.30,175.46 L649.80,175.46 L650.30,175.46 L650.80,175.46 L651.30,175.46 L651.80,175.47 L652.30,175.47 L652.80,175.47 L653.30,175.47 L653.80,175.47 L654.30,175.47 L654.80,175.47 L655.30,175.48 L655.80,175.48 L656.30,175.48 L656.80,175.48 L657.30,175.48 L657.80,175.48 L658.30,175.48 L658.80,175.48 L659.30,175.48 L659.80,175.48 L660.30,175.49 L660.80,175.49 L661.30,175.49 L661.80,175.49 L662.30,175.49 L662.80,175.49 L663.30,175.49 L663.80,175.49 L664.30,175.49 L664.80,175.49 L665.30,175.49 L665.80,175.49 L666.30,175.49 L666.80,175.49 L667.30,175.49 L667.80,175.49 L668.30,175.49 L668.80,175.49 L669.30,175.49 L669.80,175.49 L670.30,175.50 L670.80,175.50 L671.30,175.50 L671.80,175.50 L672.30,175.50 L672.80,175.50 L673.30,175.50 L673.80,175.50 L674.30,175.50 L674.80,175.50 L675.30,175.50 L675.80,175.50 L676.30,175.50 L676.80,175.50 L677.30,175.50 L677.80,175.50 L678.30,175.50 L678.80,175.50 L679.30,175.50 L679.80,175.50 L680.30,175.50 L680.80,175.50" fill="none" stroke="#1a1aee" stroke-width="1.5" stroke-linejoin="round" stroke-linecap="round"/>
<path d="M575.00,175.48 L575.50,175.47 L576.00,175.47 L576.50,175.46 L577.00,175.46 L577.50,175.45 L578.00,175.45 L578.50,175.44 L579.00,175.44 L579.50,175.43 L580.00,175.42 L580.50,175.41 L581.00,175.40 L581.50,175.39 L582.00,175.38 L582.50,175.37 L583.00,175.35 L583.50,175.34 L584.00,175.32 L584.50,175.31 L585.00,175.29 L585.50,175.27 L586.00,175.25 L586.50,175.23 L587.00,175.21 L587.50,175.18 L588.00,175.16 L588.50,175.13 L589.00,175.11 L589.50,175.08 L590.00,175.05 L590.50,175.02 L591.00,174.99 L591.50,174.95 L592.00,174.92 L592.50,174.89 L593.00,174.85 L593.50,174.82 L594.00,174.78 L594.50,174.75 L595.00,174.71 L595.50,174.68 L596.00,174.64 L596.50,174.60 L597.00,174.57 L597.50,174.54 L598.00,174.50 L598.50,174.47 L599.00,174.44 L599.50,174.41 L600.00,174.38 L600.50,174.35 L601.00,174.33 L601.50,174.30 L602.00,174.28 L602.50,174.26 L603.00,174.25 L603.50,174.23 L604.00,174.22 L604.50,174.21 L605.00,174.21 L605.50,174.20 L606.00,174.20 L606.50,174.20 L607.00,174.21 L607.50,174.21 L608.00,174.22 L608.50,174.23 L609.00,174.25 L609.50,174.26 L610.00,174.28 L610.50,174.30 L611.00,174.33 L611.50,174.35 L612.00,174.38 L612.50,174.41 L613.00,174.44 L613.50,174.47 L614.00,174.50 L614.50,174.54 L615.00,174.57 L615.50,174.60 L616.00,174.64 L616.50,174.68 L617.00,174.71 L617.50,174.75 L618.00,174.78 L618.50,174.82 L619.00,174.85 L619.50,174.89 L620.00,174.92 L620.50,174.95 L621.00,174.99 L621.50,175.02 L622.00,175.05 L622.50,175.08 L623.00,175.11 L623.50,175.13 L624.00,175.16 L624.50,175.18 L625.00,175.21 L625.50,175.23 L626.00,175.25 L626.50,175.27 L627.00,175.29 L627.50,175.31 L628.00,175.32 L628.50,175.34 L629.00,175.35 L629.50,175.37 L630.00,175.38 L630.50,175.39 L631.00,175.40 L631.50,175.41 L632.00,175.42 L632.50,175.43 L633.00,175.44 L633.50,175.44 L634.00,175.45 L634.50,175.45 L635.00,175.46 L635.50,175.46 L636.00,175.47 L636.50,175.47 L637.00,175.48 L637.50,175.48 L638.00,175.48 L638.50,175.48 L639.00,175.49 L639.50,175.49 L640.00,175.49" fill="none" stroke="#22e622" stroke-width="1.5" stroke-linejoin="round" stroke-linecap="round"/>
<line x1="483.2" y1="175.5" x2="681.6" y2="175.5" stroke="#14f0f0" stroke-width="1.6"/>
<path d="M483.80,162.93 L484.30,162.25 L484.80,161.54 L485.30,160.80 L485.80,160.02 L486.30,159.21 L486.80,158.36 L487.30,157.48 L487.80,156.57 L488.30,155.62 L488.80,154.65 L489.30,153.66 L489.80,152.63 L490.30,151.59 L490.80,150.53 L491.30,149.46 L491.80,148.37 L492.30,147.28 L492.80,146.18 L493.30,145.08 L493.80,143.99 L494.30,142.91 L494.80,141.84 L495.30,140.79 L495.80,139.76 L496.30,138.76 L496.80,137.79 L497.30,136.86 L497.80,135.97 L498.30,135.12 L498.80,134.32 L499.30,133.57 L499.80,132.87 L500.30,132.23 L500.80,131.65 L501.30,131.13 L501.80,130.68 L502.30,130.28 L502.80,129.95 L503.30,129.68 L503.80,129.48 L504.30,129.34 L504.80,129.27 L505.30,129.25 L505.80,129.29 L506.30,129.39 L506.80,129.55 L507.30,129.75 L507.80,130.01 L508.30,130.31 L508.80,130.66 L509.30,131.04 L509.80,131.46 L510.30,131.91 L510.80,132.40 L511.30,132.91 L511.80,133.44 L512.30,133.99 L512.80,134.57 L513.30,135.15 L513.80,135.75 L514.30,136.37 L514.80,136.98 L515.30,137.61 L515.80,138.24 L516.30,138.88 L516.80,139.52 L517.30,140.16 L517.80,140.80 L518.30,141.44 L518.80,142.08 L519.30,142.72 L519.80,143.36 L520.30,144.00 L520.80,144.63 L521.30,145.27 L521.80,145.90 L522.30,146.53 L522.80,147.16 L523.30,147.78 L523.80,148.40 L524.30,149.02 L524.80,149.63 L525.30,150.24 L525.80,150.84 L526.30,151.43 L526.80,152.02 L527.30,152.60 L527.80,153.17 L528.30,153.73 L528.80,154.28 L529.30,154.82 L529.80,155.35 L530.30,155.86 L530.80,156.36 L531.30,156.84 L531.80,157.31 L532.30,157.77 L532.80,158.21 L533.30,158.63 L533.80,159.03 L534.30,159.42 L534.80,159.79 L535.30,160.14 L535.80,160.47 L536.30,160.79 L536.80,161.09 L537.30,161.37 L537.80,161.64 L538.30,161.89 L538.80,162.13 L539.30,162.35 L539.80,162.56 L540.30,162.76 L540.80,162.95 L541.30,163.12 L541.80,163.28 L542.30,163.44 L542.80,163.58 L543.30,163.72 L543.80,163.85 L544.30,163.98 L544.80,164.09 L545.30,164.21 L545.80,164.32 L546.30,164.42 L546.80,164.53 L547.30,164.63 L547.80,164.72 L548.30,164.82 L548.80,164.91 L549.30,165.01 L549.80,165.10 L550.30,165.20 L550.80,165.29 L551.30,165.39 L551.80,165.48 L552.30,165.58 L552.80,165.67 L553.30,165.77 L553.80,165.87 L554.30,165.97 L554.80,166.07 L555.30,166.17 L555.80,166.27 L556.30,166.37 L556.80,166.48 L557.30,166.58 L557.80,166.69 L558.30,166.80 L558.80,166.90 L559.30,167.01 L559.80,167.12 L560.30,167.23 L560.80,167.34 L561.30,167.45 L561.80,167.56 L562.30,167.67 L562.80,167.78 L563.30,167.88 L563.80,167.99 L564.30,168.10 L564.80,168.21 L565.30,168.32 L565.80,168.42 L566.30,168.53 L566.80,168.64 L567.30,168.74 L567.80,168.84 L568.30,168.95 L568.80,169.05 L569.30,169.15 L569.80,169.25 L570.30,169.34 L570.80,169.44 L571.30,169.54 L571.80,169.63 L572.30,169.72 L572.80,169.81 L573.30,169.90 L573.80,169.99 L574.30,170.08 L574.80,170.17 L575.30,170.25 L575.80,170.33 L576.30,170.42 L576.80,170.50 L577.30,170.58 L577.80,170.65 L578.30,170.73 L578.80,170.80 L579.30,170.88 L579.80,170.95 L580.30,171.02 L580.80,171.09 L581.30,171.16 L581.80,171.22 L582.30,171.29 L582.80,171.35 L583.30,171.42 L583.80,171.48 L584.30,171.54 L584.80,171.60 L585.30,171.66 L585.80,171.72 L586.30,171.77 L586.80,171.83 L587.30,171.89 L587.80,171.94 L588.30,171.99 L588.80,172.05 L589.30,172.10 L589.80,172.15 L590.30,172.20 L590.80,172.25 L591.30,172.29 L591.80,172.34 L592.30,172.39 L592.80,172.43 L593.30,172.48 L593.80,172.52 L594.30,172.57 L594.80,172.61 L595.30,172.65 L595.80,172.70 L596.30,172.74 L596.80,172.78 L597.30,172.82 L597.80,172.86 L598.30,172.90 L598.80,172.94 L599.30,172.98 L599.80,173.02 L600.30,173.05 L600.80,173.09 L601.30,173.13 L601.80,173.16 L602.30,173.20 L602.80,173.24 L603.30,173.27 L603.80,173.31 L604.30,173.34 L604.80,173.37 L605.30,173.41 L605.80,173.44 L606.30,173.47 L606.80,173.50 L607.30,173.54 L607.80,173.57 L608.30,173.60 L608.80,173.63 L609.30,173.66 L609.80,173.69 L610.30,173.72 L610.80,173.75 L611.30,173.78 L611.80,173.81 L612.30,173.84 L612.80,173.86 L613.30,173.89 L613.80,173.92 L614.30,173.95 L614.80,173.97 L615.30,174.00 L615.80,174.03 L616.30,174.05 L616.80,174.08 L617.30,174.10 L617.80,174.13 L618.30,174.15 L618.80,174.18 L619.30,174.20 L619.80,174.22 L620.30,174.25 L620.80,174.27 L621.30,174.29 L621.80,174.32 L622.30,174.34 L622.80,174.36 L623.30,174.38 L623.80,174.40 L624.30,174.42 L624.80,174.44 L625.30,174.46 L625.80,174.48 L626.30,174.50 L626.80,174.52 L627.30,174.54 L627.80,174.56 L628.30,174.58 L628.80,174.60 L629.30,174.62 L629.80,174.63 L630.30,174.65 L630.80,174.67 L631.30,174.68 L631.80,174.70 L632.30,174.72 L632.80,174.73 L633.30,174.75 L633.80,174.76 L634.30,174.78 L634.80,174.80 L635.30,174.81 L635.80,174.82 L636.30,174.84 L636.80,174.85 L637.30,174.87 L637.80,174.88 L638.30,174.89 L638.80,174.91 L639.30,174.92 L639.80,174.93 L640.30,174.95 L640.80,174.96 L641.30,174.97 L641.80,174.98 L642.30,174.99 L642.80,175.00 L643.30,175.02 L643.80,175.03 L644.30,175.04 L644.80,175.05 L645.30,175.06 L645.80,175.07 L646.30,175.08 L646.80,175.09 L647.30,175.10 L647.80,175.11 L648.30,175.12 L648.80,175.13 L649.30,175.13 L649.80,175.14 L650.30,175.15 L650.80,175.16 L651.30,175.17 L651.80,175.18 L652.30,175.18 L652.80,175.19 L653.30,175.20 L653.80,175.21 L654.30,175.21 L654.80,175.22 L655.30,175.23 L655.80,175.23 L656.30,175.24 L656.80,175.25 L657.30,175.25 L657.80,175.26 L658.30,175.27 L658.80,175.27 L659.30,175.28 L659.80,175.28 L660.30,175.29 L660.80,175.30 L661.30,175.30 L661.80,175.31 L662.30,175.31 L662.80,175.32 L663.30,175.32 L663.80,175.33 L664.30,175.33 L664.80,175.33 L665.30,175.34 L665.80,175.34 L666.30,175.35 L666.80,175.35 L667.30,175.36 L667.80,175.36 L668.30,175.36 L668.80,175.37 L669.30,175.37 L669.80,175.37 L670.30,175.38 L670.80,175.38 L671.30,175.38 L671.80,175.39 L672.30,175.39 L672.80,175.39 L673.30,175.40 L673.80,175.40 L674.30,175.40 L674.80,175.41 L675.30,175.41 L675.80,175.41 L676.30,175.41 L676.80,175.42 L677.30,175.42 L677.80,175.42 L678.30,175.42 L678.80,175.43 L679.30,175.43 L679.80,175.43 L680.30,175.43 L680.80,175.43" fill="none" stroke="#9a1650" stroke-width="1.7" stroke-linejoin="round" stroke-linecap="round"/>
<path d="M483.80,228.25 L484.30,227.58 L484.80,226.87 L485.30,226.13 L485.80,225.34 L486.30,224.53 L486.80,223.67 L487.30,222.79 L487.80,221.87 L488.30,220.93 L488.80,219.96 L489.30,218.96 L489.80,217.95 L490.30,216.93 L490.80,215.89 L491.30,214.85 L491.80,213.81 L492.30,212.77 L492.80,211.74 L493.30,210.73 L493.80,209.74 L494.30,208.78 L494.80,207.84 L495.30,206.95 L495.80,206.10 L496.30,205.30 L496.80,204.56 L497.30,203.87 L497.80,203.25 L498.30,202.70 L498.80,202.22 L499.30,201.81 L499.80,201.49 L500.30,201.24 L500.80,201.08 L501.30,201.01 L501.80,201.01 L502.30,201.11 L502.80,201.28 L503.30,201.54 L503.80,201.89 L504.30,202.30 L504.80,202.80 L505.30,203.36 L505.80,204.00 L506.30,204.70 L506.80,205.45 L507.30,206.26 L507.80,207.12 L508.30,208.02 L508.80,208.96 L509.30,209.93 L509.80,210.93 L510.30,211.94 L510.80,212.97 L511.30,214.01 L511.80,215.06 L512.30,216.10 L512.80,217.13 L513.30,218.15 L513.80,219.16 L514.30,220.15 L514.80,221.11 L515.30,222.05 L515.80,222.96 L516.30,223.84 L516.80,224.69 L517.30,225.50 L517.80,226.28 L518.30,227.01 L518.80,227.71 L519.30,228.38 L519.80,229.00 L520.30,229.59 L520.80,230.14 L521.30,230.66 L521.80,231.14 L522.30,231.58 L522.80,231.99 L523.30,232.37 L523.80,232.72 L524.30,233.04 L524.80,233.34 L525.30,233.60 L525.80,233.85 L526.30,234.07 L526.80,234.27 L527.30,234.45 L527.80,234.61 L528.30,234.75 L528.80,234.88 L529.30,235.00 L529.80,235.10 L530.30,235.19 L530.80,235.27 L531.30,235.34 L531.80,235.40 L532.30,235.46 L532.80,235.51 L533.30,235.55 L533.80,235.59 L534.30,235.62 L534.80,235.64 L535.30,235.67 L535.80,235.69 L536.30,235.71 L536.80,235.72 L537.30,235.73 L537.80,235.74 L538.30,235.75 L538.80,235.76 L539.30,235.77 L539.80,235.77 L540.30,235.78 L540.80,235.78 L541.30,235.78 L541.80,235.79 L542.30,235.79 L542.80,235.79 L543.30,235.79 L543.80,235.79 L544.30,235.80 L544.80,235.80 L545.30,235.80 L545.80,235.80 L546.30,235.80 L546.80,235.80 L547.30,235.80 L547.80,235.80 L548.30,235.80 L548.80,235.80 L549.30,235.80 L549.80,235.80 L550.30,235.80 L550.80,235.80 L551.30,235.80 L551.80,235.80 L552.30,235.80 L552.80,235.80 L553.30,235.80 L553.80,235.80 L554.30,235.80 L554.80,235.80 L555.30,235.80 L555.80,235.80 L556.30,235.80 L556.80,235.80 L557.30,235.80 L557.80,235.80 L558.30,235.80 L558.80,235.80 L559.30,235.80 L559.80,235.80 L560.30,235.80 L560.80,235.80 L561.30,235.80 L561.80,235.80 L562.30,235.80 L562.80,235.80 L563.30,235.80 L563.80,235.80 L564.30,235.80 L564.80,235.80 L565.30,235.80 L565.80,235.80 L566.30,235.80 L566.80,235.80 L567.30,235.80 L567.80,235.80 L568.30,235.80 L568.80,235.80 L569.30,235.80 L569.80,235.80 L570.30,235.80 L570.80,235.80 L571.30,235.80 L571.80,235.80 L572.30,235.80 L572.80,235.80 L573.30,235.80 L573.80,235.80 L574.30,235.80 L574.80,235.80 L575.30,235.80 L575.80,235.80 L576.30,235.80 L576.80,235.80 L577.30,235.80 L577.80,235.80 L578.30,235.80 L578.80,235.80 L579.30,235.80 L579.80,235.80 L580.30,235.80 L580.80,235.80 L581.30,235.80 L581.80,235.80 L582.30,235.80 L582.80,235.80 L583.30,235.80 L583.80,235.80 L584.30,235.80 L584.80,235.80 L585.30,235.80 L585.80,235.80 L586.30,235.80 L586.80,235.80 L587.30,235.80 L587.80,235.80 L588.30,235.80 L588.80,235.80 L589.30,235.80 L589.80,235.80 L590.30,235.80 L590.80,235.80 L591.30,235.80 L591.80,235.80 L592.30,235.80 L592.80,235.80 L593.30,235.80 L593.80,235.80 L594.30,235.80 L594.80,235.80 L595.30,235.80 L595.80,235.80 L596.30,235.80 L596.80,235.80 L597.30,235.80 L597.80,235.80 L598.30,235.80 L598.80,235.80 L599.30,235.80 L599.80,235.80 L600.30,235.80 L600.80,235.80 L601.30,235.80 L601.80,235.80 L602.30,235.80 L602.80,235.80 L603.30,235.80 L603.80,235.80 L604.30,235.80 L604.80,235.80 L605.30,235.80 L605.80,235.80 L606.30,235.80 L606.80,235.80 L607.30,235.80 L607.80,235.80 L608.30,235.80 L608.80,235.80 L609.30,235.80 L609.80,235.80 L610.30,235.80 L610.80,235.80 L611.30,235.80 L611.80,235.80 L612.30,235.80 L612.80,235.80 L613.30,235.80 L613.80,235.80 L614.30,235.80 L614.80,235.80 L615.30,235.80 L615.80,235.80 L616.30,235.80 L616.80,235.80 L617.30,235.80 L617.80,235.80 L618.30,235.80 L618.80,235.80 L619.30,235.80 L619.80,235.80 L620.30,235.80 L620.80,235.80 L621.30,235.80 L621.80,235.80 L622.30,235.80 L622.80,235.80 L623.30,235.80 L623.80,235.80 L624.30,235.80 L624.80,235.80 L625.30,235.80 L625.80,235.80 L626.30,235.80 L626.80,235.80 L627.30,235.80 L627.80,235.80 L628.30,235.80 L628.80,235.80 L629.30,235.80 L629.80,235.80 L630.30,235.80 L630.80,235.80 L631.30,235.80 L631.80,235.80 L632.30,235.80 L632.80,235.80 L633.30,235.80 L633.80,235.80 L634.30,235.80 L634.80,235.80 L635.30,235.80 L635.80,235.80 L636.30,235.80 L636.80,235.80 L637.30,235.80 L637.80,235.80 L638.30,235.80 L638.80,235.80 L639.30,235.80 L639.80,235.80 L640.30,235.80 L640.80,235.80 L641.30,235.80 L641.80,235.80 L642.30,235.80 L642.80,235.80 L643.30,235.80 L643.80,235.80 L644.30,235.80 L644.80,235.80 L645.30,235.80 L645.80,235.80 L646.30,235.80 L646.80,235.80 L647.30,235.80 L647.80,235.80 L648.30,235.80 L648.80,235.80 L649.30,235.80 L649.80,235.80 L650.30,235.80 L650.80,235.80 L651.30,235.80 L651.80,235.80 L652.30,235.80 L652.80,235.80 L653.30,235.80 L653.80,235.80 L654.30,235.80 L654.80,235.80 L655.30,235.80 L655.80,235.80 L656.30,235.80 L656.80,235.80 L657.30,235.80 L657.80,235.80 L658.30,235.80 L658.80,235.80 L659.30,235.80 L659.80,235.80 L660.30,235.80 L660.80,235.80 L661.30,235.80 L661.80,235.80 L662.30,235.80 L662.80,235.80 L663.30,235.80 L663.80,235.80 L664.30,235.80 L664.80,235.80 L665.30,235.80 L665.80,235.80 L666.30,235.80 L666.80,235.80 L667.30,235.80 L667.80,235.80 L668.30,235.80 L668.80,235.80 L669.30,235.80 L669.80,235.80 L670.30,235.80 L670.80,235.80 L671.30,235.80 L671.80,235.80 L672.30,235.80 L672.80,235.80 L673.30,235.80 L673.80,235.80 L674.30,235.80 L674.80,235.80 L675.30,235.80 L675.80,235.80 L676.30,235.80 L676.80,235.80 L677.30,235.80 L677.80,235.80 L678.30,235.80 L678.80,235.80 L679.30,235.80 L679.80,235.80 L680.30,235.80 L680.80,235.80" fill="none" stroke="#ff1a1a" stroke-width="1.5" stroke-linejoin="round" stroke-linecap="round"/>
<path d="M483.80,235.74 L484.30,235.73 L484.80,235.72 L485.30,235.70 L485.80,235.69 L486.30,235.67 L486.80,235.65 L487.30,235.63 L487.80,235.60 L488.30,235.57 L488.80,235.54 L489.30,235.51 L489.80,235.46 L490.30,235.42 L490.80,235.37 L491.30,235.31 L491.80,235.25 L492.30,235.19 L492.80,235.11 L493.30,235.03 L493.80,234.94 L494.30,234.84 L494.80,234.74 L495.30,234.62 L495.80,234.49 L496.30,234.36 L496.80,234.21 L497.30,234.05 L497.80,233.88 L498.30,233.70 L498.80,233.51 L499.30,233.30 L499.80,233.08 L500.30,232.85 L500.80,232.61 L501.30,232.36 L501.80,232.09 L502.30,231.81 L502.80,231.51 L503.30,231.21 L503.80,230.90 L504.30,230.57 L504.80,230.24 L505.30,229.90 L505.80,229.55 L506.30,229.20 L506.80,228.84 L507.30,228.48 L507.80,228.11 L508.30,227.75 L508.80,227.38 L509.30,227.02 L509.80,226.66 L510.30,226.32 L510.80,225.97 L511.30,225.64 L511.80,225.32 L512.30,225.02 L512.80,224.73 L513.30,224.45 L513.80,224.20 L514.30,223.96 L514.80,223.75 L515.30,223.56 L515.80,223.40 L516.30,223.26 L516.80,223.14 L517.30,223.05 L517.80,223.00 L518.30,222.96 L518.80,222.96 L519.30,222.99 L519.80,223.04 L520.30,223.12 L520.80,223.23 L521.30,223.36 L521.80,223.52 L522.30,223.71 L522.80,223.92 L523.30,224.15 L523.80,224.40 L524.30,224.67 L524.80,224.96 L525.30,225.26 L525.80,225.58 L526.30,225.90 L526.80,226.24 L527.30,226.59 L527.80,226.95 L528.30,227.31 L528.80,227.67 L529.30,228.04 L529.80,228.40 L530.30,228.76 L530.80,229.12 L531.30,229.48 L531.80,229.83 L532.30,230.17 L532.80,230.51 L533.30,230.83 L533.80,231.15 L534.30,231.45 L534.80,231.75 L535.30,232.03 L535.80,232.30 L536.30,232.56 L536.80,232.81 L537.30,233.04 L537.80,233.26 L538.30,233.47 L538.80,233.66 L539.30,233.85 L539.80,234.02 L540.30,234.18 L540.80,234.33 L541.30,234.47 L541.80,234.59 L542.30,234.71 L542.80,234.82 L543.30,234.92 L543.80,235.01 L544.30,235.10 L544.80,235.17 L545.30,235.24 L545.80,235.30 L546.30,235.36 L546.80,235.41 L547.30,235.46 L547.80,235.50 L548.30,235.53 L548.80,235.57 L549.30,235.60 L549.80,235.62 L550.30,235.64 L550.80,235.67 L551.30,235.68 L551.80,235.70 L552.30,235.71 L552.80,235.72 L553.30,235.74 L553.80,235.74 L554.30,235.75 L554.80,235.76 L555.30,235.77 L555.80,235.77 L556.30,235.78 L556.80,235.78 L557.30,235.78 L557.80,235.79 L558.30,235.79 L558.80,235.79 L559.30,235.79 L559.80,235.79 L560.30,235.79 L560.80,235.79 L561.30,235.80 L561.80,235.80 L562.30,235.80 L562.80,235.80 L563.30,235.80 L563.80,235.80 L564.30,235.80 L564.80,235.80 L565.30,235.80 L565.80,235.80 L566.30,235.80 L566.80,235.80 L567.30,235.80 L567.80,235.80 L568.30,235.80 L568.80,235.80 L569.30,235.80 L569.80,235.80 L570.30,235.80 L570.80,235.80 L571.30,235.80 L571.80,235.80 L572.30,235.80 L572.80,235.80 L573.30,235.80 L573.80,235.80 L574.30,235.80 L574.80,235.80 L575.30,235.80 L575.80,235.80 L576.30,235.80 L576.80,235.80 L577.30,235.80 L577.80,235.80 L578.30,235.80 L578.80,235.80 L579.30,235.80 L579.80,235.80 L580.30,235.80 L580.80,235.80 L581.30,235.80 L581.80,235.80 L582.30,235.80 L582.80,235.80 L583.30,235.80 L583.80,235.80 L584.30,235.80 L584.80,235.80 L585.30,235.80 L585.80,235.80 L586.30,235.80 L586.80,235.80 L587.30,235.80 L587.80,235.80 L588.30,235.80 L588.80,235.80 L589.30,235.80 L589.80,235.80 L590.30,235.80 L590.80,235.80 L591.30,235.80 L591.80,235.80 L592.30,235.80 L592.80,235.80 L593.30,235.80 L593.80,235.80 L594.30,235.80 L594.80,235.80 L595.30,235.80 L595.80,235.80 L596.30,235.80 L596.80,235.80 L597.30,235.80 L597.80,235.80 L598.30,235.80 L598.80,235.80 L599.30,235.80 L599.80,235.80 L600.30,235.80 L600.80,235.80 L601.30,235.80 L601.80,235.80 L602.30,235.80 L602.80,235.80 L603.30,235.80 L603.80,235.80 L604.30,235.80 L604.80,235.80 L605.30,235.80 L605.80,235.80 L606.30,235.80 L606.80,235.80 L607.30,235.80 L607.80,235.80 L608.30,235.80 L608.80,235.80 L609.30,235.80 L609.80,235.80 L610.30,235.80 L610.80,235.80 L611.30,235.80 L611.80,235.80 L612.30,235.80 L612.80,235.80 L613.30,235.80 L613.80,235.80 L614.30,235.80 L614.80,235.80 L615.30,235.80 L615.80,235.80 L616.30,235.80 L616.80,235.80 L617.30,235.80 L617.80,235.80 L618.30,235.80 L618.80,235.80 L619.30,235.80 L619.80,235.80 L620.30,235.80 L620.80,235.80 L621.30,235.80 L621.80,235.80 L622.30,235.80 L622.80,235.80 L623.30,235.80 L623.80,235.80 L624.30,235.80 L624.80,235.80 L625.30,235.80 L625.80,235.80 L626.30,235.80 L626.80,235.80 L627.30,235.80 L627.80,235.80 L628.30,235.80 L628.80,235.80 L629.30,235.80 L629.80,235.80 L630.30,235.80 L630.80,235.80 L631.30,235.80 L631.80,235.80 L632.30,235.80 L632.80,235.80 L633.30,235.80 L633.80,235.80 L634.30,235.80 L634.80,235.80 L635.30,235.80 L635.80,235.80 L636.30,235.80 L636.80,235.80 L637.30,235.80 L637.80,235.80 L638.30,235.80 L638.80,235.80 L639.30,235.80 L639.80,235.80 L640.30,235.80 L640.80,235.80 L641.30,235.80 L641.80,235.80 L642.30,235.80 L642.80,235.80 L643.30,235.80 L643.80,235.80 L644.30,235.80 L644.80,235.80 L645.30,235.80 L645.80,235.80 L646.30,235.80 L646.80,235.80 L647.30,235.80 L647.80,235.80 L648.30,235.80 L648.80,235.80 L649.30,235.80 L649.80,235.80 L650.30,235.80 L650.80,235.80 L651.30,235.80 L651.80,235.80 L652.30,235.80 L652.80,235.80 L653.30,235.80 L653.80,235.80 L654.30,235.80 L654.80,235.80 L655.30,235.80 L655.80,235.80 L656.30,235.80 L656.80,235.80 L657.30,235.80 L657.80,235.80 L658.30,235.80 L658.80,235.80 L659.30,235.80 L659.80,235.80 L660.30,235.80 L660.80,235.80 L661.30,235.80 L661.80,235.80 L662.30,235.80 L662.80,235.80 L663.30,235.80 L663.80,235.80 L664.30,235.80 L664.80,235.80 L665.30,235.80 L665.80,235.80 L666.30,235.80 L666.80,235.80 L667.30,235.80 L667.80,235.80 L668.30,235.80 L668.80,235.80 L669.30,235.80 L669.80,235.80 L670.30,235.80 L670.80,235.80 L671.30,235.80 L671.80,235.80 L672.30,235.80 L672.80,235.80 L673.30,235.80 L673.80,235.80 L674.30,235.80 L674.80,235.80 L675.30,235.80 L675.80,235.80 L676.30,235.80 L676.80,235.80 L677.30,235.80 L677.80,235.80 L678.30,235.80 L678.80,235.80 L679.30,235.80 L679.80,235.80 L680.30,235.80 L680.80,235.80" fill="none" stroke="#22e622" stroke-width="1.5" stroke-linejoin="round" stroke-linecap="round"/>
<path d="M483.80,231.80 L484.30,231.72 L484.80,231.64 L485.30,231.56 L485.80,231.48 L486.30,231.40 L486.80,231.32 L487.30,231.24 L487.80,231.16 L488.30,231.08 L488.80,230.99 L489.30,230.91 L489.80,230.83 L490.30,230.74 L490.80,230.65 L491.30,230.57 L491.80,230.48 L492.30,230.40 L492.80,230.31 L493.30,230.22 L493.80,230.13 L494.30,230.05 L494.80,229.96 L495.30,229.87 L495.80,229.78 L496.30,229.69 L496.80,229.60 L497.30,229.51 L497.80,229.42 L498.30,229.33 L498.80,229.24 L499.30,229.15 L499.80,229.07 L500.30,228.98 L500.80,228.89 L501.30,228.80 L501.80,228.71 L502.30,228.62 L502.80,228.53 L503.30,228.44 L503.80,228.36 L504.30,228.27 L504.80,228.18 L505.30,228.10 L505.80,228.01 L506.30,227.92 L506.80,227.84 L507.30,227.75 L507.80,227.67 L508.30,227.59 L508.80,227.51 L509.30,227.42 L509.80,227.34 L510.30,227.26 L510.80,227.18 L511.30,227.11 L511.80,227.03 L512.30,226.95 L512.80,226.88 L513.30,226.80 L513.80,226.73 L514.30,226.66 L514.80,226.59 L515.30,226.52 L515.80,226.45 L516.30,226.38 L516.80,226.32 L517.30,226.25 L517.80,226.19 L518.30,226.13 L518.80,226.07 L519.30,226.01 L519.80,225.95 L520.30,225.90 L520.80,225.84 L521.30,225.79 L521.80,225.74 L522.30,225.69 L522.80,225.64 L523.30,225.59 L523.80,225.55 L524.30,225.51 L524.80,225.47 L525.30,225.43 L525.80,225.39 L526.30,225.36 L526.80,225.32 L527.30,225.29 L527.80,225.26 L528.30,225.23 L528.80,225.21 L529.30,225.18 L529.80,225.16 L530.30,225.14 L530.80,225.12 L531.30,225.11 L531.80,225.09 L532.30,225.08 L532.80,225.07 L533.30,225.06 L533.80,225.06 L534.30,225.05 L534.80,225.05 L535.30,225.05 L535.80,225.05 L536.30,225.06 L536.80,225.06 L537.30,225.07 L537.80,225.08 L538.30,225.09 L538.80,225.11 L539.30,225.12 L539.80,225.14 L540.30,225.16 L540.80,225.18 L541.30,225.21 L541.80,225.23 L542.30,225.26 L542.80,225.29 L543.30,225.32 L543.80,225.36 L544.30,225.39 L544.80,225.43 L545.30,225.47 L545.80,225.51 L546.30,225.55 L546.80,225.59 L547.30,225.64 L547.80,225.69 L548.30,225.74 L548.80,225.79 L549.30,225.84 L549.80,225.90 L550.30,225.95 L550.80,226.01 L551.30,226.07 L551.80,226.13 L552.30,226.19 L552.80,226.25 L553.30,226.32 L553.80,226.38 L554.30,226.45 L554.80,226.52 L555.30,226.59 L555.80,226.66 L556.30,226.73 L556.80,226.80 L557.30,226.88 L557.80,226.95 L558.30,227.03 L558.80,227.11 L559.30,227.18 L559.80,227.26 L560.30,227.34 L560.80,227.42 L561.30,227.51 L561.80,227.59 L562.30,227.67 L562.80,227.76 L563.30,227.84 L563.80,227.92 L564.30,228.01 L564.80,228.10 L565.30,228.18 L565.80,228.27 L566.30,228.36 L566.80,228.44 L567.30,228.53 L567.80,228.62 L568.30,228.71 L568.80,228.80 L569.30,228.89 L569.80,228.98 L570.30,229.07 L570.80,229.15 L571.30,229.24 L571.80,229.33 L572.30,229.42 L572.80,229.51 L573.30,229.60 L573.80,229.69 L574.30,229.78 L574.80,229.87 L575.30,229.96 L575.80,230.05 L576.30,230.13 L576.80,230.22 L577.30,230.31 L577.80,230.40 L578.30,230.48 L578.80,230.57 L579.30,230.66 L579.80,230.74 L580.30,230.83 L580.80,230.91 L581.30,230.99 L581.80,231.08 L582.30,231.16 L582.80,231.24 L583.30,231.32 L583.80,231.40 L584.30,231.49 L584.80,231.56 L585.30,231.64 L585.80,231.72 L586.30,231.80 L586.80,231.88 L587.30,231.95 L587.80,232.03 L588.30,232.10 L588.80,232.18 L589.30,232.25 L589.80,232.32 L590.30,232.39 L590.80,232.46 L591.30,232.53 L591.80,232.60 L592.30,232.67 L592.80,232.74 L593.30,232.80 L593.80,232.87 L594.30,232.93 L594.80,233.00 L595.30,233.06 L595.80,233.12 L596.30,233.18 L596.80,233.24 L597.30,233.30 L597.80,233.36 L598.30,233.41 L598.80,233.47 L599.30,233.53 L599.80,233.58 L600.30,233.63 L600.80,233.69 L601.30,233.74 L601.80,233.79 L602.30,233.84 L602.80,233.89 L603.30,233.94 L603.80,233.98 L604.30,234.03 L604.80,234.08 L605.30,234.12 L605.80,234.17 L606.30,234.21 L606.80,234.25 L607.30,234.29 L607.80,234.33 L608.30,234.37 L608.80,234.41 L609.30,234.45 L609.80,234.49 L610.30,234.52 L610.80,234.56 L611.30,234.59 L611.80,234.63 L612.30,234.66 L612.80,234.69 L613.30,234.73 L613.80,234.76 L614.30,234.79 L614.80,234.82 L615.30,234.85 L615.80,234.88 L616.30,234.90 L616.80,234.93 L617.30,234.96 L617.80,234.98 L618.30,235.01 L618.80,235.03 L619.30,235.06 L619.80,235.08 L620.30,235.10 L620.80,235.12 L621.30,235.15 L621.80,235.17 L622.30,235.19 L622.80,235.21 L623.30,235.23 L623.80,235.25 L624.30,235.26 L624.80,235.28 L625.30,235.30 L625.80,235.32 L626.30,235.33 L626.80,235.35 L627.30,235.36 L627.80,235.38 L628.30,235.39 L628.80,235.41 L629.30,235.42 L629.80,235.43 L630.30,235.45 L630.80,235.46 L631.30,235.47 L631.80,235.48 L632.30,235.49 L632.80,235.51 L633.30,235.52 L633.80,235.53 L634.30,235.54 L634.80,235.55 L635.30,235.56 L635.80,235.56 L636.30,235.57 L636.80,235.58 L637.30,235.59 L637.80,235.60 L638.30,235.61 L638.80,235.61 L639.30,235.62 L639.80,235.63 L640.30,235.63 L640.80,235.64 L641.30,235.65 L641.80,235.65 L642.30,235.66 L642.80,235.66 L643.30,235.67 L643.80,235.67 L644.30,235.68 L644.80,235.68 L645.30,235.69 L645.80,235.69 L646.30,235.70 L646.80,235.70 L647.30,235.71 L647.80,235.71 L648.30,235.71 L648.80,235.72 L649.30,235.72 L649.80,235.72 L650.30,235.73 L650.80,235.73 L651.30,235.73 L651.80,235.74 L652.30,235.74 L652.80,235.74 L653.30,235.74 L653.80,235.75 L654.30,235.75 L654.80,235.75 L655.30,235.75 L655.80,235.76 L656.30,235.76 L656.80,235.76 L657.30,235.76 L657.80,235.76 L658.30,235.76 L658.80,235.77 L659.30,235.77 L659.80,235.77 L660.30,235.77 L660.80,235.77 L661.30,235.77 L661.80,235.77 L662.30,235.78 L662.80,235.78 L663.30,235.78 L663.80,235.78 L664.30,235.78 L664.80,235.78 L665.30,235.78 L665.80,235.78 L666.30,235.78 L666.80,235.78 L667.30,235.79 L667.80,235.79 L668.30,235.79 L668.80,235.79 L669.30,235.79 L669.80,235.79 L670.30,235.79 L670.80,235.79 L671.30,235.79 L671.80,235.79 L672.30,235.79 L672.80,235.79 L673.30,235.79 L673.80,235.79 L674.30,235.79 L674.80,235.79 L675.30,235.79 L675.80,235.79 L676.30,235.79 L676.80,235.79 L677.30,235.79 L677.80,235.79 L678.30,235.80 L678.80,235.80 L679.30,235.80 L679.80,235.80 L680.30,235.80 L680.80,235.80" fill="none" stroke="#1a1aee" stroke-width="1.5" stroke-linejoin="round" stroke-linecap="round"/>
<path d="M575.00,235.78 L575.50,235.77 L576.00,235.77 L576.50,235.76 L577.00,235.76 L577.50,235.75 L578.00,235.75 L578.50,235.74 L579.00,235.74 L579.50,235.73 L580.00,235.72 L580.50,235.71 L581.00,235.70 L581.50,235.69 L582.00,235.68 L582.50,235.67 L583.00,235.65 L583.50,235.64 L584.00,235.62 L584.50,235.61 L585.00,235.59 L585.50,235.57 L586.00,235.55 L586.50,235.53 L587.00,235.51 L587.50,235.48 L588.00,235.46 L588.50,235.43 L589.00,235.41 L589.50,235.38 L590.00,235.35 L590.50,235.32 L591.00,235.29 L591.50,235.25 L592.00,235.22 L592.50,235.19 L593.00,235.15 L593.50,235.12 L594.00,235.08 L594.50,235.05 L595.00,235.01 L595.50,234.98 L596.00,234.94 L596.50,234.90 L597.00,234.87 L597.50,234.84 L598.00,234.80 L598.50,234.77 L599.00,234.74 L599.50,234.71 L600.00,234.68 L600.50,234.65 L601.00,234.63 L601.50,234.60 L602.00,234.58 L602.50,234.56 L603.00,234.55 L603.50,234.53 L604.00,234.52 L604.50,234.51 L605.00,234.51 L605.50,234.50 L606.00,234.50 L606.50,234.50 L607.00,234.51 L607.50,234.51 L608.00,234.52 L608.50,234.53 L609.00,234.55 L609.50,234.56 L610.00,234.58 L610.50,234.60 L611.00,234.63 L611.50,234.65 L612.00,234.68 L612.50,234.71 L613.00,234.74 L613.50,234.77 L614.00,234.80 L614.50,234.84 L615.00,234.87 L615.50,234.90 L616.00,234.94 L616.50,234.98 L617.00,235.01 L617.50,235.05 L618.00,235.08 L618.50,235.12 L619.00,235.15 L619.50,235.19 L620.00,235.22 L620.50,235.25 L621.00,235.29 L621.50,235.32 L622.00,235.35 L622.50,235.38 L623.00,235.41 L623.50,235.43 L624.00,235.46 L624.50,235.48 L625.00,235.51 L625.50,235.53 L626.00,235.55 L626.50,235.57 L627.00,235.59 L627.50,235.61 L628.00,235.62 L628.50,235.64 L629.00,235.65 L629.50,235.67 L630.00,235.68 L630.50,235.69 L631.00,235.70 L631.50,235.71 L632.00,235.72 L632.50,235.73 L633.00,235.74 L633.50,235.74 L634.00,235.75 L634.50,235.75 L635.00,235.76 L635.50,235.76 L636.00,235.77 L636.50,235.77 L637.00,235.78 L637.50,235.78 L638.00,235.78 L638.50,235.78 L639.00,235.79 L639.50,235.79 L640.00,235.79" fill="none" stroke="#22e622" stroke-width="1.5" stroke-linejoin="round" stroke-linecap="round"/>
<line x1="483.2" y1="235.8" x2="681.6" y2="235.8" stroke="#14f0f0" stroke-width="1.6"/>
<path d="M483.80,224.37 L484.30,223.60 L484.80,222.79 L485.30,221.94 L485.80,221.05 L486.30,220.13 L486.80,219.17 L487.30,218.17 L487.80,217.15 L488.30,216.09 L488.80,215.01 L489.30,213.91 L489.80,212.78 L490.30,211.63 L490.80,210.48 L491.30,209.31 L491.80,208.14 L492.30,206.97 L492.80,205.80 L493.30,204.64 L493.80,203.50 L494.30,202.38 L494.80,201.28 L495.30,200.20 L495.80,199.17 L496.30,198.17 L496.80,197.21 L497.30,196.30 L497.80,195.45 L498.30,194.64 L498.80,193.90 L499.30,193.22 L499.80,192.60 L500.30,192.04 L500.80,191.55 L501.30,191.13 L501.80,190.78 L502.30,190.49 L502.80,190.27 L503.30,190.12 L503.80,190.04 L504.30,190.01 L504.80,190.06 L505.30,190.15 L505.80,190.31 L506.30,190.52 L506.80,190.78 L507.30,191.09 L507.80,191.44 L508.30,191.83 L508.80,192.26 L509.30,192.72 L509.80,193.21 L510.30,193.73 L510.80,194.26 L511.30,194.82 L511.80,195.40 L512.30,195.99 L512.80,196.60 L513.30,197.21 L513.80,197.83 L514.30,198.46 L514.80,199.09 L515.30,199.73 L515.80,200.36 L516.30,201.00 L516.80,201.64 L517.30,202.28 L517.80,202.92 L518.30,203.56 L518.80,204.20 L519.30,204.83 L519.80,205.47 L520.30,206.10 L520.80,206.73 L521.30,207.36 L521.80,207.98 L522.30,208.60 L522.80,209.22 L523.30,209.83 L523.80,210.44 L524.30,211.05 L524.80,211.64 L525.30,212.23 L525.80,212.82 L526.30,213.39 L526.80,213.96 L527.30,214.52 L527.80,215.06 L528.30,215.59 L528.80,216.11 L529.30,216.62 L529.80,217.11 L530.30,217.59 L530.80,218.05 L531.30,218.50 L531.80,218.93 L532.30,219.34 L532.80,219.74 L533.30,220.12 L533.80,220.48 L534.30,220.82 L534.80,221.15 L535.30,221.46 L535.80,221.75 L536.30,222.02 L536.80,222.29 L537.30,222.53 L537.80,222.76 L538.30,222.98 L538.80,223.18 L539.30,223.37 L539.80,223.55 L540.30,223.71 L540.80,223.87 L541.30,224.02 L541.80,224.15 L542.30,224.28 L542.80,224.41 L543.30,224.52 L543.80,224.63 L544.30,224.73 L544.80,224.83 L545.30,224.93 L545.80,225.02 L546.30,225.11 L546.80,225.19 L547.30,225.27 L547.80,225.36 L548.30,225.44 L548.80,225.51 L549.30,225.59 L549.80,225.67 L550.30,225.75 L550.80,225.82 L551.30,225.90 L551.80,225.98 L552.30,226.05 L552.80,226.13 L553.30,226.21 L553.80,226.29 L554.30,226.37 L554.80,226.45 L555.30,226.53 L555.80,226.61 L556.30,226.69 L556.80,226.78 L557.30,226.86 L557.80,226.95 L558.30,227.03 L558.80,227.12 L559.30,227.20 L559.80,227.29 L560.30,227.38 L560.80,227.47 L561.30,227.56 L561.80,227.65 L562.30,227.74 L562.80,227.83 L563.30,227.92 L563.80,228.01 L564.30,228.10 L564.80,228.19 L565.30,228.28 L565.80,228.37 L566.30,228.46 L566.80,228.55 L567.30,228.64 L567.80,228.73 L568.30,228.82 L568.80,228.91 L569.30,229.00 L569.80,229.09 L570.30,229.18 L570.80,229.27 L571.30,229.36 L571.80,229.45 L572.30,229.54 L572.80,229.62 L573.30,229.71 L573.80,229.80 L574.30,229.88 L574.80,229.97 L575.30,230.05 L575.80,230.13 L576.30,230.22 L576.80,230.30 L577.30,230.38 L577.80,230.46 L578.30,230.54 L578.80,230.62 L579.30,230.69 L579.80,230.77 L580.30,230.85 L580.80,230.92 L581.30,231.00 L581.80,231.07 L582.30,231.14 L582.80,231.21 L583.30,231.29 L583.80,231.36 L584.30,231.42 L584.80,231.49 L585.30,231.56 L585.80,231.62 L586.30,231.69 L586.80,231.75 L587.30,231.82 L587.80,231.88 L588.30,231.94 L588.80,232.00 L589.30,232.06 L589.80,232.12 L590.30,232.18 L590.80,232.23 L591.30,232.29 L591.80,232.34 L592.30,232.40 L592.80,232.45 L593.30,232.50 L593.80,232.55 L594.30,232.61 L594.80,232.65 L595.30,232.70 L595.80,232.75 L596.30,232.80 L596.80,232.85 L597.30,232.89 L597.80,232.94 L598.30,232.98 L598.80,233.02 L599.30,233.07 L599.80,233.11 L600.30,233.15 L600.80,233.19 L601.30,233.23 L601.80,233.27 L602.30,233.31 L602.80,233.34 L603.30,233.38 L603.80,233.42 L604.30,233.45 L604.80,233.49 L605.30,233.52 L605.80,233.56 L606.30,233.59 L606.80,233.62 L607.30,233.66 L607.80,233.69 L608.30,233.72 L608.80,233.75 L609.30,233.78 L609.80,233.81 L610.30,233.84 L610.80,233.87 L611.30,233.90 L611.80,233.93 L612.30,233.95 L612.80,233.98 L613.30,234.01 L613.80,234.03 L614.30,234.06 L614.80,234.08 L615.30,234.11 L615.80,234.13 L616.30,234.16 L616.80,234.18 L617.30,234.21 L617.80,234.23 L618.30,234.25 L618.80,234.28 L619.30,234.30 L619.80,234.32 L620.30,234.34 L620.80,234.36 L621.30,234.38 L621.80,234.40 L622.30,234.43 L622.80,234.45 L623.30,234.47 L623.80,234.49 L624.30,234.50 L624.80,234.52 L625.30,234.54 L625.80,234.56 L626.30,234.58 L626.80,234.60 L627.30,234.62 L627.80,234.63 L628.30,234.65 L628.80,234.67 L629.30,234.69 L629.80,234.70 L630.30,234.72 L630.80,234.74 L631.30,234.75 L631.80,234.77 L632.30,234.78 L632.80,234.80 L633.30,234.82 L633.80,234.83 L634.30,234.85 L634.80,234.86 L635.30,234.88 L635.80,234.89 L636.30,234.91 L636.80,234.92 L637.30,234.93 L637.80,234.95 L638.30,234.96 L638.80,234.97 L639.30,234.99 L639.80,235.00 L640.30,235.01 L640.80,235.03 L641.30,235.04 L641.80,235.05 L642.30,235.06 L642.80,235.08 L643.30,235.09 L643.80,235.10 L644.30,235.11 L644.80,235.12 L645.30,235.14 L645.80,235.15 L646.30,235.16 L646.80,235.17 L647.30,235.18 L647.80,235.19 L648.30,235.20 L648.80,235.21 L649.30,235.22 L649.80,235.23 L650.30,235.24 L650.80,235.25 L651.30,235.26 L651.80,235.27 L652.30,235.28 L652.80,235.29 L653.30,235.30 L653.80,235.31 L654.30,235.32 L654.80,235.33 L655.30,235.34 L655.80,235.35 L656.30,235.35 L656.80,235.36 L657.30,235.37 L657.80,235.38 L658.30,235.39 L658.80,235.39 L659.30,235.40 L659.80,235.41 L660.30,235.42 L660.80,235.43 L661.30,235.43 L661.80,235.44 L662.30,235.45 L662.80,235.45 L663.30,235.46 L663.80,235.47 L664.30,235.47 L664.80,235.48 L665.30,235.49 L665.80,235.49 L666.30,235.50 L666.80,235.51 L667.30,235.51 L667.80,235.52 L668.30,235.52 L668.80,235.53 L669.30,235.53 L669.80,235.54 L670.30,235.55 L670.80,235.55 L671.30,235.56 L671.80,235.56 L672.30,235.57 L672.80,235.57 L673.30,235.58 L673.80,235.58 L674.30,235.59 L674.80,235.59 L675.30,235.60 L675.80,235.60 L676.30,235.60 L676.80,235.61 L677.30,235.61 L677.80,235.62 L678.30,235.62 L678.80,235.63 L679.30,235.63 L679.80,235.63 L680.30,235.64 L680.80,235.64" fill="none" stroke="#1b5e8c" stroke-width="1.7" stroke-linejoin="round" stroke-linecap="round"/>
<path d="M483.80,288.89 L484.30,288.23 L484.80,287.55 L485.30,286.82 L485.80,286.06 L486.30,285.26 L486.80,284.43 L487.30,283.57 L487.80,282.68 L488.30,281.75 L488.80,280.80 L489.30,279.83 L489.80,278.83 L490.30,277.82 L490.80,276.80 L491.30,275.76 L491.80,274.72 L492.30,273.68 L492.80,272.64 L493.30,271.61 L493.80,270.60 L494.30,269.61 L494.80,268.64 L495.30,267.70 L495.80,266.79 L496.30,265.93 L496.80,265.11 L497.30,264.35 L497.80,263.64 L498.30,262.99 L498.80,262.40 L499.30,261.88 L499.80,261.44 L500.30,261.07 L500.80,260.77 L501.30,260.56 L501.80,260.42 L502.30,260.37 L502.80,260.40 L503.30,260.51 L503.80,260.70 L504.30,260.97 L504.80,261.32 L505.30,261.75 L505.80,262.24 L506.30,262.81 L506.80,263.44 L507.30,264.13 L507.80,264.88 L508.30,265.69 L508.80,266.54 L509.30,267.43 L509.80,268.36 L510.30,269.32 L510.80,270.31 L511.30,271.32 L511.80,272.34 L512.30,273.38 L512.80,274.42 L513.30,275.46 L513.80,276.50 L514.30,277.53 L514.80,278.54 L515.30,279.54 L515.80,280.52 L516.30,281.48 L516.80,282.41 L517.30,283.31 L517.80,284.19 L518.30,285.03 L518.80,285.83 L519.30,286.60 L519.80,287.34 L520.30,288.04 L520.80,288.70 L521.30,289.33 L521.80,289.92 L522.30,290.47 L522.80,290.99 L523.30,291.48 L523.80,291.93 L524.30,292.35 L524.80,292.74 L525.30,293.10 L525.80,293.43 L526.30,293.73 L526.80,294.01 L527.30,294.26 L527.80,294.49 L528.30,294.70 L528.80,294.89 L529.30,295.07 L529.80,295.22 L530.30,295.36 L530.80,295.48 L531.30,295.60 L531.80,295.70 L532.30,295.79 L532.80,295.86 L533.30,295.93 L533.80,296.00 L534.30,296.05 L534.80,296.10 L535.30,296.14 L535.80,296.18 L536.30,296.21 L536.80,296.24 L537.30,296.26 L537.80,296.28 L538.30,296.30 L538.80,296.31 L539.30,296.33 L539.80,296.34 L540.30,296.35 L540.80,296.36 L541.30,296.36 L541.80,296.37 L542.30,296.37 L542.80,296.38 L543.30,296.38 L543.80,296.39 L544.30,296.39 L544.80,296.39 L545.30,296.39 L545.80,296.39 L546.30,296.39 L546.80,296.40 L547.30,296.40 L547.80,296.40 L548.30,296.40 L548.80,296.40 L549.30,296.40 L549.80,296.40 L550.30,296.40 L550.80,296.40 L551.30,296.40 L551.80,296.40 L552.30,296.40 L552.80,296.40 L553.30,296.40 L553.80,296.40 L554.30,296.40 L554.80,296.40 L555.30,296.40 L555.80,296.40 L556.30,296.40 L556.80,296.40 L557.30,296.40 L557.80,296.40 L558.30,296.40 L558.80,296.40 L559.30,296.40 L559.80,296.40 L560.30,296.40 L560.80,296.40 L561.30,296.40 L561.80,296.40 L562.30,296.40 L562.80,296.40 L563.30,296.40 L563.80,296.40 L564.30,296.40 L564.80,296.40 L565.30,296.40 L565.80,296.40 L566.30,296.40 L566.80,296.40 L567.30,296.40 L567.80,296.40 L568.30,296.40 L568.80,296.40 L569.30,296.40 L569.80,296.40 L570.30,296.40 L570.80,296.40 L571.30,296.40 L571.80,296.40 L572.30,296.40 L572.80,296.40 L573.30,296.40 L573.80,296.40 L574.30,296.40 L574.80,296.40 L575.30,296.40 L575.80,296.40 L576.30,296.40 L576.80,296.40 L577.30,296.40 L577.80,296.40 L578.30,296.40 L578.80,296.40 L579.30,296.40 L579.80,296.40 L580.30,296.40 L580.80,296.40 L581.30,296.40 L581.80,296.40 L582.30,296.40 L582.80,296.40 L583.30,296.40 L583.80,296.40 L584.30,296.40 L584.80,296.40 L585.30,296.40 L585.80,296.40 L586.30,296.40 L586.80,296.40 L587.30,296.40 L587.80,296.40 L588.30,296.40 L588.80,296.40 L589.30,296.40 L589.80,296.40 L590.30,296.40 L590.80,296.40 L591.30,296.40 L591.80,296.40 L592.30,296.40 L592.80,296.40 L593.30,296.40 L593.80,296.40 L594.30,296.40 L594.80,296.40 L595.30,296.40 L595.80,296.40 L596.30,296.40 L596.80,296.40 L597.30,296.40 L597.80,296.40 L598.30,296.40 L598.80,296.40 L599.30,296.40 L599.80,296.40 L600.30,296.40 L600.80,296.40 L601.30,296.40 L601.80,296.40 L602.30,296.40 L602.80,296.40 L603.30,296.40 L603.80,296.40 L604.30,296.40 L604.80,296.40 L605.30,296.40 L605.80,296.40 L606.30,296.40 L606.80,296.40 L607.30,296.40 L607.80,296.40 L608.30,296.40 L608.80,296.40 L609.30,296.40 L609.80,296.40 L610.30,296.40 L610.80,296.40 L611.30,296.40 L611.80,296.40 L612.30,296.40 L612.80,296.40 L613.30,296.40 L613.80,296.40 L614.30,296.40 L614.80,296.40 L615.30,296.40 L615.80,296.40 L616.30,296.40 L616.80,296.40 L617.30,296.40 L617.80,296.40 L618.30,296.40 L618.80,296.40 L619.30,296.40 L619.80,296.40 L620.30,296.40 L620.80,296.40 L621.30,296.40 L621.80,296.40 L622.30,296.40 L622.80,296.40 L623.30,296.40 L623.80,296.40 L624.30,296.40 L624.80,296.40 L625.30,296.40 L625.80,296.40 L626.30,296.40 L626.80,296.40 L627.30,296.40 L627.80,296.40 L628.30,296.40 L628.80,296.40 L629.30,296.40 L629.80,296.40 L630.30,296.40 L630.80,296.40 L631.30,296.40 L631.80,296.40 L632.30,296.40 L632.80,296.40 L633.30,296.40 L633.80,296.40 L634.30,296.40 L634.80,296.40 L635.30,296.40 L635.80,296.40 L636.30,296.40 L636.80,296.40 L637.30,296.40 L637.80,296.40 L638.30,296.40 L638.80,296.40 L639.30,296.40 L639.80,296.40 L640.30,296.40 L640.80,296.40 L641.30,296.40 L641.80,296.40 L642.30,296.40 L642.80,296.40 L643.30,296.40 L643.80,296.40 L644.30,296.40 L644.80,296.40 L645.30,296.40 L645.80,296.40 L646.30,296.40 L646.80,296.40 L647.30,296.40 L647.80,296.40 L648.30,296.40 L648.80,296.40 L649.30,296.40 L649.80,296.40 L650.30,296.40 L650.80,296.40 L651.30,296.40 L651.80,296.40 L652.30,296.40 L652.80,296.40 L653.30,296.40 L653.80,296.40 L654.30,296.40 L654.80,296.40 L655.30,296.40 L655.80,296.40 L656.30,296.40 L656.80,296.40 L657.30,296.40 L657.80,296.40 L658.30,296.40 L658.80,296.40 L659.30,296.40 L659.80,296.40 L660.30,296.40 L660.80,296.40 L661.30,296.40 L661.80,296.40 L662.30,296.40 L662.80,296.40 L663.30,296.40 L663.80,296.40 L664.30,296.40 L664.80,296.40 L665.30,296.40 L665.80,296.40 L666.30,296.40 L666.80,296.40 L667.30,296.40 L667.80,296.40 L668.30,296.40 L668.80,296.40 L669.30,296.40 L669.80,296.40 L670.30,296.40 L670.80,296.40 L671.30,296.40 L671.80,296.40 L672.30,296.40 L672.80,296.40 L673.30,296.40 L673.80,296.40 L674.30,296.40 L674.80,296.40 L675.30,296.40 L675.80,296.40 L676.30,296.40 L676.80,296.40 L677.30,296.40 L677.80,296.40 L678.30,296.40 L678.80,296.40 L679.30,296.40 L679.80,296.40 L680.30,296.40 L680.80,296.40" fill="none" stroke="#ff1a1a" stroke-width="1.5" stroke-linejoin="round" stroke-linecap="round"/>
<path d="M483.80,296.34 L484.30,296.33 L484.80,296.32 L485.30,296.30 L485.80,296.29 L486.30,296.27 L486.80,296.25 L487.30,296.23 L487.80,296.21 L488.30,296.18 L488.80,296.15 L489.30,296.12 L489.80,296.08 L490.30,296.04 L490.80,295.99 L491.30,295.94 L491.80,295.89 L492.30,295.82 L492.80,295.75 L493.30,295.68 L493.80,295.60 L494.30,295.51 L494.80,295.41 L495.30,295.30 L495.80,295.18 L496.30,295.06 L496.80,294.92 L497.30,294.78 L497.80,294.62 L498.30,294.46 L498.80,294.28 L499.30,294.09 L499.80,293.89 L500.30,293.68 L500.80,293.45 L501.30,293.22 L501.80,292.97 L502.30,292.71 L502.80,292.44 L503.30,292.16 L503.80,291.87 L504.30,291.57 L504.80,291.26 L505.30,290.94 L505.80,290.61 L506.30,290.28 L506.80,289.94 L507.30,289.60 L507.80,289.25 L508.30,288.90 L508.80,288.56 L509.30,288.21 L509.80,287.86 L510.30,287.52 L510.80,287.19 L511.30,286.86 L511.80,286.54 L512.30,286.24 L512.80,285.94 L513.30,285.66 L513.80,285.40 L514.30,285.15 L514.80,284.92 L515.30,284.71 L515.80,284.52 L516.30,284.35 L516.80,284.21 L517.30,284.09 L517.80,284.00 L518.30,283.93 L518.80,283.89 L519.30,283.87 L519.80,283.88 L520.30,283.92 L520.80,283.98 L521.30,284.07 L521.80,284.19 L522.30,284.32 L522.80,284.49 L523.30,284.67 L523.80,284.87 L524.30,285.10 L524.80,285.35 L525.30,285.61 L525.80,285.88 L526.30,286.18 L526.80,286.48 L527.30,286.80 L527.80,287.12 L528.30,287.46 L528.80,287.80 L529.30,288.14 L529.80,288.49 L530.30,288.84 L530.80,289.18 L531.30,289.53 L531.80,289.87 L532.30,290.21 L532.80,290.55 L533.30,290.87 L533.80,291.20 L534.30,291.51 L534.80,291.81 L535.30,292.10 L535.80,292.39 L536.30,292.66 L536.80,292.92 L537.30,293.17 L537.80,293.41 L538.30,293.63 L538.80,293.85 L539.30,294.05 L539.80,294.24 L540.30,294.42 L540.80,294.59 L541.30,294.75 L541.80,294.90 L542.30,295.03 L542.80,295.16 L543.30,295.28 L543.80,295.39 L544.30,295.49 L544.80,295.58 L545.30,295.66 L545.80,295.74 L546.30,295.81 L546.80,295.87 L547.30,295.93 L547.80,295.98 L548.30,296.03 L548.80,296.07 L549.30,296.11 L549.80,296.15 L550.30,296.18 L550.80,296.20 L551.30,296.23 L551.80,296.25 L552.30,296.27 L552.80,296.29 L553.30,296.30 L553.80,296.31 L554.30,296.33 L554.80,296.34 L555.30,296.35 L555.80,296.35 L556.30,296.36 L556.80,296.37 L557.30,296.37 L557.80,296.38 L558.30,296.38 L558.80,296.38 L559.30,296.38 L559.80,296.39 L560.30,296.39 L560.80,296.39 L561.30,296.39 L561.80,296.39 L562.30,296.39 L562.80,296.40 L563.30,296.40 L563.80,296.40 L564.30,296.40 L564.80,296.40 L565.30,296.40 L565.80,296.40 L566.30,296.40 L566.80,296.40 L567.30,296.40 L567.80,296.40 L568.30,296.40 L568.80,296.40 L569.30,296.40 L569.80,296.40 L570.30,296.40 L570.80,296.40 L571.30,296.40 L571.80,296.40 L572.30,296.40 L572.80,296.40 L573.30,296.40 L573.80,296.40 L574.30,296.40 L574.80,296.40 L575.30,296.40 L575.80,296.40 L576.30,296.40 L576.80,296.40 L577.30,296.40 L577.80,296.40 L578.30,296.40 L578.80,296.40 L579.30,296.40 L579.80,296.40 L580.30,296.40 L580.80,296.40 L581.30,296.40 L581.80,296.40 L582.30,296.40 L582.80,296.40 L583.30,296.40 L583.80,296.40 L584.30,296.40 L584.80,296.40 L585.30,296.40 L585.80,296.40 L586.30,296.40 L586.80,296.40 L587.30,296.40 L587.80,296.40 L588.30,296.40 L588.80,296.40 L589.30,296.40 L589.80,296.40 L590.30,296.40 L590.80,296.40 L591.30,296.40 L591.80,296.40 L592.30,296.40 L592.80,296.40 L593.30,296.40 L593.80,296.40 L594.30,296.40 L594.80,296.40 L595.30,296.40 L595.80,296.40 L596.30,296.40 L596.80,296.40 L597.30,296.40 L597.80,296.40 L598.30,296.40 L598.80,296.40 L599.30,296.40 L599.80,296.40 L600.30,296.40 L600.80,296.40 L601.30,296.40 L601.80,296.40 L602.30,296.40 L602.80,296.40 L603.30,296.40 L603.80,296.40 L604.30,296.40 L604.80,296.40 L605.30,296.40 L605.80,296.40 L606.30,296.40 L606.80,296.40 L607.30,296.40 L607.80,296.40 L608.30,296.40 L608.80,296.40 L609.30,296.40 L609.80,296.40 L610.30,296.40 L610.80,296.40 L611.30,296.40 L611.80,296.40 L612.30,296.40 L612.80,296.40 L613.30,296.40 L613.80,296.40 L614.30,296.40 L614.80,296.40 L615.30,296.40 L615.80,296.40 L616.30,296.40 L616.80,296.40 L617.30,296.40 L617.80,296.40 L618.30,296.40 L618.80,296.40 L619.30,296.40 L619.80,296.40 L620.30,296.40 L620.80,296.40 L621.30,296.40 L621.80,296.40 L622.30,296.40 L622.80,296.40 L623.30,296.40 L623.80,296.40 L624.30,296.40 L624.80,296.40 L625.30,296.40 L625.80,296.40 L626.30,296.40 L626.80,296.40 L627.30,296.40 L627.80,296.40 L628.30,296.40 L628.80,296.40 L629.30,296.40 L629.80,296.40 L630.30,296.40 L630.80,296.40 L631.30,296.40 L631.80,296.40 L632.30,296.40 L632.80,296.40 L633.30,296.40 L633.80,296.40 L634.30,296.40 L634.80,296.40 L635.30,296.40 L635.80,296.40 L636.30,296.40 L636.80,296.40 L637.30,296.40 L637.80,296.40 L638.30,296.40 L638.80,296.40 L639.30,296.40 L639.80,296.40 L640.30,296.40 L640.80,296.40 L641.30,296.40 L641.80,296.40 L642.30,296.40 L642.80,296.40 L643.30,296.40 L643.80,296.40 L644.30,296.40 L644.80,296.40 L645.30,296.40 L645.80,296.40 L646.30,296.40 L646.80,296.40 L647.30,296.40 L647.80,296.40 L648.30,296.40 L648.80,296.40 L649.30,296.40 L649.80,296.40 L650.30,296.40 L650.80,296.40 L651.30,296.40 L651.80,296.40 L652.30,296.40 L652.80,296.40 L653.30,296.40 L653.80,296.40 L654.30,296.40 L654.80,296.40 L655.30,296.40 L655.80,296.40 L656.30,296.40 L656.80,296.40 L657.30,296.40 L657.80,296.40 L658.30,296.40 L658.80,296.40 L659.30,296.40 L659.80,296.40 L660.30,296.40 L660.80,296.40 L661.30,296.40 L661.80,296.40 L662.30,296.40 L662.80,296.40 L663.30,296.40 L663.80,296.40 L664.30,296.40 L664.80,296.40 L665.30,296.40 L665.80,296.40 L666.30,296.40 L666.80,296.40 L667.30,296.40 L667.80,296.40 L668.30,296.40 L668.80,296.40 L669.30,296.40 L669.80,296.40 L670.30,296.40 L670.80,296.40 L671.30,296.40 L671.80,296.40 L672.30,296.40 L672.80,296.40 L673.30,296.40 L673.80,296.40 L674.30,296.40 L674.80,296.40 L675.30,296.40 L675.80,296.40 L676.30,296.40 L676.80,296.40 L677.30,296.40 L677.80,296.40 L678.30,296.40 L678.80,296.40 L679.30,296.40 L679.80,296.40 L680.30,296.40 L680.80,296.40" fill="none" stroke="#22e622" stroke-width="1.5" stroke-linejoin="round" stroke-linecap="round"/>
<path d="M483.80,293.30 L484.30,293.22 L484.80,293.15 L485.30,293.07 L485.80,293.00 L486.30,292.92 L486.80,292.84 L487.30,292.76 L487.80,292.68 L488.30,292.60 L488.80,292.52 L489.30,292.43 L489.80,292.35 L490.30,292.27 L490.80,292.18 L491.30,292.09 L491.80,292.00 L492.30,291.92 L492.80,291.83 L493.30,291.74 L493.80,291.64 L494.30,291.55 L494.80,291.46 L495.30,291.37 L495.80,291.27 L496.30,291.18 L496.80,291.08 L497.30,290.99 L497.80,290.89 L498.30,290.79 L498.80,290.70 L499.30,290.60 L499.80,290.50 L500.30,290.40 L500.80,290.30 L501.30,290.20 L501.80,290.10 L502.30,290.00 L502.80,289.90 L503.30,289.80 L503.80,289.70 L504.30,289.60 L504.80,289.49 L505.30,289.39 L505.80,289.29 L506.30,289.19 L506.80,289.09 L507.30,288.99 L507.80,288.89 L508.30,288.79 L508.80,288.69 L509.30,288.59 L509.80,288.49 L510.30,288.39 L510.80,288.29 L511.30,288.19 L511.80,288.09 L512.30,287.99 L512.80,287.90 L513.30,287.80 L513.80,287.70 L514.30,287.61 L514.80,287.51 L515.30,287.42 L515.80,287.33 L516.30,287.24 L516.80,287.15 L517.30,287.06 L517.80,286.97 L518.30,286.88 L518.80,286.80 L519.30,286.71 L519.80,286.63 L520.30,286.55 L520.80,286.47 L521.30,286.39 L521.80,286.31 L522.30,286.24 L522.80,286.16 L523.30,286.09 L523.80,286.02 L524.30,285.95 L524.80,285.88 L525.30,285.81 L525.80,285.75 L526.30,285.69 L526.80,285.63 L527.30,285.57 L527.80,285.51 L528.30,285.45 L528.80,285.40 L529.30,285.35 L529.80,285.30 L530.30,285.26 L530.80,285.21 L531.30,285.17 L531.80,285.13 L532.30,285.09 L532.80,285.05 L533.30,285.02 L533.80,284.99 L534.30,284.96 L534.80,284.93 L535.30,284.91 L535.80,284.89 L536.30,284.87 L536.80,284.85 L537.30,284.84 L537.80,284.82 L538.30,284.81 L538.80,284.81 L539.30,284.80 L539.80,284.80 L540.30,284.80 L540.80,284.80 L541.30,284.80 L541.80,284.81 L542.30,284.82 L542.80,284.83 L543.30,284.84 L543.80,284.86 L544.30,284.88 L544.80,284.90 L545.30,284.92 L545.80,284.95 L546.30,284.98 L546.80,285.01 L547.30,285.04 L547.80,285.07 L548.30,285.11 L548.80,285.15 L549.30,285.19 L549.80,285.24 L550.30,285.28 L550.80,285.33 L551.30,285.38 L551.80,285.43 L552.30,285.48 L552.80,285.54 L553.30,285.60 L553.80,285.66 L554.30,285.72 L554.80,285.78 L555.30,285.85 L555.80,285.92 L556.30,285.99 L556.80,286.06 L557.30,286.13 L557.80,286.20 L558.30,286.28 L558.80,286.35 L559.30,286.43 L559.80,286.51 L560.30,286.59 L560.80,286.68 L561.30,286.76 L561.80,286.85 L562.30,286.93 L562.80,287.02 L563.30,287.11 L563.80,287.20 L564.30,287.29 L564.80,287.38 L565.30,287.47 L565.80,287.57 L566.30,287.66 L566.80,287.76 L567.30,287.85 L567.80,287.95 L568.30,288.05 L568.80,288.14 L569.30,288.24 L569.80,288.34 L570.30,288.44 L570.80,288.54 L571.30,288.64 L571.80,288.74 L572.30,288.84 L572.80,288.94 L573.30,289.04 L573.80,289.15 L574.30,289.25 L574.80,289.35 L575.30,289.45 L575.80,289.55 L576.30,289.65 L576.80,289.75 L577.30,289.85 L577.80,289.95 L578.30,290.06 L578.80,290.16 L579.30,290.26 L579.80,290.36 L580.30,290.45 L580.80,290.55 L581.30,290.65 L581.80,290.75 L582.30,290.85 L582.80,290.94 L583.30,291.04 L583.80,291.14 L584.30,291.23 L584.80,291.33 L585.30,291.42 L585.80,291.51 L586.30,291.60 L586.80,291.70 L587.30,291.79 L587.80,291.88 L588.30,291.96 L588.80,292.05 L589.30,292.14 L589.80,292.23 L590.30,292.31 L590.80,292.40 L591.30,292.48 L591.80,292.56 L592.30,292.65 L592.80,292.73 L593.30,292.81 L593.80,292.88 L594.30,292.96 L594.80,293.04 L595.30,293.11 L595.80,293.19 L596.30,293.26 L596.80,293.34 L597.30,293.41 L597.80,293.48 L598.30,293.55 L598.80,293.62 L599.30,293.68 L599.80,293.75 L600.30,293.81 L600.80,293.88 L601.30,293.94 L601.80,294.00 L602.30,294.06 L602.80,294.12 L603.30,294.18 L603.80,294.24 L604.30,294.30 L604.80,294.35 L605.30,294.41 L605.80,294.46 L606.30,294.51 L606.80,294.56 L607.30,294.61 L607.80,294.66 L608.30,294.71 L608.80,294.76 L609.30,294.80 L609.80,294.85 L610.30,294.89 L610.80,294.94 L611.30,294.98 L611.80,295.02 L612.30,295.06 L612.80,295.10 L613.30,295.14 L613.80,295.18 L614.30,295.21 L614.80,295.25 L615.30,295.29 L615.80,295.32 L616.30,295.35 L616.80,295.39 L617.30,295.42 L617.80,295.45 L618.30,295.48 L618.80,295.51 L619.30,295.54 L619.80,295.57 L620.30,295.59 L620.80,295.62 L621.30,295.65 L621.80,295.67 L622.30,295.69 L622.80,295.72 L623.30,295.74 L623.80,295.76 L624.30,295.79 L624.80,295.81 L625.30,295.83 L625.80,295.85 L626.30,295.87 L626.80,295.89 L627.30,295.90 L627.80,295.92 L628.30,295.94 L628.80,295.95 L629.30,295.97 L629.80,295.99 L630.30,296.00 L630.80,296.02 L631.30,296.03 L631.80,296.04 L632.30,296.06 L632.80,296.07 L633.30,296.08 L633.80,296.10 L634.30,296.11 L634.80,296.12 L635.30,296.13 L635.80,296.14 L636.30,296.15 L636.80,296.16 L637.30,296.17 L637.80,296.18 L638.30,296.19 L638.80,296.20 L639.30,296.20 L639.80,296.21 L640.30,296.22 L640.80,296.23 L641.30,296.23 L641.80,296.24 L642.30,296.25 L642.80,296.25 L643.30,296.26 L643.80,296.27 L644.30,296.27 L644.80,296.28 L645.30,296.28 L645.80,296.29 L646.30,296.29 L646.80,296.30 L647.30,296.30 L647.80,296.31 L648.30,296.31 L648.80,296.31 L649.30,296.32 L649.80,296.32 L650.30,296.32 L650.80,296.33 L651.30,296.33 L651.80,296.33 L652.30,296.34 L652.80,296.34 L653.30,296.34 L653.80,296.35 L654.30,296.35 L654.80,296.35 L655.30,296.35 L655.80,296.35 L656.30,296.36 L656.80,296.36 L657.30,296.36 L657.80,296.36 L658.30,296.36 L658.80,296.37 L659.30,296.37 L659.80,296.37 L660.30,296.37 L660.80,296.37 L661.30,296.37 L661.80,296.38 L662.30,296.38 L662.80,296.38 L663.30,296.38 L663.80,296.38 L664.30,296.38 L664.80,296.38 L665.30,296.38 L665.80,296.38 L666.30,296.38 L666.80,296.39 L667.30,296.39 L667.80,296.39 L668.30,296.39 L668.80,296.39 L669.30,296.39 L669.80,296.39 L670.30,296.39 L670.80,296.39 L671.30,296.39 L671.80,296.39 L672.30,296.39 L672.80,296.39 L673.30,296.39 L673.80,296.39 L674.30,296.39 L674.80,296.39 L675.30,296.39 L675.80,296.39 L676.30,296.39 L676.80,296.39 L677.30,296.40 L677.80,296.40 L678.30,296.40 L678.80,296.40 L679.30,296.40 L679.80,296.40 L680.30,296.40 L680.80,296.40" fill="none" stroke="#1a1aee" stroke-width="1.5" stroke-linejoin="round" stroke-linecap="round"/>
<path d="M575.00,296.38 L575.50,296.37 L576.00,296.37 L576.50,296.36 L577.00,296.36 L577.50,296.35 L578.00,296.35 L578.50,296.34 L579.00,296.34 L579.50,296.33 L580.00,296.32 L580.50,296.31 L581.00,296.30 L581.50,296.29 L582.00,296.28 L582.50,296.27 L583.00,296.25 L583.50,296.24 L584.00,296.22 L584.50,296.21 L585.00,296.19 L585.50,296.17 L586.00,296.15 L586.50,296.13 L587.00,296.11 L587.50,296.08 L588.00,296.06 L588.50,296.03 L589.00,296.01 L589.50,295.98 L590.00,295.95 L590.50,295.92 L591.00,295.89 L591.50,295.85 L592.00,295.82 L592.50,295.79 L593.00,295.75 L593.50,295.72 L594.00,295.68 L594.50,295.65 L595.00,295.61 L595.50,295.58 L596.00,295.54 L596.50,295.50 L597.00,295.47 L597.50,295.44 L598.00,295.40 L598.50,295.37 L599.00,295.34 L599.50,295.31 L600.00,295.28 L600.50,295.25 L601.00,295.23 L601.50,295.20 L602.00,295.18 L602.50,295.16 L603.00,295.15 L603.50,295.13 L604.00,295.12 L604.50,295.11 L605.00,295.11 L605.50,295.10 L606.00,295.10 L606.50,295.10 L607.00,295.11 L607.50,295.11 L608.00,295.12 L608.50,295.13 L609.00,295.15 L609.50,295.16 L610.00,295.18 L610.50,295.20 L611.00,295.23 L611.50,295.25 L612.00,295.28 L612.50,295.31 L613.00,295.34 L613.50,295.37 L614.00,295.40 L614.50,295.44 L615.00,295.47 L615.50,295.50 L616.00,295.54 L616.50,295.58 L617.00,295.61 L617.50,295.65 L618.00,295.68 L618.50,295.72 L619.00,295.75 L619.50,295.79 L620.00,295.82 L620.50,295.85 L621.00,295.89 L621.50,295.92 L622.00,295.95 L622.50,295.98 L623.00,296.01 L623.50,296.03 L624.00,296.06 L624.50,296.08 L625.00,296.11 L625.50,296.13 L626.00,296.15 L626.50,296.17 L627.00,296.19 L627.50,296.21 L628.00,296.22 L628.50,296.24 L629.00,296.25 L629.50,296.27 L630.00,296.28 L630.50,296.29 L631.00,296.30 L631.50,296.31 L632.00,296.32 L632.50,296.33 L633.00,296.34 L633.50,296.34 L634.00,296.35 L634.50,296.35 L635.00,296.36 L635.50,296.36 L636.00,296.37 L636.50,296.37 L637.00,296.38 L637.50,296.38 L638.00,296.38 L638.50,296.38 L639.00,296.39 L639.50,296.39 L640.00,296.39" fill="none" stroke="#22e622" stroke-width="1.5" stroke-linejoin="round" stroke-linecap="round"/>
<line x1="483.2" y1="296.4" x2="681.6" y2="296.4" stroke="#14f0f0" stroke-width="1.6"/>
<path d="M483.80,285.17 L484.30,284.44 L484.80,283.69 L485.30,282.90 L485.80,282.08 L486.30,281.23 L486.80,280.35 L487.30,279.44 L487.80,278.50 L488.30,277.54 L488.80,276.55 L489.30,275.54 L489.80,274.52 L490.30,273.47 L490.80,272.41 L491.30,271.34 L491.80,270.26 L492.30,269.17 L492.80,268.08 L493.30,267.00 L493.80,265.91 L494.30,264.84 L494.80,263.78 L495.30,262.73 L495.80,261.71 L496.30,260.71 L496.80,259.74 L497.30,258.80 L497.80,257.90 L498.30,257.04 L498.80,256.22 L499.30,255.44 L499.80,254.72 L500.30,254.04 L500.80,253.42 L501.30,252.86 L501.80,252.36 L502.30,251.92 L502.80,251.53 L503.30,251.21 L503.80,250.96 L504.30,250.76 L504.80,250.63 L505.30,250.56 L505.80,250.55 L506.30,250.60 L506.80,250.71 L507.30,250.88 L507.80,251.09 L508.30,251.36 L508.80,251.68 L509.30,252.04 L509.80,252.44 L510.30,252.89 L510.80,253.36 L511.30,253.87 L511.80,254.41 L512.30,254.98 L512.80,255.57 L513.30,256.17 L513.80,256.80 L514.30,257.44 L514.80,258.08 L515.30,258.74 L515.80,259.41 L516.30,260.08 L516.80,260.75 L517.30,261.42 L517.80,262.10 L518.30,262.77 L518.80,263.44 L519.30,264.11 L519.80,264.78 L520.30,265.45 L520.80,266.11 L521.30,266.76 L521.80,267.42 L522.30,268.07 L522.80,268.71 L523.30,269.35 L523.80,269.98 L524.30,270.61 L524.80,271.23 L525.30,271.85 L525.80,272.45 L526.30,273.05 L526.80,273.64 L527.30,274.22 L527.80,274.79 L528.30,275.34 L528.80,275.89 L529.30,276.42 L529.80,276.93 L530.30,277.43 L530.80,277.91 L531.30,278.38 L531.80,278.82 L532.30,279.25 L532.80,279.66 L533.30,280.05 L533.80,280.42 L534.30,280.77 L534.80,281.10 L535.30,281.41 L535.80,281.70 L536.30,281.98 L536.80,282.23 L537.30,282.47 L537.80,282.69 L538.30,282.90 L538.80,283.09 L539.30,283.26 L539.80,283.43 L540.30,283.58 L540.80,283.72 L541.30,283.85 L541.80,283.97 L542.30,284.08 L542.80,284.19 L543.30,284.29 L543.80,284.38 L544.30,284.47 L544.80,284.56 L545.30,284.64 L545.80,284.72 L546.30,284.79 L546.80,284.87 L547.30,284.94 L547.80,285.01 L548.30,285.09 L548.80,285.16 L549.30,285.23 L549.80,285.30 L550.30,285.38 L550.80,285.45 L551.30,285.53 L551.80,285.60 L552.30,285.68 L552.80,285.76 L553.30,285.84 L553.80,285.92 L554.30,286.00 L554.80,286.09 L555.30,286.17 L555.80,286.26 L556.30,286.35 L556.80,286.44 L557.30,286.52 L557.80,286.62 L558.30,286.71 L558.80,286.80 L559.30,286.90 L559.80,286.99 L560.30,287.09 L560.80,287.18 L561.30,287.28 L561.80,287.38 L562.30,287.48 L562.80,287.58 L563.30,287.68 L563.80,287.78 L564.30,287.88 L564.80,287.98 L565.30,288.08 L565.80,288.18 L566.30,288.28 L566.80,288.38 L567.30,288.48 L567.80,288.58 L568.30,288.69 L568.80,288.79 L569.30,288.89 L569.80,288.99 L570.30,289.09 L570.80,289.19 L571.30,289.29 L571.80,289.39 L572.30,289.48 L572.80,289.58 L573.30,289.68 L573.80,289.78 L574.30,289.87 L574.80,289.97 L575.30,290.06 L575.80,290.16 L576.30,290.25 L576.80,290.34 L577.30,290.43 L577.80,290.53 L578.30,290.62 L578.80,290.70 L579.30,290.79 L579.80,290.88 L580.30,290.97 L580.80,291.05 L581.30,291.14 L581.80,291.22 L582.30,291.30 L582.80,291.38 L583.30,291.46 L583.80,291.54 L584.30,291.62 L584.80,291.70 L585.30,291.78 L585.80,291.85 L586.30,291.93 L586.80,292.00 L587.30,292.07 L587.80,292.14 L588.30,292.21 L588.80,292.28 L589.30,292.35 L589.80,292.42 L590.30,292.49 L590.80,292.55 L591.30,292.62 L591.80,292.68 L592.30,292.74 L592.80,292.80 L593.30,292.87 L593.80,292.93 L594.30,292.98 L594.80,293.04 L595.30,293.10 L595.80,293.16 L596.30,293.21 L596.80,293.27 L597.30,293.32 L597.80,293.37 L598.30,293.43 L598.80,293.48 L599.30,293.53 L599.80,293.58 L600.30,293.63 L600.80,293.68 L601.30,293.73 L601.80,293.77 L602.30,293.82 L602.80,293.87 L603.30,293.91 L603.80,293.96 L604.30,294.00 L604.80,294.05 L605.30,294.09 L605.80,294.13 L606.30,294.17 L606.80,294.21 L607.30,294.25 L607.80,294.29 L608.30,294.33 L608.80,294.37 L609.30,294.41 L609.80,294.45 L610.30,294.49 L610.80,294.53 L611.30,294.56 L611.80,294.60 L612.30,294.63 L612.80,294.67 L613.30,294.70 L613.80,294.74 L614.30,294.77 L614.80,294.81 L615.30,294.84 L615.80,294.87 L616.30,294.90 L616.80,294.93 L617.30,294.97 L617.80,295.00 L618.30,295.03 L618.80,295.06 L619.30,295.09 L619.80,295.12 L620.30,295.15 L620.80,295.17 L621.30,295.20 L621.80,295.23 L622.30,295.26 L622.80,295.28 L623.30,295.31 L623.80,295.34 L624.30,295.36 L624.80,295.39 L625.30,295.41 L625.80,295.44 L626.30,295.46 L626.80,295.48 L627.30,295.51 L627.80,295.53 L628.30,295.55 L628.80,295.58 L629.30,295.60 L629.80,295.62 L630.30,295.64 L630.80,295.66 L631.30,295.68 L631.80,295.70 L632.30,295.72 L632.80,295.74 L633.30,295.76 L633.80,295.78 L634.30,295.80 L634.80,295.81 L635.30,295.83 L635.80,295.85 L636.30,295.87 L636.80,295.88 L637.30,295.90 L637.80,295.91 L638.30,295.93 L638.80,295.94 L639.30,295.96 L639.80,295.97 L640.30,295.99 L640.80,296.00 L641.30,296.01 L641.80,296.03 L642.30,296.04 L642.80,296.05 L643.30,296.06 L643.80,296.07 L644.30,296.09 L644.80,296.10 L645.30,296.11 L645.80,296.12 L646.30,296.13 L646.80,296.14 L647.30,296.15 L647.80,296.16 L648.30,296.17 L648.80,296.18 L649.30,296.18 L649.80,296.19 L650.30,296.20 L650.80,296.21 L651.30,296.22 L651.80,296.22 L652.30,296.23 L652.80,296.24 L653.30,296.24 L653.80,296.25 L654.30,296.26 L654.80,296.26 L655.30,296.27 L655.80,296.27 L656.30,296.28 L656.80,296.28 L657.30,296.29 L657.80,296.29 L658.30,296.30 L658.80,296.30 L659.30,296.31 L659.80,296.31 L660.30,296.32 L660.80,296.32 L661.30,296.32 L661.80,296.33 L662.30,296.33 L662.80,296.33 L663.30,296.34 L663.80,296.34 L664.30,296.34 L664.80,296.35 L665.30,296.35 L665.80,296.35 L666.30,296.35 L666.80,296.36 L667.30,296.36 L667.80,296.36 L668.30,296.36 L668.80,296.36 L669.30,296.37 L669.80,296.37 L670.30,296.37 L670.80,296.37 L671.30,296.37 L671.80,296.37 L672.30,296.37 L672.80,296.38 L673.30,296.38 L673.80,296.38 L674.30,296.38 L674.80,296.38 L675.30,296.38 L675.80,296.38 L676.30,296.38 L676.80,296.38 L677.30,296.39 L677.80,296.39 L678.30,296.39 L678.80,296.39 L679.30,296.39 L679.80,296.39 L680.30,296.39 L680.80,296.39" fill="none" stroke="#228050" stroke-width="1.7" stroke-linejoin="round" stroke-linecap="round"/>
<line x1="509.5" y1="1.5" x2="509.5" y2="303" stroke="#000" stroke-width="1.1" stroke-dasharray="1.2,1.2"/>
<g stroke="#000" stroke-width="1.5" fill="none">
<rect x="483.2" y="0.6" width="198.40" height="302.90"/>
<line x1="483.2" y1="61.3" x2="681.6" y2="61.3"/>
<line x1="483.2" y1="121.9" x2="681.6" y2="121.9"/>
<line x1="483.2" y1="182.5" x2="681.6" y2="182.5"/>
<line x1="483.2" y1="242.8" x2="681.6" y2="242.8"/>
<line x1="502.60" y1="303.5" x2="502.60" y2="301.70" stroke-width="1.4"/>
<line x1="522.00" y1="303.5" x2="522.00" y2="299.70" stroke-width="1.4"/>
<line x1="541.40" y1="303.5" x2="541.40" y2="301.70" stroke-width="1.4"/>
<line x1="560.80" y1="303.5" x2="560.80" y2="299.70" stroke-width="1.4"/>
<line x1="580.20" y1="303.5" x2="580.20" y2="301.70" stroke-width="1.4"/>
<line x1="599.60" y1="303.5" x2="599.60" y2="299.70" stroke-width="1.4"/>
<line x1="619.00" y1="303.5" x2="619.00" y2="301.70" stroke-width="1.4"/>
<line x1="638.40" y1="303.5" x2="638.40" y2="299.70" stroke-width="1.4"/>
<line x1="657.80" y1="303.5" x2="657.80" y2="301.70" stroke-width="1.4"/>
<line x1="677.20" y1="303.5" x2="677.20" y2="299.70" stroke-width="1.4"/>
</g>
<text x="678.3" y="13.1" font-size="9.3" text-anchor="end" textLength="57.2" lengthAdjust="spacing">ZnO@Ag8%</text>
<text x="678.3" y="74.5" font-size="9.3" text-anchor="end" textLength="57.2" lengthAdjust="spacing">ZnO@Ag6%</text>
<text x="678.3" y="134.5" font-size="9.3" text-anchor="end" textLength="57.2" lengthAdjust="spacing">ZnO@Ag4%</text>
<text x="678.3" y="195.2" font-size="9.3" text-anchor="end" textLength="57.2" lengthAdjust="spacing">ZnO@Ag2%</text>
<text x="678.3" y="256" font-size="9.3" text-anchor="end" textLength="20.4" lengthAdjust="spacing">ZnO</text>
<text x="487" y="11.7" font-size="10">NBE</text>
<text x="512.4" y="11.7" font-size="10" letter-spacing="0.3">DLE</text>
<text x="483.20" y="315.3" font-size="9.5" text-anchor="middle" textLength="15" lengthAdjust="spacing">370</text>
<text x="522.00" y="315.3" font-size="9.5" text-anchor="middle" textLength="15" lengthAdjust="spacing">415</text>
<text x="560.80" y="315.3" font-size="9.5" text-anchor="middle" textLength="15" lengthAdjust="spacing">460</text>
<text x="599.60" y="315.3" font-size="9.5" text-anchor="middle" textLength="15" lengthAdjust="spacing">505</text>
<text x="638.40" y="315.3" font-size="9.5" text-anchor="middle" textLength="15" lengthAdjust="spacing">550</text>
<text x="677.20" y="315.3" font-size="9.5" text-anchor="middle" textLength="15" lengthAdjust="spacing">595</text>
<text x="582.4" y="337.3" font-size="15.5" text-anchor="middle">Wavelength (nm)</text>
<text transform="translate(471.8,142.4) rotate(-90)" font-size="15.25" text-anchor="middle">Intensity(a.u.)</text>
<text x="467.4" y="15.8" font-size="15">c</text>
</svg></body></html>
